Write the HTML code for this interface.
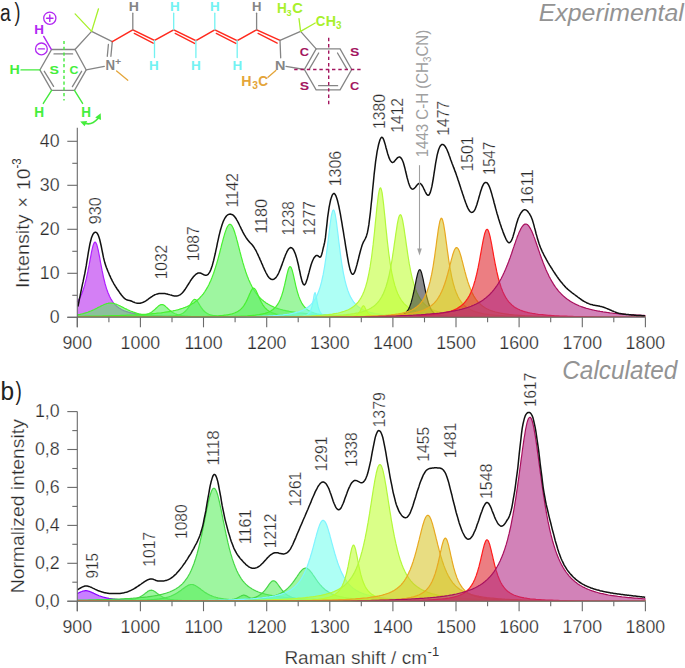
<!DOCTYPE html>
<html><head><meta charset="utf-8"><style>
html,body{margin:0;padding:0;background:#fff;}
svg{display:block;}
text{font-family:"Liberation Sans",sans-serif;}
.tk{font-size:17.8px;fill:#2a2a2a;stroke:#fff;stroke-width:0.25px;}
.pk{font-size:17px;fill:#2a2a2a;stroke:#fff;stroke-width:0.25px;}
.gl{font-size:17px;fill:#a0a0a0;}
.big{font-size:25.5px;fill:#222;}
.it{fill:#939393;font-style:italic;}
.ax{font-size:18px;fill:#2a2a2a;stroke:#fff;stroke-width:0.25px;}
</style></head><body>
<svg width="685" height="668" viewBox="0 0 685 668">
<defs><clipPath id="clipT"><rect x="0" y="0" width="685" height="316.6"/></clipPath><clipPath id="clipB"><rect x="0" y="340" width="685" height="260.5"/></clipPath></defs>
<path d="M77.3,317.3 L77.3,302.0 78.0,300.9 78.8,299.7 79.5,298.4 80.3,297.0 81.0,295.4 81.8,293.7 82.5,291.8 83.3,289.6 84.0,287.3 84.8,284.7 85.5,281.9 86.3,278.9 87.0,275.5 87.8,271.9 88.5,268.1 89.3,264.2 90.0,260.1 90.8,256.1 91.5,252.2 92.3,248.7 93.0,245.8 93.8,243.6 94.5,242.4 95.3,242.1 96.0,242.9 96.8,244.7 97.5,247.3 98.3,250.5 99.0,254.2 99.8,258.2 100.5,262.3 101.3,266.3 102.0,270.2 102.8,273.9 103.5,277.3 104.3,280.5 105.0,283.5 105.8,286.1 106.5,288.6 107.3,290.8 108.0,292.8 108.8,294.6 109.5,296.3 110.3,297.8 111.0,299.1 111.8,300.4 112.5,301.5 113.3,302.5 114.0,303.5 114.8,304.3 115.5,305.1 116.3,305.8 117.0,306.5 117.8,307.1 118.5,307.6 119.3,308.2 120.0,308.6 120.8,309.1 121.5,309.5 122.3,309.9 123.0,310.2 123.8,310.6 124.5,310.9 125.3,311.2 126.0,311.4 126.8,311.7 127.5,311.9 128.3,312.2 129.1,312.4 129.8,312.6 130.6,312.7 131.3,312.9 133.3,313.3 135.3,313.7 137.3,314.0 139.3,314.3 141.3,314.6 143.3,314.8 145.3,315.0 147.3,315.1 149.3,315.3 151.3,315.4 153.3,315.5 155.3,315.7 157.3,315.8 159.3,315.9 161.3,315.9 163.3,316.0 165.3,316.1 167.3,316.1 169.3,316.2 171.3,316.3 173.3,316.3 175.3,316.4 177.3,316.4 179.3,316.5 181.3,316.5 183.3,316.5 185.3,316.6 187.3,316.6 189.3,316.6 191.3,316.6 193.3,316.7 195.3,316.7 197.3,316.7 199.3,316.7 201.3,316.8 203.3,316.8 208.3,316.8 213.3,316.9 218.3,316.9 223.3,316.9 228.3,317.0 233.3,317.0 238.3,317.0 243.3,317.0 248.3,317.0 253.3,317.1 258.3,317.1 263.3,317.1 268.3,317.1 273.3,317.1 278.3,317.1 283.3,317.1 288.3,317.1 293.3,317.1 298.3,317.2 303.3,317.2 308.3,317.2 313.3,317.2 318.3,317.2 323.3,317.2 328.3,317.2 333.3,317.2 338.3,317.2 343.3,317.2 348.3,317.2 353.3,317.2 358.3,317.2 363.3,317.2 368.3,317.2 373.3,317.2 378.3,317.2 383.3,317.2 388.3,317.2 393.3,317.2 398.3,317.2 403.3,317.2 408.3,317.2 413.3,317.2 418.3,317.2 423.3,317.2 428.3,317.2 433.3,317.2 438.3,317.2 443.3,317.2 448.3,317.3 453.3,317.3 458.3,317.3 463.3,317.3 468.3,317.3 473.3,317.3 478.3,317.3 483.3,317.3 488.3,317.3 493.3,317.3 498.3,317.3 503.3,317.3 508.3,317.3 513.3,317.3 518.3,317.3 523.3,317.3 528.3,317.3 533.3,317.3 538.3,317.3 543.3,317.3 548.3,317.3 553.3,317.3 558.3,317.3 563.3,317.3 568.3,317.3 573.3,317.3 578.3,317.3 583.3,317.3 588.3,317.3 593.3,317.3 598.3,317.3 603.3,317.3 608.3,317.3 613.3,317.3 618.3,317.3 623.3,317.3 628.3,317.3 633.3,317.3 638.3,317.3 643.3,317.3 645.5,317.3 L645.5,317.3 Z" fill="rgba(181,34,238,0.58)"/>
<polyline points="77.3,302.0 78.0,300.9 78.8,299.7 79.5,298.4 80.3,297.0 81.0,295.4 81.8,293.7 82.5,291.8 83.3,289.6 84.0,287.3 84.8,284.7 85.5,281.9 86.3,278.9 87.0,275.5 87.8,271.9 88.5,268.1 89.3,264.2 90.0,260.1 90.8,256.1 91.5,252.2 92.3,248.7 93.0,245.8 93.8,243.6 94.5,242.4 95.3,242.1 96.0,242.9 96.8,244.7 97.5,247.3 98.3,250.5 99.0,254.2 99.8,258.2 100.5,262.3 101.3,266.3 102.0,270.2 102.8,273.9 103.5,277.3 104.3,280.5 105.0,283.5 105.8,286.1 106.5,288.6 107.3,290.8 108.0,292.8 108.8,294.6 109.5,296.3 110.3,297.8 111.0,299.1 111.8,300.4 112.5,301.5 113.3,302.5 114.0,303.5 114.8,304.3 115.5,305.1 116.3,305.8 117.0,306.5 117.8,307.1 118.5,307.6 119.3,308.2 120.0,308.6 120.8,309.1 121.5,309.5 122.3,309.9 123.0,310.2 123.8,310.6 124.5,310.9 125.3,311.2 126.0,311.4 126.8,311.7 127.5,311.9 128.3,312.2 129.1,312.4 129.8,312.6 130.6,312.7 131.3,312.9 133.3,313.3 135.3,313.7 137.3,314.0 139.3,314.3 141.3,314.6 143.3,314.8 145.3,315.0 147.3,315.1 149.3,315.3 151.3,315.4 153.3,315.5 155.3,315.7 157.3,315.8 159.3,315.9 161.3,315.9 163.3,316.0 165.3,316.1 167.3,316.1 169.3,316.2 171.3,316.3 173.3,316.3 175.3,316.4 177.3,316.4 179.3,316.5 181.3,316.5 183.3,316.5 185.3,316.6 187.3,316.6 189.3,316.6 191.3,316.6 193.3,316.7 195.3,316.7 197.3,316.7 199.3,316.7 201.3,316.8 203.3,316.8 208.3,316.8 213.3,316.9 218.3,316.9 223.3,316.9 228.3,317.0 233.3,317.0 238.3,317.0 243.3,317.0 248.3,317.0 253.3,317.1 258.3,317.1 263.3,317.1 268.3,317.1 273.3,317.1 278.3,317.1 283.3,317.1 288.3,317.1 293.3,317.1 298.3,317.2 303.3,317.2 308.3,317.2 313.3,317.2 318.3,317.2 323.3,317.2 328.3,317.2 333.3,317.2 338.3,317.2 343.3,317.2 348.3,317.2 353.3,317.2 358.3,317.2 363.3,317.2 368.3,317.2 373.3,317.2 378.3,317.2 383.3,317.2 388.3,317.2 393.3,317.2 398.3,317.2 403.3,317.2 408.3,317.2 413.3,317.2 418.3,317.2 423.3,317.2 428.3,317.2 433.3,317.2 438.3,317.2 443.3,317.2 448.3,317.3 453.3,317.3 458.3,317.3 463.3,317.3 468.3,317.3 473.3,317.3 478.3,317.3 483.3,317.3 488.3,317.3 493.3,317.3 498.3,317.3 503.3,317.3 508.3,317.3 513.3,317.3 518.3,317.3 523.3,317.3 528.3,317.3 533.3,317.3 538.3,317.3 543.3,317.3 548.3,317.3 553.3,317.3 558.3,317.3 563.3,317.3 568.3,317.3 573.3,317.3 578.3,317.3 583.3,317.3 588.3,317.3 593.3,317.3 598.3,317.3 603.3,317.3 608.3,317.3 613.3,317.3 618.3,317.3 623.3,317.3 628.3,317.3 633.3,317.3 638.3,317.3 643.3,317.3 645.5,317.3" fill="none" stroke="#b020ff" stroke-width="1.2" stroke-linejoin="round" clip-path="url(#clipT)"/>
<path d="M77.3,317.3 L77.3,314.9 78.0,314.7 78.8,314.6 79.5,314.5 80.3,314.3 81.0,314.1 81.8,314.0 82.5,313.8 83.3,313.6 84.0,313.4 84.8,313.2 85.5,312.9 86.3,312.7 87.0,312.5 87.8,312.2 88.5,311.9 89.3,311.6 90.0,311.3 90.8,311.0 91.5,310.7 92.3,310.4 93.0,310.0 93.8,309.7 94.5,309.3 95.3,309.0 96.0,308.6 96.8,308.2 97.5,307.8 98.3,307.4 99.0,307.0 99.8,306.7 100.5,306.3 101.3,305.9 102.0,305.5 102.8,305.2 103.5,304.8 104.3,304.5 105.0,304.2 105.8,304.0 106.5,303.7 107.3,303.5 108.0,303.4 108.8,303.2 109.5,303.2 110.3,303.1 111.0,303.1 111.8,303.1 112.5,303.2 113.3,303.4 114.0,303.5 114.8,303.7 115.5,304.0 116.3,304.2 117.0,304.5 117.8,304.8 118.5,305.2 119.3,305.5 120.0,305.9 120.8,306.3 121.5,306.6 122.3,307.0 123.0,307.4 123.8,307.8 124.5,308.2 125.3,308.6 126.0,308.9 126.8,309.3 127.5,309.7 128.3,310.0 129.1,310.4 129.8,310.7 130.6,311.0 131.3,311.3 132.1,311.6 132.8,311.9 133.6,312.2 134.3,312.4 135.1,312.7 135.8,312.9 136.6,313.2 137.3,313.4 138.1,313.6 138.8,313.8 139.6,314.0 140.3,314.1 141.1,314.3 141.8,314.4 142.6,314.6 143.3,314.7 144.1,314.9 144.8,315.0 145.6,315.1 146.3,315.2 147.1,315.3 147.8,315.4 148.6,315.5 149.3,315.5 150.1,315.6 150.8,315.7 151.6,315.8 152.3,315.8 153.1,315.9 153.8,315.9 154.6,316.0 155.3,316.0 156.1,316.1 156.8,316.1 157.6,316.2 158.3,316.2 159.1,316.2 159.8,316.3 160.6,316.3 161.3,316.3 162.1,316.3 162.8,316.4 163.6,316.4 164.3,316.4 165.1,316.4 165.8,316.5 166.6,316.5 167.3,316.5 168.1,316.5 168.8,316.5 169.6,316.6 170.3,316.6 171.1,316.6 171.8,316.6 172.6,316.6 173.3,316.6 174.1,316.7 174.8,316.7 175.6,316.7 176.3,316.7 177.1,316.7 177.8,316.7 178.6,316.7 179.3,316.8 180.1,316.8 180.8,316.8 181.6,316.8 182.3,316.8 183.1,316.8 185.1,316.8 187.1,316.9 189.1,316.9 191.1,316.9 193.1,316.9 195.1,316.9 197.1,316.9 199.1,317.0 201.1,317.0 203.1,317.0 205.1,317.0 207.1,317.0 209.1,317.0 211.1,317.0 213.1,317.0 215.1,317.1 217.1,317.1 219.1,317.1 221.1,317.1 223.1,317.1 225.1,317.1 227.1,317.1 229.1,317.1 231.1,317.1 233.1,317.1 235.1,317.1 237.1,317.1 239.1,317.1 241.1,317.1 243.1,317.1 245.1,317.1 247.1,317.2 249.1,317.2 251.1,317.2 253.1,317.2 255.1,317.2 257.1,317.2 259.1,317.2 261.1,317.2 263.1,317.2 265.1,317.2 267.1,317.2 269.1,317.2 271.1,317.2 273.1,317.2 275.1,317.2 277.1,317.2 279.1,317.2 281.1,317.2 283.1,317.2 285.1,317.2 287.1,317.2 289.1,317.2 291.1,317.2 293.1,317.2 295.1,317.2 297.1,317.2 299.1,317.2 301.1,317.2 303.1,317.2 305.1,317.2 307.1,317.2 309.1,317.2 311.1,317.2 313.1,317.2 315.1,317.2 317.1,317.2 319.1,317.2 321.1,317.2 323.1,317.2 325.1,317.2 327.1,317.2 332.1,317.2 337.1,317.2 342.1,317.2 347.1,317.3 352.1,317.3 357.1,317.3 362.1,317.3 367.1,317.3 372.1,317.3 377.1,317.3 382.1,317.3 387.1,317.3 392.1,317.3 397.1,317.3 402.1,317.3 407.1,317.3 412.1,317.3 417.1,317.3 422.1,317.3 427.1,317.3 432.1,317.3 437.1,317.3 442.1,317.3 447.1,317.3 452.1,317.3 457.1,317.3 462.1,317.3 467.1,317.3 472.1,317.3 477.1,317.3 482.1,317.3 487.1,317.3 492.1,317.3 497.1,317.3 502.1,317.3 507.1,317.3 512.0,317.3 517.0,317.3 522.0,317.3 527.0,317.3 532.0,317.3 537.0,317.3 542.0,317.3 547.0,317.3 552.0,317.3 557.0,317.3 562.0,317.3 567.0,317.3 572.0,317.3 577.0,317.3 582.0,317.3 587.0,317.3 592.0,317.3 597.0,317.3 602.0,317.3 607.0,317.3 612.0,317.3 617.0,317.3 622.0,317.3 627.0,317.3 632.0,317.3 637.0,317.3 642.0,317.3 645.5,317.3 L645.5,317.3 Z" fill="rgba(88,240,92,0.58)"/>
<polyline points="77.3,314.9 78.0,314.7 78.8,314.6 79.5,314.5 80.3,314.3 81.0,314.1 81.8,314.0 82.5,313.8 83.3,313.6 84.0,313.4 84.8,313.2 85.5,312.9 86.3,312.7 87.0,312.5 87.8,312.2 88.5,311.9 89.3,311.6 90.0,311.3 90.8,311.0 91.5,310.7 92.3,310.4 93.0,310.0 93.8,309.7 94.5,309.3 95.3,309.0 96.0,308.6 96.8,308.2 97.5,307.8 98.3,307.4 99.0,307.0 99.8,306.7 100.5,306.3 101.3,305.9 102.0,305.5 102.8,305.2 103.5,304.8 104.3,304.5 105.0,304.2 105.8,304.0 106.5,303.7 107.3,303.5 108.0,303.4 108.8,303.2 109.5,303.2 110.3,303.1 111.0,303.1 111.8,303.1 112.5,303.2 113.3,303.4 114.0,303.5 114.8,303.7 115.5,304.0 116.3,304.2 117.0,304.5 117.8,304.8 118.5,305.2 119.3,305.5 120.0,305.9 120.8,306.3 121.5,306.6 122.3,307.0 123.0,307.4 123.8,307.8 124.5,308.2 125.3,308.6 126.0,308.9 126.8,309.3 127.5,309.7 128.3,310.0 129.1,310.4 129.8,310.7 130.6,311.0 131.3,311.3 132.1,311.6 132.8,311.9 133.6,312.2 134.3,312.4 135.1,312.7 135.8,312.9 136.6,313.2 137.3,313.4 138.1,313.6 138.8,313.8 139.6,314.0 140.3,314.1 141.1,314.3 141.8,314.4 142.6,314.6 143.3,314.7 144.1,314.9 144.8,315.0 145.6,315.1 146.3,315.2 147.1,315.3 147.8,315.4 148.6,315.5 149.3,315.5 150.1,315.6 150.8,315.7 151.6,315.8 152.3,315.8 153.1,315.9 153.8,315.9 154.6,316.0 155.3,316.0 156.1,316.1 156.8,316.1 157.6,316.2 158.3,316.2 159.1,316.2 159.8,316.3 160.6,316.3 161.3,316.3 162.1,316.3 162.8,316.4 163.6,316.4 164.3,316.4 165.1,316.4 165.8,316.5 166.6,316.5 167.3,316.5 168.1,316.5 168.8,316.5 169.6,316.6 170.3,316.6 171.1,316.6 171.8,316.6 172.6,316.6 173.3,316.6 174.1,316.7 174.8,316.7 175.6,316.7 176.3,316.7 177.1,316.7 177.8,316.7 178.6,316.7 179.3,316.8 180.1,316.8 180.8,316.8 181.6,316.8 182.3,316.8 183.1,316.8 185.1,316.8 187.1,316.9 189.1,316.9 191.1,316.9 193.1,316.9 195.1,316.9 197.1,316.9 199.1,317.0 201.1,317.0 203.1,317.0 205.1,317.0 207.1,317.0 209.1,317.0 211.1,317.0 213.1,317.0 215.1,317.1 217.1,317.1 219.1,317.1 221.1,317.1 223.1,317.1 225.1,317.1 227.1,317.1 229.1,317.1 231.1,317.1 233.1,317.1 235.1,317.1 237.1,317.1 239.1,317.1 241.1,317.1 243.1,317.1 245.1,317.1 247.1,317.2 249.1,317.2 251.1,317.2 253.1,317.2 255.1,317.2 257.1,317.2 259.1,317.2 261.1,317.2 263.1,317.2 265.1,317.2 267.1,317.2 269.1,317.2 271.1,317.2 273.1,317.2 275.1,317.2 277.1,317.2 279.1,317.2 281.1,317.2 283.1,317.2 285.1,317.2 287.1,317.2 289.1,317.2 291.1,317.2 293.1,317.2 295.1,317.2 297.1,317.2 299.1,317.2 301.1,317.2 303.1,317.2 305.1,317.2 307.1,317.2 309.1,317.2 311.1,317.2 313.1,317.2 315.1,317.2 317.1,317.2 319.1,317.2 321.1,317.2 323.1,317.2 325.1,317.2 327.1,317.2 332.1,317.2 337.1,317.2 342.1,317.2 347.1,317.3 352.1,317.3 357.1,317.3 362.1,317.3 367.1,317.3 372.1,317.3 377.1,317.3 382.1,317.3 387.1,317.3 392.1,317.3 397.1,317.3 402.1,317.3 407.1,317.3 412.1,317.3 417.1,317.3 422.1,317.3 427.1,317.3 432.1,317.3 437.1,317.3 442.1,317.3 447.1,317.3 452.1,317.3 457.1,317.3 462.1,317.3 467.1,317.3 472.1,317.3 477.1,317.3 482.1,317.3 487.1,317.3 492.1,317.3 497.1,317.3 502.1,317.3 507.1,317.3 512.0,317.3 517.0,317.3 522.0,317.3 527.0,317.3 532.0,317.3 537.0,317.3 542.0,317.3 547.0,317.3 552.0,317.3 557.0,317.3 562.0,317.3 567.0,317.3 572.0,317.3 577.0,317.3 582.0,317.3 587.0,317.3 592.0,317.3 597.0,317.3 602.0,317.3 607.0,317.3 612.0,317.3 617.0,317.3 622.0,317.3 627.0,317.3 632.0,317.3 637.0,317.3 642.0,317.3 645.5,317.3" fill="none" stroke="#48f030" stroke-width="1.2" stroke-linejoin="round" clip-path="url(#clipT)"/>
<path d="M77.3,317.3 L77.3,317.2 79.3,317.2 81.3,317.2 83.3,317.2 85.3,317.2 87.3,317.2 89.3,317.2 91.3,317.1 93.3,317.1 95.3,317.1 97.3,317.1 99.3,317.1 101.3,317.1 103.3,317.1 105.3,317.1 107.3,317.0 109.3,317.0 111.3,317.0 113.3,317.0 115.3,317.0 117.3,316.9 119.3,316.9 121.3,316.8 123.3,316.8 125.3,316.7 127.3,316.7 128.1,316.7 128.8,316.6 129.6,316.6 130.3,316.6 131.1,316.5 131.8,316.5 132.6,316.5 133.3,316.4 134.1,316.4 134.8,316.3 135.6,316.3 136.3,316.2 137.1,316.2 137.8,316.1 138.6,316.0 139.3,315.9 140.1,315.9 140.8,315.8 141.6,315.6 142.3,315.5 143.1,315.4 143.8,315.2 144.6,315.1 145.3,314.9 146.1,314.6 146.8,314.4 147.6,314.1 148.3,313.8 149.1,313.5 149.8,313.1 150.6,312.7 151.3,312.2 152.1,311.7 152.8,311.1 153.6,310.5 154.3,309.9 155.1,309.2 155.8,308.5 156.6,307.8 157.3,307.1 158.1,306.4 158.8,305.8 159.6,305.3 160.3,304.8 161.1,304.6 161.8,304.5 162.6,304.6 163.3,304.8 164.1,305.3 164.8,305.8 165.6,306.4 166.3,307.1 167.1,307.8 167.8,308.5 168.6,309.2 169.3,309.9 170.1,310.5 170.8,311.1 171.6,311.7 172.3,312.2 173.1,312.7 173.8,313.1 174.6,313.5 175.3,313.8 176.1,314.1 176.8,314.4 177.6,314.6 178.3,314.9 179.1,315.1 179.8,315.2 180.6,315.4 181.3,315.5 182.1,315.6 182.8,315.8 183.6,315.9 184.3,315.9 185.1,316.0 185.8,316.1 186.6,316.2 187.3,316.2 188.1,316.3 188.8,316.3 189.6,316.4 190.3,316.4 191.1,316.5 191.8,316.5 192.6,316.5 193.3,316.6 194.1,316.6 194.8,316.6 195.6,316.7 196.3,316.7 197.1,316.7 199.1,316.8 201.1,316.8 203.1,316.9 205.1,316.9 207.1,316.9 209.1,317.0 211.1,317.0 213.1,317.0 215.1,317.0 217.1,317.1 219.1,317.1 221.1,317.1 223.1,317.1 225.1,317.1 227.1,317.1 229.1,317.1 231.1,317.1 233.1,317.1 235.1,317.2 237.1,317.2 239.1,317.2 241.1,317.2 243.1,317.2 245.1,317.2 247.1,317.2 249.1,317.2 251.1,317.2 253.1,317.2 255.1,317.2 257.1,317.2 259.1,317.2 261.1,317.2 263.1,317.2 265.1,317.2 267.1,317.2 272.1,317.2 277.1,317.2 282.1,317.2 287.1,317.3 292.1,317.3 297.1,317.3 302.1,317.3 307.1,317.3 312.1,317.3 317.1,317.3 322.1,317.3 327.1,317.3 332.1,317.3 337.1,317.3 342.1,317.3 347.1,317.3 352.1,317.3 357.1,317.3 362.1,317.3 367.1,317.3 372.1,317.3 377.1,317.3 382.1,317.3 387.1,317.3 392.1,317.3 397.1,317.3 402.1,317.3 407.1,317.3 412.1,317.3 417.1,317.3 422.1,317.3 427.1,317.3 432.1,317.3 437.1,317.3 442.1,317.3 447.1,317.3 452.1,317.3 457.1,317.3 462.1,317.3 467.1,317.3 472.1,317.3 477.1,317.3 482.1,317.3 487.1,317.3 492.1,317.3 497.1,317.3 502.1,317.3 507.1,317.3 512.0,317.3 517.0,317.3 522.0,317.3 527.0,317.3 532.0,317.3 537.0,317.3 542.0,317.3 547.0,317.3 552.0,317.3 557.0,317.3 562.0,317.3 567.0,317.3 572.0,317.3 577.0,317.3 582.0,317.3 587.0,317.3 592.0,317.3 597.0,317.3 602.0,317.3 607.0,317.3 612.0,317.3 617.0,317.3 622.0,317.3 627.0,317.3 632.0,317.3 637.0,317.3 642.0,317.3 645.5,317.3 L645.5,317.3 Z" fill="rgba(88,240,92,0.58)"/>
<polyline points="77.3,317.2 79.3,317.2 81.3,317.2 83.3,317.2 85.3,317.2 87.3,317.2 89.3,317.2 91.3,317.1 93.3,317.1 95.3,317.1 97.3,317.1 99.3,317.1 101.3,317.1 103.3,317.1 105.3,317.1 107.3,317.0 109.3,317.0 111.3,317.0 113.3,317.0 115.3,317.0 117.3,316.9 119.3,316.9 121.3,316.8 123.3,316.8 125.3,316.7 127.3,316.7 128.1,316.7 128.8,316.6 129.6,316.6 130.3,316.6 131.1,316.5 131.8,316.5 132.6,316.5 133.3,316.4 134.1,316.4 134.8,316.3 135.6,316.3 136.3,316.2 137.1,316.2 137.8,316.1 138.6,316.0 139.3,315.9 140.1,315.9 140.8,315.8 141.6,315.6 142.3,315.5 143.1,315.4 143.8,315.2 144.6,315.1 145.3,314.9 146.1,314.6 146.8,314.4 147.6,314.1 148.3,313.8 149.1,313.5 149.8,313.1 150.6,312.7 151.3,312.2 152.1,311.7 152.8,311.1 153.6,310.5 154.3,309.9 155.1,309.2 155.8,308.5 156.6,307.8 157.3,307.1 158.1,306.4 158.8,305.8 159.6,305.3 160.3,304.8 161.1,304.6 161.8,304.5 162.6,304.6 163.3,304.8 164.1,305.3 164.8,305.8 165.6,306.4 166.3,307.1 167.1,307.8 167.8,308.5 168.6,309.2 169.3,309.9 170.1,310.5 170.8,311.1 171.6,311.7 172.3,312.2 173.1,312.7 173.8,313.1 174.6,313.5 175.3,313.8 176.1,314.1 176.8,314.4 177.6,314.6 178.3,314.9 179.1,315.1 179.8,315.2 180.6,315.4 181.3,315.5 182.1,315.6 182.8,315.8 183.6,315.9 184.3,315.9 185.1,316.0 185.8,316.1 186.6,316.2 187.3,316.2 188.1,316.3 188.8,316.3 189.6,316.4 190.3,316.4 191.1,316.5 191.8,316.5 192.6,316.5 193.3,316.6 194.1,316.6 194.8,316.6 195.6,316.7 196.3,316.7 197.1,316.7 199.1,316.8 201.1,316.8 203.1,316.9 205.1,316.9 207.1,316.9 209.1,317.0 211.1,317.0 213.1,317.0 215.1,317.0 217.1,317.1 219.1,317.1 221.1,317.1 223.1,317.1 225.1,317.1 227.1,317.1 229.1,317.1 231.1,317.1 233.1,317.1 235.1,317.2 237.1,317.2 239.1,317.2 241.1,317.2 243.1,317.2 245.1,317.2 247.1,317.2 249.1,317.2 251.1,317.2 253.1,317.2 255.1,317.2 257.1,317.2 259.1,317.2 261.1,317.2 263.1,317.2 265.1,317.2 267.1,317.2 272.1,317.2 277.1,317.2 282.1,317.2 287.1,317.3 292.1,317.3 297.1,317.3 302.1,317.3 307.1,317.3 312.1,317.3 317.1,317.3 322.1,317.3 327.1,317.3 332.1,317.3 337.1,317.3 342.1,317.3 347.1,317.3 352.1,317.3 357.1,317.3 362.1,317.3 367.1,317.3 372.1,317.3 377.1,317.3 382.1,317.3 387.1,317.3 392.1,317.3 397.1,317.3 402.1,317.3 407.1,317.3 412.1,317.3 417.1,317.3 422.1,317.3 427.1,317.3 432.1,317.3 437.1,317.3 442.1,317.3 447.1,317.3 452.1,317.3 457.1,317.3 462.1,317.3 467.1,317.3 472.1,317.3 477.1,317.3 482.1,317.3 487.1,317.3 492.1,317.3 497.1,317.3 502.1,317.3 507.1,317.3 512.0,317.3 517.0,317.3 522.0,317.3 527.0,317.3 532.0,317.3 537.0,317.3 542.0,317.3 547.0,317.3 552.0,317.3 557.0,317.3 562.0,317.3 567.0,317.3 572.0,317.3 577.0,317.3 582.0,317.3 587.0,317.3 592.0,317.3 597.0,317.3 602.0,317.3 607.0,317.3 612.0,317.3 617.0,317.3 622.0,317.3 627.0,317.3 632.0,317.3 637.0,317.3 642.0,317.3 645.5,317.3" fill="none" stroke="#48f030" stroke-width="1.2" stroke-linejoin="round" clip-path="url(#clipT)"/>
<path d="M77.3,317.3 L77.3,317.2 82.3,317.2 87.3,317.2 92.3,317.2 97.3,317.2 102.3,317.2 107.3,317.2 112.3,317.2 114.3,317.2 116.3,317.2 118.3,317.2 120.3,317.2 122.3,317.2 124.3,317.2 126.3,317.2 128.3,317.1 130.3,317.1 132.3,317.1 134.3,317.1 136.3,317.1 138.3,317.1 140.3,317.1 142.3,317.0 144.3,317.0 146.3,317.0 148.3,317.0 150.3,317.0 152.3,316.9 154.3,316.9 156.3,316.8 158.3,316.8 160.3,316.7 162.3,316.7 164.3,316.6 166.3,316.5 168.3,316.4 169.1,316.3 169.8,316.3 170.6,316.2 171.3,316.1 172.1,316.1 172.8,316.0 173.6,315.9 174.3,315.8 175.1,315.7 175.8,315.6 176.6,315.4 177.3,315.3 178.1,315.1 178.8,314.9 179.6,314.7 180.3,314.4 181.1,314.1 181.8,313.8 182.6,313.3 183.3,312.9 184.1,312.3 184.8,311.7 185.6,311.0 186.3,310.2 187.1,309.3 187.8,308.4 188.6,307.3 189.3,306.1 190.1,304.9 190.8,303.7 191.6,302.4 192.3,301.3 193.1,300.4 193.8,299.7 194.6,299.4 195.3,299.5 196.1,299.9 196.8,300.7 197.6,301.7 198.3,302.8 199.1,304.1 199.8,305.3 200.6,306.5 201.3,307.6 202.1,308.7 202.8,309.6 203.6,310.5 204.3,311.3 205.1,311.9 205.8,312.5 206.6,313.0 207.3,313.5 208.1,313.9 208.8,314.2 209.6,314.5 210.3,314.8 211.1,315.0 211.8,315.2 212.6,315.3 213.3,315.5 214.1,315.6 214.8,315.7 215.6,315.8 216.3,315.9 217.1,316.0 217.8,316.1 218.6,316.2 219.3,316.2 220.1,316.3 220.8,316.3 221.6,316.4 222.3,316.4 223.1,316.5 225.1,316.6 227.1,316.7 229.1,316.7 231.1,316.8 233.1,316.8 235.1,316.9 237.1,316.9 239.1,317.0 241.1,317.0 243.1,317.0 245.1,317.0 247.1,317.0 249.1,317.1 251.1,317.1 253.1,317.1 255.1,317.1 257.1,317.1 259.1,317.1 261.1,317.1 263.1,317.2 265.1,317.2 267.1,317.2 269.1,317.2 271.1,317.2 273.1,317.2 275.1,317.2 277.1,317.2 279.1,317.2 284.1,317.2 289.1,317.2 294.1,317.2 299.1,317.2 304.1,317.2 309.1,317.2 314.1,317.3 319.1,317.3 324.1,317.3 329.1,317.3 334.1,317.3 339.1,317.3 344.1,317.3 349.1,317.3 354.1,317.3 359.1,317.3 364.1,317.3 369.1,317.3 374.1,317.3 379.1,317.3 384.1,317.3 389.1,317.3 394.1,317.3 399.1,317.3 404.1,317.3 409.1,317.3 414.1,317.3 419.1,317.3 424.1,317.3 429.1,317.3 434.1,317.3 439.1,317.3 444.1,317.3 449.1,317.3 454.1,317.3 459.1,317.3 464.1,317.3 469.1,317.3 474.1,317.3 479.1,317.3 484.1,317.3 489.1,317.3 494.1,317.3 499.1,317.3 504.1,317.3 509.1,317.3 514.0,317.3 519.0,317.3 524.0,317.3 529.0,317.3 534.0,317.3 539.0,317.3 544.0,317.3 549.0,317.3 554.0,317.3 559.0,317.3 564.0,317.3 569.0,317.3 574.0,317.3 579.0,317.3 584.0,317.3 589.0,317.3 594.0,317.3 599.0,317.3 604.0,317.3 609.0,317.3 614.0,317.3 619.0,317.3 624.0,317.3 629.0,317.3 634.0,317.3 639.0,317.3 644.0,317.3 645.5,317.3 L645.5,317.3 Z" fill="rgba(88,240,92,0.58)"/>
<polyline points="77.3,317.2 82.3,317.2 87.3,317.2 92.3,317.2 97.3,317.2 102.3,317.2 107.3,317.2 112.3,317.2 114.3,317.2 116.3,317.2 118.3,317.2 120.3,317.2 122.3,317.2 124.3,317.2 126.3,317.2 128.3,317.1 130.3,317.1 132.3,317.1 134.3,317.1 136.3,317.1 138.3,317.1 140.3,317.1 142.3,317.0 144.3,317.0 146.3,317.0 148.3,317.0 150.3,317.0 152.3,316.9 154.3,316.9 156.3,316.8 158.3,316.8 160.3,316.7 162.3,316.7 164.3,316.6 166.3,316.5 168.3,316.4 169.1,316.3 169.8,316.3 170.6,316.2 171.3,316.1 172.1,316.1 172.8,316.0 173.6,315.9 174.3,315.8 175.1,315.7 175.8,315.6 176.6,315.4 177.3,315.3 178.1,315.1 178.8,314.9 179.6,314.7 180.3,314.4 181.1,314.1 181.8,313.8 182.6,313.3 183.3,312.9 184.1,312.3 184.8,311.7 185.6,311.0 186.3,310.2 187.1,309.3 187.8,308.4 188.6,307.3 189.3,306.1 190.1,304.9 190.8,303.7 191.6,302.4 192.3,301.3 193.1,300.4 193.8,299.7 194.6,299.4 195.3,299.5 196.1,299.9 196.8,300.7 197.6,301.7 198.3,302.8 199.1,304.1 199.8,305.3 200.6,306.5 201.3,307.6 202.1,308.7 202.8,309.6 203.6,310.5 204.3,311.3 205.1,311.9 205.8,312.5 206.6,313.0 207.3,313.5 208.1,313.9 208.8,314.2 209.6,314.5 210.3,314.8 211.1,315.0 211.8,315.2 212.6,315.3 213.3,315.5 214.1,315.6 214.8,315.7 215.6,315.8 216.3,315.9 217.1,316.0 217.8,316.1 218.6,316.2 219.3,316.2 220.1,316.3 220.8,316.3 221.6,316.4 222.3,316.4 223.1,316.5 225.1,316.6 227.1,316.7 229.1,316.7 231.1,316.8 233.1,316.8 235.1,316.9 237.1,316.9 239.1,317.0 241.1,317.0 243.1,317.0 245.1,317.0 247.1,317.0 249.1,317.1 251.1,317.1 253.1,317.1 255.1,317.1 257.1,317.1 259.1,317.1 261.1,317.1 263.1,317.2 265.1,317.2 267.1,317.2 269.1,317.2 271.1,317.2 273.1,317.2 275.1,317.2 277.1,317.2 279.1,317.2 284.1,317.2 289.1,317.2 294.1,317.2 299.1,317.2 304.1,317.2 309.1,317.2 314.1,317.3 319.1,317.3 324.1,317.3 329.1,317.3 334.1,317.3 339.1,317.3 344.1,317.3 349.1,317.3 354.1,317.3 359.1,317.3 364.1,317.3 369.1,317.3 374.1,317.3 379.1,317.3 384.1,317.3 389.1,317.3 394.1,317.3 399.1,317.3 404.1,317.3 409.1,317.3 414.1,317.3 419.1,317.3 424.1,317.3 429.1,317.3 434.1,317.3 439.1,317.3 444.1,317.3 449.1,317.3 454.1,317.3 459.1,317.3 464.1,317.3 469.1,317.3 474.1,317.3 479.1,317.3 484.1,317.3 489.1,317.3 494.1,317.3 499.1,317.3 504.1,317.3 509.1,317.3 514.0,317.3 519.0,317.3 524.0,317.3 529.0,317.3 534.0,317.3 539.0,317.3 544.0,317.3 549.0,317.3 554.0,317.3 559.0,317.3 564.0,317.3 569.0,317.3 574.0,317.3 579.0,317.3 584.0,317.3 589.0,317.3 594.0,317.3 599.0,317.3 604.0,317.3 609.0,317.3 614.0,317.3 619.0,317.3 624.0,317.3 629.0,317.3 634.0,317.3 639.0,317.3 644.0,317.3 645.5,317.3" fill="none" stroke="#48f030" stroke-width="1.2" stroke-linejoin="round" clip-path="url(#clipT)"/>
<path d="M77.3,317.3 L77.3,316.4 79.3,316.3 81.3,316.3 83.3,316.3 85.3,316.2 87.3,316.2 89.3,316.2 91.3,316.2 93.3,316.1 95.3,316.1 97.3,316.0 99.3,316.0 101.3,316.0 103.3,315.9 105.3,315.9 107.3,315.8 109.3,315.8 111.3,315.7 113.3,315.7 115.3,315.6 117.3,315.6 119.3,315.5 121.3,315.4 123.3,315.4 125.3,315.3 127.3,315.2 129.3,315.1 131.3,315.1 133.3,315.0 135.3,314.9 137.3,314.8 139.3,314.7 141.3,314.5 143.3,314.4 145.3,314.3 147.3,314.1 149.3,314.0 151.3,313.8 153.3,313.6 155.3,313.5 157.3,313.2 159.3,313.0 161.3,312.8 163.3,312.5 165.3,312.2 167.3,311.9 169.3,311.6 170.1,311.5 170.8,311.3 171.6,311.2 172.3,311.0 173.1,310.9 173.8,310.7 174.6,310.5 175.3,310.4 176.1,310.2 176.8,310.0 177.6,309.8 178.3,309.6 179.1,309.4 179.8,309.2 180.6,308.9 181.3,308.7 182.1,308.5 182.8,308.2 183.6,307.9 184.3,307.7 185.1,307.4 185.8,307.1 186.6,306.8 187.3,306.4 188.1,306.1 188.8,305.7 189.6,305.3 190.3,304.9 191.1,304.5 191.8,304.1 192.6,303.6 193.3,303.2 194.1,302.7 194.8,302.1 195.6,301.6 196.3,301.0 197.1,300.4 197.8,299.7 198.6,299.0 199.3,298.3 200.1,297.5 200.8,296.7 201.6,295.9 202.3,295.0 203.1,294.1 203.8,293.1 204.6,292.0 205.3,290.9 206.1,289.7 206.8,288.4 207.6,287.1 208.3,285.7 209.1,284.2 209.8,282.6 210.6,281.0 211.3,279.2 212.1,277.3 212.8,275.4 213.6,273.3 214.3,271.1 215.1,268.8 215.8,266.4 216.6,263.9 217.3,261.3 218.1,258.6 218.8,255.8 219.6,253.0 220.3,250.1 221.1,247.2 221.8,244.2 222.6,241.4 223.3,238.6 224.1,235.9 224.8,233.4 225.6,231.1 226.3,229.1 227.1,227.3 227.8,226.0 228.6,225.0 229.3,224.4 230.1,224.3 230.8,224.6 231.6,225.3 232.3,226.5 233.1,228.0 233.8,229.8 234.6,232.0 235.3,234.4 236.1,236.9 236.8,239.7 237.6,242.5 238.3,245.4 239.1,248.3 239.8,251.2 240.6,254.1 241.3,256.9 242.1,259.7 242.8,262.4 243.6,264.9 244.3,267.4 245.1,269.7 245.8,272.0 246.6,274.1 247.3,276.2 248.1,278.1 248.8,279.9 249.6,281.6 250.3,283.3 251.1,284.8 251.8,286.3 252.6,287.6 253.3,288.9 254.1,290.2 254.8,291.3 255.6,292.4 256.3,293.5 257.1,294.4 257.8,295.4 258.6,296.2 259.3,297.1 260.1,297.9 260.8,298.6 261.6,299.3 262.3,300.0 263.1,300.6 263.8,301.2 264.6,301.8 265.3,302.3 266.1,302.9 266.8,303.4 267.6,303.8 268.3,304.3 269.1,304.7 269.8,305.1 270.6,305.5 271.3,305.9 272.1,306.2 272.8,306.6 273.6,306.9 274.3,307.2 275.1,307.5 275.8,307.8 276.6,308.1 277.3,308.3 278.1,308.6 278.8,308.8 279.6,309.0 280.3,309.3 281.1,309.5 281.8,309.7 282.6,309.9 283.3,310.1 284.1,310.3 284.8,310.4 285.6,310.6 286.3,310.8 287.1,310.9 287.8,311.1 288.6,311.2 289.3,311.4 290.1,311.5 290.8,311.6 291.6,311.8 292.3,311.9 294.3,312.2 296.3,312.5 298.3,312.8 300.3,313.0 302.3,313.2 304.3,313.4 306.3,313.6 308.3,313.8 310.3,314.0 312.3,314.1 314.3,314.3 316.3,314.4 318.3,314.5 320.3,314.6 322.3,314.8 324.3,314.9 326.3,315.0 328.3,315.0 330.3,315.1 332.3,315.2 334.3,315.3 336.3,315.4 338.3,315.4 340.3,315.5 342.3,315.6 344.3,315.6 346.3,315.7 348.3,315.7 350.3,315.8 352.3,315.8 354.3,315.9 356.3,315.9 358.3,316.0 360.3,316.0 362.3,316.0 364.3,316.1 366.3,316.1 368.3,316.1 370.3,316.2 372.3,316.2 374.3,316.2 376.3,316.3 378.3,316.3 380.3,316.3 382.3,316.3 384.3,316.4 386.3,316.4 388.3,316.4 390.3,316.4 392.3,316.5 394.3,316.5 396.3,316.5 398.3,316.5 400.3,316.5 402.3,316.6 404.3,316.6 406.3,316.6 408.3,316.6 410.3,316.6 412.3,316.6 414.3,316.6 416.3,316.7 421.3,316.7 426.3,316.7 431.3,316.8 436.3,316.8 441.3,316.8 446.3,316.8 451.3,316.8 456.3,316.9 461.3,316.9 466.3,316.9 471.3,316.9 476.3,316.9 481.3,316.9 486.3,317.0 491.3,317.0 496.3,317.0 501.3,317.0 506.3,317.0 511.3,317.0 516.3,317.0 521.3,317.0 526.3,317.0 531.3,317.1 536.3,317.1 541.3,317.1 546.3,317.1 551.3,317.1 556.3,317.1 561.3,317.1 566.3,317.1 571.3,317.1 576.3,317.1 581.3,317.1 586.3,317.1 591.3,317.1 596.3,317.1 601.3,317.1 606.3,317.1 611.3,317.1 616.3,317.2 621.3,317.2 626.3,317.2 631.3,317.2 636.3,317.2 641.3,317.2 645.5,317.2 L645.5,317.3 Z" fill="rgba(88,240,92,0.58)"/>
<polyline points="77.3,316.4 79.3,316.3 81.3,316.3 83.3,316.3 85.3,316.2 87.3,316.2 89.3,316.2 91.3,316.2 93.3,316.1 95.3,316.1 97.3,316.0 99.3,316.0 101.3,316.0 103.3,315.9 105.3,315.9 107.3,315.8 109.3,315.8 111.3,315.7 113.3,315.7 115.3,315.6 117.3,315.6 119.3,315.5 121.3,315.4 123.3,315.4 125.3,315.3 127.3,315.2 129.3,315.1 131.3,315.1 133.3,315.0 135.3,314.9 137.3,314.8 139.3,314.7 141.3,314.5 143.3,314.4 145.3,314.3 147.3,314.1 149.3,314.0 151.3,313.8 153.3,313.6 155.3,313.5 157.3,313.2 159.3,313.0 161.3,312.8 163.3,312.5 165.3,312.2 167.3,311.9 169.3,311.6 170.1,311.5 170.8,311.3 171.6,311.2 172.3,311.0 173.1,310.9 173.8,310.7 174.6,310.5 175.3,310.4 176.1,310.2 176.8,310.0 177.6,309.8 178.3,309.6 179.1,309.4 179.8,309.2 180.6,308.9 181.3,308.7 182.1,308.5 182.8,308.2 183.6,307.9 184.3,307.7 185.1,307.4 185.8,307.1 186.6,306.8 187.3,306.4 188.1,306.1 188.8,305.7 189.6,305.3 190.3,304.9 191.1,304.5 191.8,304.1 192.6,303.6 193.3,303.2 194.1,302.7 194.8,302.1 195.6,301.6 196.3,301.0 197.1,300.4 197.8,299.7 198.6,299.0 199.3,298.3 200.1,297.5 200.8,296.7 201.6,295.9 202.3,295.0 203.1,294.1 203.8,293.1 204.6,292.0 205.3,290.9 206.1,289.7 206.8,288.4 207.6,287.1 208.3,285.7 209.1,284.2 209.8,282.6 210.6,281.0 211.3,279.2 212.1,277.3 212.8,275.4 213.6,273.3 214.3,271.1 215.1,268.8 215.8,266.4 216.6,263.9 217.3,261.3 218.1,258.6 218.8,255.8 219.6,253.0 220.3,250.1 221.1,247.2 221.8,244.2 222.6,241.4 223.3,238.6 224.1,235.9 224.8,233.4 225.6,231.1 226.3,229.1 227.1,227.3 227.8,226.0 228.6,225.0 229.3,224.4 230.1,224.3 230.8,224.6 231.6,225.3 232.3,226.5 233.1,228.0 233.8,229.8 234.6,232.0 235.3,234.4 236.1,236.9 236.8,239.7 237.6,242.5 238.3,245.4 239.1,248.3 239.8,251.2 240.6,254.1 241.3,256.9 242.1,259.7 242.8,262.4 243.6,264.9 244.3,267.4 245.1,269.7 245.8,272.0 246.6,274.1 247.3,276.2 248.1,278.1 248.8,279.9 249.6,281.6 250.3,283.3 251.1,284.8 251.8,286.3 252.6,287.6 253.3,288.9 254.1,290.2 254.8,291.3 255.6,292.4 256.3,293.5 257.1,294.4 257.8,295.4 258.6,296.2 259.3,297.1 260.1,297.9 260.8,298.6 261.6,299.3 262.3,300.0 263.1,300.6 263.8,301.2 264.6,301.8 265.3,302.3 266.1,302.9 266.8,303.4 267.6,303.8 268.3,304.3 269.1,304.7 269.8,305.1 270.6,305.5 271.3,305.9 272.1,306.2 272.8,306.6 273.6,306.9 274.3,307.2 275.1,307.5 275.8,307.8 276.6,308.1 277.3,308.3 278.1,308.6 278.8,308.8 279.6,309.0 280.3,309.3 281.1,309.5 281.8,309.7 282.6,309.9 283.3,310.1 284.1,310.3 284.8,310.4 285.6,310.6 286.3,310.8 287.1,310.9 287.8,311.1 288.6,311.2 289.3,311.4 290.1,311.5 290.8,311.6 291.6,311.8 292.3,311.9 294.3,312.2 296.3,312.5 298.3,312.8 300.3,313.0 302.3,313.2 304.3,313.4 306.3,313.6 308.3,313.8 310.3,314.0 312.3,314.1 314.3,314.3 316.3,314.4 318.3,314.5 320.3,314.6 322.3,314.8 324.3,314.9 326.3,315.0 328.3,315.0 330.3,315.1 332.3,315.2 334.3,315.3 336.3,315.4 338.3,315.4 340.3,315.5 342.3,315.6 344.3,315.6 346.3,315.7 348.3,315.7 350.3,315.8 352.3,315.8 354.3,315.9 356.3,315.9 358.3,316.0 360.3,316.0 362.3,316.0 364.3,316.1 366.3,316.1 368.3,316.1 370.3,316.2 372.3,316.2 374.3,316.2 376.3,316.3 378.3,316.3 380.3,316.3 382.3,316.3 384.3,316.4 386.3,316.4 388.3,316.4 390.3,316.4 392.3,316.5 394.3,316.5 396.3,316.5 398.3,316.5 400.3,316.5 402.3,316.6 404.3,316.6 406.3,316.6 408.3,316.6 410.3,316.6 412.3,316.6 414.3,316.6 416.3,316.7 421.3,316.7 426.3,316.7 431.3,316.8 436.3,316.8 441.3,316.8 446.3,316.8 451.3,316.8 456.3,316.9 461.3,316.9 466.3,316.9 471.3,316.9 476.3,316.9 481.3,316.9 486.3,317.0 491.3,317.0 496.3,317.0 501.3,317.0 506.3,317.0 511.3,317.0 516.3,317.0 521.3,317.0 526.3,317.0 531.3,317.1 536.3,317.1 541.3,317.1 546.3,317.1 551.3,317.1 556.3,317.1 561.3,317.1 566.3,317.1 571.3,317.1 576.3,317.1 581.3,317.1 586.3,317.1 591.3,317.1 596.3,317.1 601.3,317.1 606.3,317.1 611.3,317.1 616.3,317.2 621.3,317.2 626.3,317.2 631.3,317.2 636.3,317.2 641.3,317.2 645.5,317.2" fill="none" stroke="#48f030" stroke-width="1.2" stroke-linejoin="round" clip-path="url(#clipT)"/>
<path d="M77.3,317.3 L77.3,317.2 82.3,317.2 87.3,317.2 92.3,317.2 97.3,317.2 102.3,317.2 107.3,317.2 112.3,317.2 117.3,317.2 122.3,317.2 127.3,317.2 132.3,317.2 137.3,317.2 142.3,317.2 147.3,317.1 152.3,317.1 157.3,317.1 162.3,317.1 164.3,317.1 166.3,317.1 168.3,317.0 170.3,317.0 172.3,317.0 174.3,317.0 176.3,317.0 178.3,317.0 180.3,317.0 182.3,316.9 184.3,316.9 186.3,316.9 188.3,316.9 190.3,316.8 192.3,316.8 194.3,316.8 196.3,316.7 198.3,316.7 200.3,316.7 202.3,316.6 204.3,316.6 206.3,316.5 208.3,316.4 210.3,316.3 212.3,316.2 214.3,316.1 216.3,316.0 218.3,315.9 220.3,315.7 222.3,315.5 223.1,315.4 223.8,315.3 224.6,315.2 225.3,315.1 226.1,315.0 226.8,314.9 227.6,314.8 228.3,314.7 229.1,314.5 229.8,314.3 230.6,314.2 231.3,314.0 232.1,313.8 232.8,313.6 233.6,313.3 234.3,313.0 235.1,312.7 235.8,312.4 236.6,312.0 237.3,311.7 238.1,311.2 238.8,310.7 239.6,310.2 240.3,309.6 241.1,308.9 241.8,308.1 242.6,307.3 243.3,306.4 244.1,305.3 244.8,304.1 245.6,302.8 246.3,301.4 247.1,299.9 247.8,298.2 248.6,296.5 249.3,294.7 250.1,293.0 250.8,291.4 251.6,290.0 252.3,288.9 253.1,288.3 253.8,288.2 254.6,288.6 255.3,289.5 256.1,290.7 256.8,292.2 257.6,293.9 258.3,295.7 259.1,297.4 259.8,299.1 260.6,300.7 261.3,302.2 262.1,303.5 262.8,304.8 263.6,305.9 264.3,306.9 265.1,307.8 265.8,308.5 266.6,309.3 267.3,309.9 268.1,310.5 268.8,311.0 269.6,311.5 270.3,311.9 271.1,312.2 271.8,312.6 272.6,312.9 273.3,313.2 274.1,313.4 274.8,313.7 275.6,313.9 276.3,314.1 277.1,314.3 277.8,314.4 278.6,314.6 279.3,314.7 280.1,314.9 280.8,315.0 281.6,315.1 282.3,315.2 283.1,315.3 283.8,315.4 284.6,315.5 285.3,315.6 286.1,315.6 288.1,315.8 290.1,316.0 292.1,316.1 294.1,316.2 296.1,316.3 298.1,316.4 300.1,316.5 302.1,316.5 304.1,316.6 306.1,316.6 308.1,316.7 310.1,316.7 312.1,316.8 314.1,316.8 316.1,316.8 318.1,316.9 320.1,316.9 322.1,316.9 324.1,316.9 326.1,316.9 328.1,317.0 330.1,317.0 332.1,317.0 334.1,317.0 336.1,317.0 338.1,317.0 340.1,317.1 342.1,317.1 344.1,317.1 346.1,317.1 348.1,317.1 350.1,317.1 355.1,317.1 360.1,317.1 365.1,317.2 370.1,317.2 375.1,317.2 380.1,317.2 385.1,317.2 390.1,317.2 395.1,317.2 400.1,317.2 405.1,317.2 410.1,317.2 415.1,317.2 420.1,317.2 425.1,317.2 430.1,317.2 435.1,317.2 440.1,317.2 445.1,317.2 450.1,317.3 455.1,317.3 460.1,317.3 465.1,317.3 470.1,317.3 475.1,317.3 480.1,317.3 485.1,317.3 490.1,317.3 495.1,317.3 500.1,317.3 505.1,317.3 510.1,317.3 515.0,317.3 520.0,317.3 525.0,317.3 530.0,317.3 535.0,317.3 540.0,317.3 545.0,317.3 550.0,317.3 555.0,317.3 560.0,317.3 565.0,317.3 570.0,317.3 575.0,317.3 580.0,317.3 585.0,317.3 590.0,317.3 595.0,317.3 600.0,317.3 605.0,317.3 610.0,317.3 615.0,317.3 620.0,317.3 625.0,317.3 630.0,317.3 635.0,317.3 640.0,317.3 645.0,317.3 645.5,317.3 L645.5,317.3 Z" fill="rgba(88,240,92,0.58)"/>
<polyline points="77.3,317.2 82.3,317.2 87.3,317.2 92.3,317.2 97.3,317.2 102.3,317.2 107.3,317.2 112.3,317.2 117.3,317.2 122.3,317.2 127.3,317.2 132.3,317.2 137.3,317.2 142.3,317.2 147.3,317.1 152.3,317.1 157.3,317.1 162.3,317.1 164.3,317.1 166.3,317.1 168.3,317.0 170.3,317.0 172.3,317.0 174.3,317.0 176.3,317.0 178.3,317.0 180.3,317.0 182.3,316.9 184.3,316.9 186.3,316.9 188.3,316.9 190.3,316.8 192.3,316.8 194.3,316.8 196.3,316.7 198.3,316.7 200.3,316.7 202.3,316.6 204.3,316.6 206.3,316.5 208.3,316.4 210.3,316.3 212.3,316.2 214.3,316.1 216.3,316.0 218.3,315.9 220.3,315.7 222.3,315.5 223.1,315.4 223.8,315.3 224.6,315.2 225.3,315.1 226.1,315.0 226.8,314.9 227.6,314.8 228.3,314.7 229.1,314.5 229.8,314.3 230.6,314.2 231.3,314.0 232.1,313.8 232.8,313.6 233.6,313.3 234.3,313.0 235.1,312.7 235.8,312.4 236.6,312.0 237.3,311.7 238.1,311.2 238.8,310.7 239.6,310.2 240.3,309.6 241.1,308.9 241.8,308.1 242.6,307.3 243.3,306.4 244.1,305.3 244.8,304.1 245.6,302.8 246.3,301.4 247.1,299.9 247.8,298.2 248.6,296.5 249.3,294.7 250.1,293.0 250.8,291.4 251.6,290.0 252.3,288.9 253.1,288.3 253.8,288.2 254.6,288.6 255.3,289.5 256.1,290.7 256.8,292.2 257.6,293.9 258.3,295.7 259.1,297.4 259.8,299.1 260.6,300.7 261.3,302.2 262.1,303.5 262.8,304.8 263.6,305.9 264.3,306.9 265.1,307.8 265.8,308.5 266.6,309.3 267.3,309.9 268.1,310.5 268.8,311.0 269.6,311.5 270.3,311.9 271.1,312.2 271.8,312.6 272.6,312.9 273.3,313.2 274.1,313.4 274.8,313.7 275.6,313.9 276.3,314.1 277.1,314.3 277.8,314.4 278.6,314.6 279.3,314.7 280.1,314.9 280.8,315.0 281.6,315.1 282.3,315.2 283.1,315.3 283.8,315.4 284.6,315.5 285.3,315.6 286.1,315.6 288.1,315.8 290.1,316.0 292.1,316.1 294.1,316.2 296.1,316.3 298.1,316.4 300.1,316.5 302.1,316.5 304.1,316.6 306.1,316.6 308.1,316.7 310.1,316.7 312.1,316.8 314.1,316.8 316.1,316.8 318.1,316.9 320.1,316.9 322.1,316.9 324.1,316.9 326.1,316.9 328.1,317.0 330.1,317.0 332.1,317.0 334.1,317.0 336.1,317.0 338.1,317.0 340.1,317.1 342.1,317.1 344.1,317.1 346.1,317.1 348.1,317.1 350.1,317.1 355.1,317.1 360.1,317.1 365.1,317.2 370.1,317.2 375.1,317.2 380.1,317.2 385.1,317.2 390.1,317.2 395.1,317.2 400.1,317.2 405.1,317.2 410.1,317.2 415.1,317.2 420.1,317.2 425.1,317.2 430.1,317.2 435.1,317.2 440.1,317.2 445.1,317.2 450.1,317.3 455.1,317.3 460.1,317.3 465.1,317.3 470.1,317.3 475.1,317.3 480.1,317.3 485.1,317.3 490.1,317.3 495.1,317.3 500.1,317.3 505.1,317.3 510.1,317.3 515.0,317.3 520.0,317.3 525.0,317.3 530.0,317.3 535.0,317.3 540.0,317.3 545.0,317.3 550.0,317.3 555.0,317.3 560.0,317.3 565.0,317.3 570.0,317.3 575.0,317.3 580.0,317.3 585.0,317.3 590.0,317.3 595.0,317.3 600.0,317.3 605.0,317.3 610.0,317.3 615.0,317.3 620.0,317.3 625.0,317.3 630.0,317.3 635.0,317.3 640.0,317.3 645.0,317.3 645.5,317.3" fill="none" stroke="#48f030" stroke-width="1.2" stroke-linejoin="round" clip-path="url(#clipT)"/>
<path d="M77.3,317.3 L77.3,317.2 82.3,317.2 87.3,317.2 92.3,317.2 97.3,317.2 102.3,317.2 107.3,317.2 112.3,317.2 117.3,317.2 122.3,317.2 127.3,317.2 132.3,317.2 137.3,317.2 142.3,317.2 147.3,317.2 152.3,317.2 157.3,317.1 162.3,317.1 167.3,317.1 172.3,317.1 177.3,317.1 182.3,317.1 187.3,317.0 192.3,317.0 197.3,317.0 202.3,317.0 207.3,316.9 209.3,316.9 211.3,316.9 213.3,316.8 215.3,316.8 217.3,316.8 219.3,316.8 221.3,316.7 223.3,316.7 225.3,316.7 227.3,316.6 229.3,316.6 231.3,316.5 233.3,316.5 235.3,316.4 237.3,316.3 239.3,316.3 241.3,316.2 243.3,316.1 245.3,316.0 247.3,315.9 249.3,315.7 251.3,315.6 253.3,315.4 255.3,315.2 257.3,314.9 259.3,314.6 261.3,314.2 262.1,314.1 262.8,313.9 263.6,313.7 264.3,313.5 265.1,313.3 265.8,313.1 266.6,312.9 267.3,312.6 268.1,312.3 268.8,312.0 269.6,311.6 270.3,311.2 271.1,310.8 271.8,310.3 272.6,309.8 273.3,309.2 274.1,308.6 274.8,307.9 275.6,307.1 276.3,306.2 277.1,305.2 277.8,304.1 278.6,302.8 279.3,301.4 280.1,299.8 280.8,298.0 281.6,295.9 282.3,293.6 283.1,291.1 283.8,288.2 284.6,285.2 285.3,281.9 286.1,278.5 286.8,275.2 287.6,272.1 288.3,269.5 289.1,267.6 289.8,266.7 290.6,266.8 291.3,267.9 292.1,270.0 292.8,272.7 293.6,275.9 294.3,279.2 295.1,282.6 295.8,285.8 296.6,288.8 297.3,291.6 298.1,294.1 298.8,296.4 299.6,298.4 300.3,300.1 301.1,301.7 301.8,303.1 302.6,304.3 303.3,305.4 304.1,306.4 304.8,307.3 305.6,308.0 306.3,308.7 307.1,309.4 307.8,309.9 308.6,310.4 309.3,310.9 310.1,311.3 310.8,311.7 311.6,312.0 312.3,312.4 313.1,312.6 313.8,312.9 314.6,313.2 315.3,313.4 316.1,313.6 316.8,313.8 317.6,314.0 318.3,314.1 319.1,314.3 319.8,314.4 321.8,314.7 323.8,315.0 325.8,315.3 327.8,315.5 329.8,315.6 331.8,315.8 333.8,315.9 335.8,316.0 337.8,316.1 339.8,316.2 341.8,316.3 343.8,316.4 345.8,316.4 347.8,316.5 349.8,316.6 351.8,316.6 353.8,316.6 355.8,316.7 357.8,316.7 359.8,316.7 361.8,316.8 363.8,316.8 365.8,316.8 367.8,316.9 369.8,316.9 371.8,316.9 373.8,316.9 375.8,316.9 377.8,317.0 382.8,317.0 387.8,317.0 392.8,317.0 397.8,317.1 402.8,317.1 407.8,317.1 412.8,317.1 417.8,317.1 422.8,317.1 427.8,317.2 432.8,317.2 437.8,317.2 442.8,317.2 447.8,317.2 452.8,317.2 457.8,317.2 462.8,317.2 467.8,317.2 472.8,317.2 477.8,317.2 482.8,317.2 487.8,317.2 492.8,317.2 497.8,317.2 502.8,317.2 507.8,317.2 512.8,317.2 517.8,317.2 522.8,317.3 527.8,317.3 532.8,317.3 537.8,317.3 542.8,317.3 547.8,317.3 552.8,317.3 557.8,317.3 562.8,317.3 567.8,317.3 572.8,317.3 577.8,317.3 582.8,317.3 587.8,317.3 592.8,317.3 597.8,317.3 602.8,317.3 607.8,317.3 612.8,317.3 617.8,317.3 622.8,317.3 627.8,317.3 632.8,317.3 637.8,317.3 642.8,317.3 645.5,317.3 L645.5,317.3 Z" fill="rgba(88,240,92,0.58)"/>
<polyline points="77.3,317.2 82.3,317.2 87.3,317.2 92.3,317.2 97.3,317.2 102.3,317.2 107.3,317.2 112.3,317.2 117.3,317.2 122.3,317.2 127.3,317.2 132.3,317.2 137.3,317.2 142.3,317.2 147.3,317.2 152.3,317.2 157.3,317.1 162.3,317.1 167.3,317.1 172.3,317.1 177.3,317.1 182.3,317.1 187.3,317.0 192.3,317.0 197.3,317.0 202.3,317.0 207.3,316.9 209.3,316.9 211.3,316.9 213.3,316.8 215.3,316.8 217.3,316.8 219.3,316.8 221.3,316.7 223.3,316.7 225.3,316.7 227.3,316.6 229.3,316.6 231.3,316.5 233.3,316.5 235.3,316.4 237.3,316.3 239.3,316.3 241.3,316.2 243.3,316.1 245.3,316.0 247.3,315.9 249.3,315.7 251.3,315.6 253.3,315.4 255.3,315.2 257.3,314.9 259.3,314.6 261.3,314.2 262.1,314.1 262.8,313.9 263.6,313.7 264.3,313.5 265.1,313.3 265.8,313.1 266.6,312.9 267.3,312.6 268.1,312.3 268.8,312.0 269.6,311.6 270.3,311.2 271.1,310.8 271.8,310.3 272.6,309.8 273.3,309.2 274.1,308.6 274.8,307.9 275.6,307.1 276.3,306.2 277.1,305.2 277.8,304.1 278.6,302.8 279.3,301.4 280.1,299.8 280.8,298.0 281.6,295.9 282.3,293.6 283.1,291.1 283.8,288.2 284.6,285.2 285.3,281.9 286.1,278.5 286.8,275.2 287.6,272.1 288.3,269.5 289.1,267.6 289.8,266.7 290.6,266.8 291.3,267.9 292.1,270.0 292.8,272.7 293.6,275.9 294.3,279.2 295.1,282.6 295.8,285.8 296.6,288.8 297.3,291.6 298.1,294.1 298.8,296.4 299.6,298.4 300.3,300.1 301.1,301.7 301.8,303.1 302.6,304.3 303.3,305.4 304.1,306.4 304.8,307.3 305.6,308.0 306.3,308.7 307.1,309.4 307.8,309.9 308.6,310.4 309.3,310.9 310.1,311.3 310.8,311.7 311.6,312.0 312.3,312.4 313.1,312.6 313.8,312.9 314.6,313.2 315.3,313.4 316.1,313.6 316.8,313.8 317.6,314.0 318.3,314.1 319.1,314.3 319.8,314.4 321.8,314.7 323.8,315.0 325.8,315.3 327.8,315.5 329.8,315.6 331.8,315.8 333.8,315.9 335.8,316.0 337.8,316.1 339.8,316.2 341.8,316.3 343.8,316.4 345.8,316.4 347.8,316.5 349.8,316.6 351.8,316.6 353.8,316.6 355.8,316.7 357.8,316.7 359.8,316.7 361.8,316.8 363.8,316.8 365.8,316.8 367.8,316.9 369.8,316.9 371.8,316.9 373.8,316.9 375.8,316.9 377.8,317.0 382.8,317.0 387.8,317.0 392.8,317.0 397.8,317.1 402.8,317.1 407.8,317.1 412.8,317.1 417.8,317.1 422.8,317.1 427.8,317.2 432.8,317.2 437.8,317.2 442.8,317.2 447.8,317.2 452.8,317.2 457.8,317.2 462.8,317.2 467.8,317.2 472.8,317.2 477.8,317.2 482.8,317.2 487.8,317.2 492.8,317.2 497.8,317.2 502.8,317.2 507.8,317.2 512.8,317.2 517.8,317.2 522.8,317.3 527.8,317.3 532.8,317.3 537.8,317.3 542.8,317.3 547.8,317.3 552.8,317.3 557.8,317.3 562.8,317.3 567.8,317.3 572.8,317.3 577.8,317.3 582.8,317.3 587.8,317.3 592.8,317.3 597.8,317.3 602.8,317.3 607.8,317.3 612.8,317.3 617.8,317.3 622.8,317.3 627.8,317.3 632.8,317.3 637.8,317.3 642.8,317.3 645.5,317.3" fill="none" stroke="#48f030" stroke-width="1.2" stroke-linejoin="round" clip-path="url(#clipT)"/>
<path d="M77.3,317.3 L77.3,317.3 82.3,317.3 87.3,317.3 92.3,317.3 97.3,317.3 102.3,317.3 107.3,317.3 112.3,317.3 117.3,317.3 122.3,317.3 127.3,317.3 132.3,317.3 137.3,317.3 142.3,317.3 147.3,317.3 152.3,317.3 157.3,317.3 162.3,317.3 167.3,317.3 172.3,317.3 177.3,317.3 182.3,317.3 187.3,317.3 192.3,317.3 197.3,317.3 202.3,317.3 207.3,317.3 212.3,317.3 217.3,317.3 222.3,317.3 227.3,317.3 232.3,317.3 237.3,317.3 242.3,317.3 247.3,317.3 252.3,317.3 257.3,317.3 262.3,317.3 267.3,317.3 272.3,317.3 277.3,317.3 282.3,317.2 287.3,317.2 289.3,317.1 291.3,317.1 293.3,317.0 295.3,316.9 297.3,316.8 299.3,316.7 301.3,316.5 303.3,316.1 305.3,315.6 306.1,315.3 306.8,315.0 307.6,314.5 308.3,313.9 309.1,313.2 309.8,312.1 310.6,310.7 311.3,308.8 312.1,306.1 312.8,302.5 313.6,298.2 314.3,294.2 315.1,292.6 315.8,294.6 316.6,298.7 317.3,303.0 318.1,306.5 318.8,309.1 319.6,310.9 320.3,312.3 321.1,313.3 321.8,314.0 322.6,314.6 323.3,315.0 324.1,315.4 324.8,315.6 325.6,315.9 326.3,316.1 328.3,316.4 330.3,316.7 332.3,316.8 334.3,316.9 336.3,317.0 338.3,317.1 340.3,317.1 342.3,317.2 344.3,317.2 346.3,317.2 348.3,317.2 353.3,317.3 358.3,317.3 363.3,317.3 368.3,317.3 373.3,317.3 378.3,317.3 383.3,317.3 388.3,317.3 393.3,317.3 398.3,317.3 403.3,317.3 408.3,317.3 413.3,317.3 418.3,317.3 423.3,317.3 428.3,317.3 433.3,317.3 438.3,317.3 443.3,317.3 448.3,317.3 453.3,317.3 458.3,317.3 463.3,317.3 468.3,317.3 473.3,317.3 478.3,317.3 483.3,317.3 488.3,317.3 493.3,317.3 498.3,317.3 503.3,317.3 508.3,317.3 513.3,317.3 518.3,317.3 523.3,317.3 528.3,317.3 533.3,317.3 538.3,317.3 543.3,317.3 548.3,317.3 553.3,317.3 558.3,317.3 563.3,317.3 568.3,317.3 573.3,317.3 578.3,317.3 583.3,317.3 588.3,317.3 593.3,317.3 598.3,317.3 603.3,317.3 608.3,317.3 613.3,317.3 618.3,317.3 623.3,317.3 628.3,317.3 633.3,317.3 638.3,317.3 643.3,317.3 645.5,317.3 L645.5,317.3 Z" fill="rgba(115,255,238,0.58)"/>
<polyline points="77.3,317.3 82.3,317.3 87.3,317.3 92.3,317.3 97.3,317.3 102.3,317.3 107.3,317.3 112.3,317.3 117.3,317.3 122.3,317.3 127.3,317.3 132.3,317.3 137.3,317.3 142.3,317.3 147.3,317.3 152.3,317.3 157.3,317.3 162.3,317.3 167.3,317.3 172.3,317.3 177.3,317.3 182.3,317.3 187.3,317.3 192.3,317.3 197.3,317.3 202.3,317.3 207.3,317.3 212.3,317.3 217.3,317.3 222.3,317.3 227.3,317.3 232.3,317.3 237.3,317.3 242.3,317.3 247.3,317.3 252.3,317.3 257.3,317.3 262.3,317.3 267.3,317.3 272.3,317.3 277.3,317.3 282.3,317.2 287.3,317.2 289.3,317.1 291.3,317.1 293.3,317.0 295.3,316.9 297.3,316.8 299.3,316.7 301.3,316.5 303.3,316.1 305.3,315.6 306.1,315.3 306.8,315.0 307.6,314.5 308.3,313.9 309.1,313.2 309.8,312.1 310.6,310.7 311.3,308.8 312.1,306.1 312.8,302.5 313.6,298.2 314.3,294.2 315.1,292.6 315.8,294.6 316.6,298.7 317.3,303.0 318.1,306.5 318.8,309.1 319.6,310.9 320.3,312.3 321.1,313.3 321.8,314.0 322.6,314.6 323.3,315.0 324.1,315.4 324.8,315.6 325.6,315.9 326.3,316.1 328.3,316.4 330.3,316.7 332.3,316.8 334.3,316.9 336.3,317.0 338.3,317.1 340.3,317.1 342.3,317.2 344.3,317.2 346.3,317.2 348.3,317.2 353.3,317.3 358.3,317.3 363.3,317.3 368.3,317.3 373.3,317.3 378.3,317.3 383.3,317.3 388.3,317.3 393.3,317.3 398.3,317.3 403.3,317.3 408.3,317.3 413.3,317.3 418.3,317.3 423.3,317.3 428.3,317.3 433.3,317.3 438.3,317.3 443.3,317.3 448.3,317.3 453.3,317.3 458.3,317.3 463.3,317.3 468.3,317.3 473.3,317.3 478.3,317.3 483.3,317.3 488.3,317.3 493.3,317.3 498.3,317.3 503.3,317.3 508.3,317.3 513.3,317.3 518.3,317.3 523.3,317.3 528.3,317.3 533.3,317.3 538.3,317.3 543.3,317.3 548.3,317.3 553.3,317.3 558.3,317.3 563.3,317.3 568.3,317.3 573.3,317.3 578.3,317.3 583.3,317.3 588.3,317.3 593.3,317.3 598.3,317.3 603.3,317.3 608.3,317.3 613.3,317.3 618.3,317.3 623.3,317.3 628.3,317.3 633.3,317.3 638.3,317.3 643.3,317.3 645.5,317.3" fill="none" stroke="#7ff4ff" stroke-width="1.2" stroke-linejoin="round" clip-path="url(#clipT)"/>
<path d="M77.3,317.3 L77.3,317.3 82.3,317.3 87.3,317.3 92.3,317.3 97.3,317.3 102.3,317.3 107.3,317.3 112.3,317.3 117.3,317.3 122.3,317.3 127.3,317.3 132.3,317.3 137.3,317.3 142.3,317.3 147.3,317.3 152.3,317.3 157.3,317.3 162.3,317.3 167.3,317.3 172.3,317.3 177.3,317.3 182.3,317.3 187.3,317.3 192.3,317.3 197.3,317.3 202.3,317.3 207.3,317.3 212.3,317.2 217.3,317.2 222.3,317.1 227.3,317.1 232.3,317.0 237.3,316.9 239.3,316.9 241.3,316.8 243.3,316.8 245.3,316.8 247.3,316.7 249.3,316.7 251.3,316.6 253.3,316.6 255.3,316.5 257.3,316.4 259.3,316.4 261.3,316.3 263.3,316.2 265.3,316.1 267.3,316.0 269.3,315.9 271.3,315.8 273.3,315.7 275.3,315.5 277.3,315.4 279.3,315.2 281.3,315.0 283.3,314.8 285.3,314.5 287.3,314.3 289.3,314.0 291.3,313.6 293.3,313.2 295.3,312.7 297.3,312.2 299.3,311.6 301.3,310.8 302.1,310.5 302.8,310.2 303.6,309.8 304.3,309.4 305.1,309.0 305.8,308.6 306.6,308.1 307.3,307.6 308.1,307.1 308.8,306.5 309.6,305.8 310.3,305.1 311.1,304.4 311.8,303.6 312.6,302.7 313.3,301.7 314.1,300.6 314.8,299.5 315.6,298.2 316.3,296.8 317.1,295.2 317.8,293.5 318.6,291.6 319.3,289.5 320.1,287.1 320.8,284.6 321.6,281.7 322.3,278.5 323.1,274.9 323.8,271.0 324.6,266.6 325.3,261.9 326.1,256.7 326.8,251.1 327.6,245.1 328.3,238.9 329.1,232.7 329.8,226.6 330.6,221.0 331.3,216.2 332.1,212.6 332.8,210.4 333.6,209.9 334.3,211.1 335.1,213.9 335.8,218.0 336.6,223.2 337.3,229.0 338.1,235.2 338.8,241.4 339.6,247.5 340.3,253.3 341.1,258.8 341.8,263.8 342.6,268.4 343.3,272.6 344.1,276.4 344.8,279.8 345.6,282.9 346.3,285.6 347.1,288.1 347.8,290.4 348.6,292.4 349.3,294.2 350.1,295.9 350.8,297.4 351.6,298.7 352.3,299.9 353.1,301.1 353.8,302.1 354.6,303.0 355.3,303.9 356.1,304.7 356.8,305.4 357.6,306.1 358.3,306.7 359.1,307.3 359.8,307.8 360.6,308.3 361.3,308.8 362.1,309.2 362.8,309.6 363.6,310.0 364.3,310.3 365.1,310.6 365.8,310.9 366.6,311.2 367.3,311.5 369.3,312.1 371.3,312.7 373.3,313.2 375.3,313.6 377.3,313.9 379.3,314.2 381.3,314.5 383.3,314.8 385.3,315.0 387.3,315.2 389.3,315.4 391.3,315.5 393.3,315.7 395.3,315.8 397.3,315.9 399.3,316.0 401.3,316.1 403.3,316.2 405.3,316.3 407.3,316.4 409.3,316.4 411.3,316.5 413.3,316.6 415.3,316.6 417.3,316.7 419.3,316.7 421.3,316.8 423.3,316.8 425.3,316.8 427.3,316.9 429.3,316.9 431.3,316.9 433.3,317.0 435.3,317.0 440.3,317.1 445.3,317.1 450.3,317.2 455.3,317.2 460.3,317.3 465.3,317.3 470.3,317.3 475.3,317.3 480.3,317.3 485.3,317.3 490.3,317.3 495.3,317.3 500.3,317.3 505.3,317.3 510.3,317.3 515.3,317.3 520.3,317.3 525.3,317.3 530.3,317.3 535.3,317.3 540.3,317.3 545.3,317.3 550.3,317.3 555.3,317.3 560.3,317.3 565.3,317.3 570.3,317.3 575.3,317.3 580.3,317.3 585.3,317.3 590.3,317.3 595.3,317.3 600.3,317.3 605.3,317.3 610.3,317.3 615.3,317.3 620.3,317.3 625.3,317.3 630.3,317.3 635.3,317.3 640.3,317.3 645.3,317.3 645.5,317.3 L645.5,317.3 Z" fill="rgba(115,255,238,0.58)"/>
<polyline points="77.3,317.3 82.3,317.3 87.3,317.3 92.3,317.3 97.3,317.3 102.3,317.3 107.3,317.3 112.3,317.3 117.3,317.3 122.3,317.3 127.3,317.3 132.3,317.3 137.3,317.3 142.3,317.3 147.3,317.3 152.3,317.3 157.3,317.3 162.3,317.3 167.3,317.3 172.3,317.3 177.3,317.3 182.3,317.3 187.3,317.3 192.3,317.3 197.3,317.3 202.3,317.3 207.3,317.3 212.3,317.2 217.3,317.2 222.3,317.1 227.3,317.1 232.3,317.0 237.3,316.9 239.3,316.9 241.3,316.8 243.3,316.8 245.3,316.8 247.3,316.7 249.3,316.7 251.3,316.6 253.3,316.6 255.3,316.5 257.3,316.4 259.3,316.4 261.3,316.3 263.3,316.2 265.3,316.1 267.3,316.0 269.3,315.9 271.3,315.8 273.3,315.7 275.3,315.5 277.3,315.4 279.3,315.2 281.3,315.0 283.3,314.8 285.3,314.5 287.3,314.3 289.3,314.0 291.3,313.6 293.3,313.2 295.3,312.7 297.3,312.2 299.3,311.6 301.3,310.8 302.1,310.5 302.8,310.2 303.6,309.8 304.3,309.4 305.1,309.0 305.8,308.6 306.6,308.1 307.3,307.6 308.1,307.1 308.8,306.5 309.6,305.8 310.3,305.1 311.1,304.4 311.8,303.6 312.6,302.7 313.3,301.7 314.1,300.6 314.8,299.5 315.6,298.2 316.3,296.8 317.1,295.2 317.8,293.5 318.6,291.6 319.3,289.5 320.1,287.1 320.8,284.6 321.6,281.7 322.3,278.5 323.1,274.9 323.8,271.0 324.6,266.6 325.3,261.9 326.1,256.7 326.8,251.1 327.6,245.1 328.3,238.9 329.1,232.7 329.8,226.6 330.6,221.0 331.3,216.2 332.1,212.6 332.8,210.4 333.6,209.9 334.3,211.1 335.1,213.9 335.8,218.0 336.6,223.2 337.3,229.0 338.1,235.2 338.8,241.4 339.6,247.5 340.3,253.3 341.1,258.8 341.8,263.8 342.6,268.4 343.3,272.6 344.1,276.4 344.8,279.8 345.6,282.9 346.3,285.6 347.1,288.1 347.8,290.4 348.6,292.4 349.3,294.2 350.1,295.9 350.8,297.4 351.6,298.7 352.3,299.9 353.1,301.1 353.8,302.1 354.6,303.0 355.3,303.9 356.1,304.7 356.8,305.4 357.6,306.1 358.3,306.7 359.1,307.3 359.8,307.8 360.6,308.3 361.3,308.8 362.1,309.2 362.8,309.6 363.6,310.0 364.3,310.3 365.1,310.6 365.8,310.9 366.6,311.2 367.3,311.5 369.3,312.1 371.3,312.7 373.3,313.2 375.3,313.6 377.3,313.9 379.3,314.2 381.3,314.5 383.3,314.8 385.3,315.0 387.3,315.2 389.3,315.4 391.3,315.5 393.3,315.7 395.3,315.8 397.3,315.9 399.3,316.0 401.3,316.1 403.3,316.2 405.3,316.3 407.3,316.4 409.3,316.4 411.3,316.5 413.3,316.6 415.3,316.6 417.3,316.7 419.3,316.7 421.3,316.8 423.3,316.8 425.3,316.8 427.3,316.9 429.3,316.9 431.3,316.9 433.3,317.0 435.3,317.0 440.3,317.1 445.3,317.1 450.3,317.2 455.3,317.2 460.3,317.3 465.3,317.3 470.3,317.3 475.3,317.3 480.3,317.3 485.3,317.3 490.3,317.3 495.3,317.3 500.3,317.3 505.3,317.3 510.3,317.3 515.3,317.3 520.3,317.3 525.3,317.3 530.3,317.3 535.3,317.3 540.3,317.3 545.3,317.3 550.3,317.3 555.3,317.3 560.3,317.3 565.3,317.3 570.3,317.3 575.3,317.3 580.3,317.3 585.3,317.3 590.3,317.3 595.3,317.3 600.3,317.3 605.3,317.3 610.3,317.3 615.3,317.3 620.3,317.3 625.3,317.3 630.3,317.3 635.3,317.3 640.3,317.3 645.3,317.3 645.5,317.3" fill="none" stroke="#7ff4ff" stroke-width="1.2" stroke-linejoin="round" clip-path="url(#clipT)"/>
<path d="M77.3,317.3 L77.3,317.3 82.3,317.3 87.3,317.3 92.3,317.3 97.3,317.3 102.3,317.3 107.3,317.3 112.3,317.3 117.3,317.3 122.3,317.3 127.3,317.3 132.3,317.3 137.3,317.3 142.3,317.3 147.3,317.3 152.3,317.3 157.3,317.3 162.3,317.3 167.3,317.3 172.3,317.3 177.3,317.3 182.3,317.3 187.3,317.3 192.3,317.3 197.3,317.3 202.3,317.3 207.3,317.3 212.3,317.3 217.3,317.3 222.3,317.3 227.3,317.3 232.3,317.3 237.3,317.3 242.3,317.3 247.3,317.3 252.3,317.3 257.3,317.3 262.3,317.3 267.3,317.3 272.3,317.3 277.3,317.3 282.3,317.3 287.3,317.3 292.3,317.3 297.3,317.3 302.3,317.3 307.3,317.3 312.3,317.3 317.3,317.3 322.3,317.3 324.3,317.3 326.3,317.2 328.3,317.2 330.3,317.2 332.3,317.2 334.3,317.2 336.3,317.2 338.3,317.1 340.3,317.1 342.3,317.0 344.3,317.0 346.3,316.9 348.3,316.8 350.3,316.6 351.1,316.5 351.8,316.4 352.6,316.2 353.3,316.1 354.1,315.9 354.8,315.7 355.6,315.4 356.3,315.1 357.1,314.6 357.8,314.1 358.6,313.4 359.3,312.4 360.1,311.3 360.8,309.8 361.6,308.2 362.3,306.7 363.1,305.8 363.8,305.9 364.6,306.8 365.3,308.4 366.1,309.9 366.8,311.4 367.6,312.5 368.3,313.4 369.1,314.1 369.8,314.7 370.6,315.1 371.3,315.4 372.1,315.7 372.8,315.9 373.6,316.1 374.3,316.3 375.1,316.4 375.8,316.5 376.6,316.6 377.3,316.7 378.1,316.7 380.1,316.9 382.1,317.0 384.1,317.0 386.1,317.1 388.1,317.1 390.1,317.1 392.1,317.2 394.1,317.2 396.1,317.2 398.1,317.2 400.1,317.2 402.1,317.3 404.1,317.3 406.1,317.3 411.1,317.3 416.1,317.3 421.1,317.3 426.1,317.3 431.1,317.3 436.1,317.3 441.1,317.3 446.1,317.3 451.1,317.3 456.1,317.3 461.1,317.3 466.1,317.3 471.1,317.3 476.1,317.3 481.1,317.3 486.1,317.3 491.1,317.3 496.1,317.3 501.1,317.3 506.1,317.3 511.1,317.3 516.0,317.3 521.0,317.3 526.0,317.3 531.0,317.3 536.0,317.3 541.0,317.3 546.0,317.3 551.0,317.3 556.0,317.3 561.0,317.3 566.0,317.3 571.0,317.3 576.0,317.3 581.0,317.3 586.0,317.3 591.0,317.3 596.0,317.3 601.0,317.3 606.0,317.3 611.0,317.3 616.0,317.3 621.0,317.3 626.0,317.3 631.0,317.3 636.0,317.3 641.0,317.3 645.5,317.3 L645.5,317.3 Z" fill="rgba(190,255,46,0.57)"/>
<polyline points="77.3,317.3 82.3,317.3 87.3,317.3 92.3,317.3 97.3,317.3 102.3,317.3 107.3,317.3 112.3,317.3 117.3,317.3 122.3,317.3 127.3,317.3 132.3,317.3 137.3,317.3 142.3,317.3 147.3,317.3 152.3,317.3 157.3,317.3 162.3,317.3 167.3,317.3 172.3,317.3 177.3,317.3 182.3,317.3 187.3,317.3 192.3,317.3 197.3,317.3 202.3,317.3 207.3,317.3 212.3,317.3 217.3,317.3 222.3,317.3 227.3,317.3 232.3,317.3 237.3,317.3 242.3,317.3 247.3,317.3 252.3,317.3 257.3,317.3 262.3,317.3 267.3,317.3 272.3,317.3 277.3,317.3 282.3,317.3 287.3,317.3 292.3,317.3 297.3,317.3 302.3,317.3 307.3,317.3 312.3,317.3 317.3,317.3 322.3,317.3 324.3,317.3 326.3,317.2 328.3,317.2 330.3,317.2 332.3,317.2 334.3,317.2 336.3,317.2 338.3,317.1 340.3,317.1 342.3,317.0 344.3,317.0 346.3,316.9 348.3,316.8 350.3,316.6 351.1,316.5 351.8,316.4 352.6,316.2 353.3,316.1 354.1,315.9 354.8,315.7 355.6,315.4 356.3,315.1 357.1,314.6 357.8,314.1 358.6,313.4 359.3,312.4 360.1,311.3 360.8,309.8 361.6,308.2 362.3,306.7 363.1,305.8 363.8,305.9 364.6,306.8 365.3,308.4 366.1,309.9 366.8,311.4 367.6,312.5 368.3,313.4 369.1,314.1 369.8,314.7 370.6,315.1 371.3,315.4 372.1,315.7 372.8,315.9 373.6,316.1 374.3,316.3 375.1,316.4 375.8,316.5 376.6,316.6 377.3,316.7 378.1,316.7 380.1,316.9 382.1,317.0 384.1,317.0 386.1,317.1 388.1,317.1 390.1,317.1 392.1,317.2 394.1,317.2 396.1,317.2 398.1,317.2 400.1,317.2 402.1,317.3 404.1,317.3 406.1,317.3 411.1,317.3 416.1,317.3 421.1,317.3 426.1,317.3 431.1,317.3 436.1,317.3 441.1,317.3 446.1,317.3 451.1,317.3 456.1,317.3 461.1,317.3 466.1,317.3 471.1,317.3 476.1,317.3 481.1,317.3 486.1,317.3 491.1,317.3 496.1,317.3 501.1,317.3 506.1,317.3 511.1,317.3 516.0,317.3 521.0,317.3 526.0,317.3 531.0,317.3 536.0,317.3 541.0,317.3 546.0,317.3 551.0,317.3 556.0,317.3 561.0,317.3 566.0,317.3 571.0,317.3 576.0,317.3 581.0,317.3 586.0,317.3 591.0,317.3 596.0,317.3 601.0,317.3 606.0,317.3 611.0,317.3 616.0,317.3 621.0,317.3 626.0,317.3 631.0,317.3 636.0,317.3 641.0,317.3 645.5,317.3" fill="none" stroke="#b4f83c" stroke-width="1.2" stroke-linejoin="round" clip-path="url(#clipT)"/>
<path d="M77.3,317.3 L77.3,317.3 82.3,317.3 87.3,317.3 92.3,317.3 97.3,317.3 102.3,317.3 107.3,317.3 112.3,317.3 117.3,317.3 122.3,317.3 127.3,317.3 132.3,317.3 137.3,317.3 142.3,317.3 147.3,317.3 152.3,317.3 157.3,317.3 162.3,317.3 167.3,317.3 172.3,317.3 177.3,317.3 182.3,317.3 187.3,317.3 192.3,317.3 197.3,317.3 202.3,317.3 207.3,317.3 212.3,317.3 217.3,317.3 222.3,317.3 227.3,317.3 232.3,317.3 237.3,317.3 242.3,317.3 247.3,317.3 252.3,317.3 257.3,317.2 262.3,317.2 267.3,317.1 272.3,317.1 277.3,317.0 282.3,316.9 284.3,316.9 286.3,316.8 288.3,316.8 290.3,316.7 292.3,316.7 294.3,316.6 296.3,316.6 298.3,316.5 300.3,316.4 302.3,316.4 304.3,316.3 306.3,316.2 308.3,316.1 310.3,316.0 312.3,315.9 314.3,315.8 316.3,315.7 318.3,315.5 320.3,315.4 322.3,315.2 324.3,315.0 326.3,314.8 328.3,314.6 330.3,314.3 332.3,314.1 334.3,313.7 336.3,313.4 338.3,313.0 340.3,312.5 342.3,311.9 344.3,311.3 346.3,310.5 348.3,309.7 349.1,309.3 349.8,308.9 350.6,308.5 351.3,308.0 352.1,307.6 352.8,307.0 353.6,306.5 354.3,305.9 355.1,305.2 355.8,304.5 356.6,303.8 357.3,303.0 358.1,302.1 358.8,301.1 359.6,300.0 360.3,298.9 361.1,297.6 361.8,296.2 362.6,294.7 363.3,293.0 364.1,291.2 364.8,289.1 365.6,286.9 366.3,284.4 367.1,281.6 367.8,278.5 368.6,275.0 369.3,271.2 370.1,266.9 370.8,262.2 371.6,257.0 372.3,251.2 373.1,244.9 373.8,238.2 374.6,231.0 375.3,223.4 376.1,215.8 376.8,208.4 377.6,201.5 378.3,195.6 379.1,191.2 379.8,188.5 380.6,187.8 381.3,189.3 382.1,192.7 382.8,197.8 383.6,204.2 384.3,211.3 385.1,218.9 385.8,226.5 386.6,233.9 387.3,240.9 388.1,247.5 388.8,253.6 389.6,259.1 390.3,264.2 391.1,268.7 391.8,272.8 392.6,276.5 393.3,279.8 394.1,282.7 394.8,285.4 395.6,287.8 396.3,290.0 397.1,291.9 397.8,293.7 398.6,295.3 399.3,296.8 400.1,298.1 400.8,299.4 401.6,300.5 402.3,301.5 403.1,302.4 403.8,303.3 404.6,304.1 405.3,304.8 406.1,305.5 406.8,306.1 407.6,306.7 408.3,307.2 409.1,307.8 409.8,308.2 410.6,308.7 411.3,309.1 412.1,309.5 412.8,309.8 413.6,310.2 414.3,310.5 416.3,311.2 418.3,311.9 420.3,312.4 422.3,312.9 424.3,313.3 426.3,313.7 428.3,314.0 430.3,314.3 432.3,314.6 434.3,314.8 436.3,315.0 438.3,315.2 440.3,315.4 442.3,315.5 444.3,315.7 446.3,315.8 448.3,315.9 450.3,316.0 452.3,316.1 454.3,316.2 456.3,316.3 458.3,316.4 460.3,316.4 462.3,316.5 464.3,316.6 466.3,316.6 468.3,316.7 470.3,316.7 472.3,316.8 474.3,316.8 476.3,316.9 478.3,316.9 480.3,316.9 485.3,317.0 490.3,317.1 495.3,317.1 500.3,317.2 505.3,317.2 510.3,317.3 515.3,317.3 520.3,317.3 525.3,317.3 530.3,317.3 535.3,317.3 540.3,317.3 545.3,317.3 550.3,317.3 555.3,317.3 560.3,317.3 565.3,317.3 570.3,317.3 575.3,317.3 580.3,317.3 585.3,317.3 590.3,317.3 595.3,317.3 600.3,317.3 605.3,317.3 610.3,317.3 615.3,317.3 620.3,317.3 625.3,317.3 630.3,317.3 635.3,317.3 640.3,317.3 645.3,317.3 645.5,317.3 L645.5,317.3 Z" fill="rgba(190,255,46,0.57)"/>
<polyline points="77.3,317.3 82.3,317.3 87.3,317.3 92.3,317.3 97.3,317.3 102.3,317.3 107.3,317.3 112.3,317.3 117.3,317.3 122.3,317.3 127.3,317.3 132.3,317.3 137.3,317.3 142.3,317.3 147.3,317.3 152.3,317.3 157.3,317.3 162.3,317.3 167.3,317.3 172.3,317.3 177.3,317.3 182.3,317.3 187.3,317.3 192.3,317.3 197.3,317.3 202.3,317.3 207.3,317.3 212.3,317.3 217.3,317.3 222.3,317.3 227.3,317.3 232.3,317.3 237.3,317.3 242.3,317.3 247.3,317.3 252.3,317.3 257.3,317.2 262.3,317.2 267.3,317.1 272.3,317.1 277.3,317.0 282.3,316.9 284.3,316.9 286.3,316.8 288.3,316.8 290.3,316.7 292.3,316.7 294.3,316.6 296.3,316.6 298.3,316.5 300.3,316.4 302.3,316.4 304.3,316.3 306.3,316.2 308.3,316.1 310.3,316.0 312.3,315.9 314.3,315.8 316.3,315.7 318.3,315.5 320.3,315.4 322.3,315.2 324.3,315.0 326.3,314.8 328.3,314.6 330.3,314.3 332.3,314.1 334.3,313.7 336.3,313.4 338.3,313.0 340.3,312.5 342.3,311.9 344.3,311.3 346.3,310.5 348.3,309.7 349.1,309.3 349.8,308.9 350.6,308.5 351.3,308.0 352.1,307.6 352.8,307.0 353.6,306.5 354.3,305.9 355.1,305.2 355.8,304.5 356.6,303.8 357.3,303.0 358.1,302.1 358.8,301.1 359.6,300.0 360.3,298.9 361.1,297.6 361.8,296.2 362.6,294.7 363.3,293.0 364.1,291.2 364.8,289.1 365.6,286.9 366.3,284.4 367.1,281.6 367.8,278.5 368.6,275.0 369.3,271.2 370.1,266.9 370.8,262.2 371.6,257.0 372.3,251.2 373.1,244.9 373.8,238.2 374.6,231.0 375.3,223.4 376.1,215.8 376.8,208.4 377.6,201.5 378.3,195.6 379.1,191.2 379.8,188.5 380.6,187.8 381.3,189.3 382.1,192.7 382.8,197.8 383.6,204.2 384.3,211.3 385.1,218.9 385.8,226.5 386.6,233.9 387.3,240.9 388.1,247.5 388.8,253.6 389.6,259.1 390.3,264.2 391.1,268.7 391.8,272.8 392.6,276.5 393.3,279.8 394.1,282.7 394.8,285.4 395.6,287.8 396.3,290.0 397.1,291.9 397.8,293.7 398.6,295.3 399.3,296.8 400.1,298.1 400.8,299.4 401.6,300.5 402.3,301.5 403.1,302.4 403.8,303.3 404.6,304.1 405.3,304.8 406.1,305.5 406.8,306.1 407.6,306.7 408.3,307.2 409.1,307.8 409.8,308.2 410.6,308.7 411.3,309.1 412.1,309.5 412.8,309.8 413.6,310.2 414.3,310.5 416.3,311.2 418.3,311.9 420.3,312.4 422.3,312.9 424.3,313.3 426.3,313.7 428.3,314.0 430.3,314.3 432.3,314.6 434.3,314.8 436.3,315.0 438.3,315.2 440.3,315.4 442.3,315.5 444.3,315.7 446.3,315.8 448.3,315.9 450.3,316.0 452.3,316.1 454.3,316.2 456.3,316.3 458.3,316.4 460.3,316.4 462.3,316.5 464.3,316.6 466.3,316.6 468.3,316.7 470.3,316.7 472.3,316.8 474.3,316.8 476.3,316.9 478.3,316.9 480.3,316.9 485.3,317.0 490.3,317.1 495.3,317.1 500.3,317.2 505.3,317.2 510.3,317.3 515.3,317.3 520.3,317.3 525.3,317.3 530.3,317.3 535.3,317.3 540.3,317.3 545.3,317.3 550.3,317.3 555.3,317.3 560.3,317.3 565.3,317.3 570.3,317.3 575.3,317.3 580.3,317.3 585.3,317.3 590.3,317.3 595.3,317.3 600.3,317.3 605.3,317.3 610.3,317.3 615.3,317.3 620.3,317.3 625.3,317.3 630.3,317.3 635.3,317.3 640.3,317.3 645.3,317.3 645.5,317.3" fill="none" stroke="#b4f83c" stroke-width="1.2" stroke-linejoin="round" clip-path="url(#clipT)"/>
<path d="M77.3,317.3 L77.3,317.3 82.3,317.3 87.3,317.3 92.3,317.3 97.3,317.3 102.3,317.3 107.3,317.3 112.3,317.3 117.3,317.3 122.3,317.3 127.3,317.3 132.3,317.3 137.3,317.3 142.3,317.3 147.3,317.3 152.3,317.3 157.3,317.3 162.3,317.3 167.3,317.3 172.3,317.3 177.3,317.3 182.3,317.3 187.3,317.3 192.3,317.3 197.3,317.3 202.3,317.3 207.3,317.3 212.3,317.3 217.3,317.3 222.3,317.3 227.3,317.3 232.3,317.3 237.3,317.3 242.3,317.3 247.3,317.3 252.3,317.3 257.3,317.3 262.3,317.2 267.3,317.2 272.3,317.2 277.3,317.1 282.3,317.1 287.3,317.0 292.3,316.9 294.3,316.9 296.3,316.9 298.3,316.8 300.3,316.8 302.3,316.8 304.3,316.7 306.3,316.7 308.3,316.6 310.3,316.6 312.3,316.5 314.3,316.5 316.3,316.4 318.3,316.4 320.3,316.3 322.3,316.2 324.3,316.2 326.3,316.1 328.3,316.0 330.3,315.9 332.3,315.8 334.3,315.7 336.3,315.5 338.3,315.4 340.3,315.2 342.3,315.1 344.3,314.9 346.3,314.7 348.3,314.4 350.3,314.2 352.3,313.9 354.3,313.6 356.3,313.2 358.3,312.8 360.3,312.3 362.3,311.8 364.3,311.1 365.1,310.9 365.8,310.6 366.6,310.3 367.3,310.0 368.1,309.6 368.8,309.3 369.6,308.9 370.3,308.5 371.1,308.1 371.8,307.6 372.6,307.1 373.3,306.6 374.1,306.0 374.8,305.4 375.6,304.7 376.3,304.0 377.1,303.2 377.8,302.4 378.6,301.5 379.3,300.5 380.1,299.4 380.8,298.3 381.6,297.0 382.3,295.6 383.1,294.1 383.8,292.4 384.6,290.6 385.3,288.6 386.1,286.4 386.8,284.0 387.6,281.4 388.3,278.5 389.1,275.3 389.8,271.8 390.6,268.0 391.3,263.9 392.1,259.5 392.8,254.7 393.6,249.7 394.3,244.4 395.1,239.1 395.8,233.8 396.6,228.8 397.3,224.1 398.1,220.2 398.8,217.2 399.6,215.3 400.3,214.6 401.1,215.3 401.8,217.2 402.6,220.2 403.3,224.1 404.1,228.8 404.8,233.8 405.6,239.1 406.3,244.4 407.1,249.7 407.8,254.7 408.6,259.5 409.3,263.9 410.1,268.0 410.8,271.8 411.6,275.3 412.3,278.5 413.1,281.4 413.8,284.0 414.6,286.4 415.3,288.6 416.1,290.6 416.8,292.4 417.6,294.1 418.3,295.6 419.1,297.0 419.8,298.3 420.6,299.4 421.3,300.5 422.1,301.5 422.8,302.4 423.6,303.2 424.3,304.0 425.1,304.7 425.8,305.4 426.6,306.0 427.3,306.6 428.1,307.1 428.8,307.6 429.6,308.1 430.3,308.5 431.1,308.9 431.8,309.3 432.6,309.6 433.3,310.0 434.1,310.3 434.8,310.6 435.6,310.9 436.3,311.1 437.1,311.4 437.8,311.6 438.6,311.8 440.6,312.4 442.6,312.8 444.6,313.3 446.6,313.6 448.6,313.9 450.6,314.2 452.6,314.5 454.6,314.7 456.6,314.9 458.6,315.1 460.6,315.3 462.6,315.4 464.6,315.6 466.6,315.7 468.6,315.8 470.6,315.9 472.6,316.0 474.6,316.1 476.6,316.2 478.6,316.2 480.6,316.3 482.6,316.4 484.6,316.4 486.6,316.5 488.6,316.6 490.6,316.6 492.6,316.7 494.6,316.7 496.6,316.7 498.6,316.8 500.6,316.8 502.6,316.8 504.6,316.9 506.6,316.9 508.6,316.9 510.6,317.0 512.5,317.0 514.5,317.0 519.5,317.1 524.5,317.1 529.5,317.2 534.5,317.2 539.5,317.2 544.5,317.3 549.5,317.3 554.5,317.3 559.5,317.3 564.5,317.3 569.5,317.3 574.5,317.3 579.5,317.3 584.5,317.3 589.5,317.3 594.5,317.3 599.5,317.3 604.5,317.3 609.5,317.3 614.5,317.3 619.5,317.3 624.5,317.3 629.5,317.3 634.5,317.3 639.5,317.3 644.5,317.3 645.5,317.3 L645.5,317.3 Z" fill="rgba(190,255,46,0.57)"/>
<polyline points="77.3,317.3 82.3,317.3 87.3,317.3 92.3,317.3 97.3,317.3 102.3,317.3 107.3,317.3 112.3,317.3 117.3,317.3 122.3,317.3 127.3,317.3 132.3,317.3 137.3,317.3 142.3,317.3 147.3,317.3 152.3,317.3 157.3,317.3 162.3,317.3 167.3,317.3 172.3,317.3 177.3,317.3 182.3,317.3 187.3,317.3 192.3,317.3 197.3,317.3 202.3,317.3 207.3,317.3 212.3,317.3 217.3,317.3 222.3,317.3 227.3,317.3 232.3,317.3 237.3,317.3 242.3,317.3 247.3,317.3 252.3,317.3 257.3,317.3 262.3,317.2 267.3,317.2 272.3,317.2 277.3,317.1 282.3,317.1 287.3,317.0 292.3,316.9 294.3,316.9 296.3,316.9 298.3,316.8 300.3,316.8 302.3,316.8 304.3,316.7 306.3,316.7 308.3,316.6 310.3,316.6 312.3,316.5 314.3,316.5 316.3,316.4 318.3,316.4 320.3,316.3 322.3,316.2 324.3,316.2 326.3,316.1 328.3,316.0 330.3,315.9 332.3,315.8 334.3,315.7 336.3,315.5 338.3,315.4 340.3,315.2 342.3,315.1 344.3,314.9 346.3,314.7 348.3,314.4 350.3,314.2 352.3,313.9 354.3,313.6 356.3,313.2 358.3,312.8 360.3,312.3 362.3,311.8 364.3,311.1 365.1,310.9 365.8,310.6 366.6,310.3 367.3,310.0 368.1,309.6 368.8,309.3 369.6,308.9 370.3,308.5 371.1,308.1 371.8,307.6 372.6,307.1 373.3,306.6 374.1,306.0 374.8,305.4 375.6,304.7 376.3,304.0 377.1,303.2 377.8,302.4 378.6,301.5 379.3,300.5 380.1,299.4 380.8,298.3 381.6,297.0 382.3,295.6 383.1,294.1 383.8,292.4 384.6,290.6 385.3,288.6 386.1,286.4 386.8,284.0 387.6,281.4 388.3,278.5 389.1,275.3 389.8,271.8 390.6,268.0 391.3,263.9 392.1,259.5 392.8,254.7 393.6,249.7 394.3,244.4 395.1,239.1 395.8,233.8 396.6,228.8 397.3,224.1 398.1,220.2 398.8,217.2 399.6,215.3 400.3,214.6 401.1,215.3 401.8,217.2 402.6,220.2 403.3,224.1 404.1,228.8 404.8,233.8 405.6,239.1 406.3,244.4 407.1,249.7 407.8,254.7 408.6,259.5 409.3,263.9 410.1,268.0 410.8,271.8 411.6,275.3 412.3,278.5 413.1,281.4 413.8,284.0 414.6,286.4 415.3,288.6 416.1,290.6 416.8,292.4 417.6,294.1 418.3,295.6 419.1,297.0 419.8,298.3 420.6,299.4 421.3,300.5 422.1,301.5 422.8,302.4 423.6,303.2 424.3,304.0 425.1,304.7 425.8,305.4 426.6,306.0 427.3,306.6 428.1,307.1 428.8,307.6 429.6,308.1 430.3,308.5 431.1,308.9 431.8,309.3 432.6,309.6 433.3,310.0 434.1,310.3 434.8,310.6 435.6,310.9 436.3,311.1 437.1,311.4 437.8,311.6 438.6,311.8 440.6,312.4 442.6,312.8 444.6,313.3 446.6,313.6 448.6,313.9 450.6,314.2 452.6,314.5 454.6,314.7 456.6,314.9 458.6,315.1 460.6,315.3 462.6,315.4 464.6,315.6 466.6,315.7 468.6,315.8 470.6,315.9 472.6,316.0 474.6,316.1 476.6,316.2 478.6,316.2 480.6,316.3 482.6,316.4 484.6,316.4 486.6,316.5 488.6,316.6 490.6,316.6 492.6,316.7 494.6,316.7 496.6,316.7 498.6,316.8 500.6,316.8 502.6,316.8 504.6,316.9 506.6,316.9 508.6,316.9 510.6,317.0 512.5,317.0 514.5,317.0 519.5,317.1 524.5,317.1 529.5,317.2 534.5,317.2 539.5,317.2 544.5,317.3 549.5,317.3 554.5,317.3 559.5,317.3 564.5,317.3 569.5,317.3 574.5,317.3 579.5,317.3 584.5,317.3 589.5,317.3 594.5,317.3 599.5,317.3 604.5,317.3 609.5,317.3 614.5,317.3 619.5,317.3 624.5,317.3 629.5,317.3 634.5,317.3 639.5,317.3 644.5,317.3 645.5,317.3" fill="none" stroke="#b4f83c" stroke-width="1.2" stroke-linejoin="round" clip-path="url(#clipT)"/>
<path d="M77.3,317.3 L77.3,317.3 82.3,317.3 87.3,317.3 92.3,317.3 97.3,317.3 102.3,317.3 107.3,317.3 112.3,317.3 117.3,317.3 122.3,317.3 127.3,317.3 132.3,317.3 137.3,317.3 142.3,317.3 147.3,317.3 152.3,317.3 157.3,317.3 162.3,317.3 167.3,317.3 172.3,317.3 177.3,317.3 182.3,317.3 187.3,317.3 192.3,317.3 197.3,317.3 202.3,317.3 207.3,317.3 212.3,317.3 217.3,317.3 222.3,317.3 227.3,317.3 232.3,317.3 237.3,317.3 242.3,317.3 247.3,317.3 252.3,317.3 257.3,317.3 262.3,317.3 267.3,317.3 272.3,317.3 277.3,317.3 282.3,317.3 287.3,317.3 292.3,317.3 297.3,317.3 302.3,317.3 307.3,317.3 312.3,317.3 317.3,317.3 322.3,317.3 327.3,317.3 332.3,317.3 337.3,317.3 342.3,317.3 347.3,317.3 349.3,317.3 351.3,317.3 353.3,317.3 355.3,317.3 357.3,317.2 359.3,317.2 361.3,317.2 363.3,317.2 365.3,317.2 367.3,317.2 369.3,317.1 371.3,317.1 373.3,317.1 375.3,317.0 377.3,317.0 379.3,316.9 381.3,316.9 383.3,316.8 385.3,316.7 387.3,316.6 389.3,316.5 391.3,316.4 393.3,316.2 395.3,316.0 396.1,315.9 396.8,315.8 397.6,315.7 398.3,315.6 399.1,315.4 399.8,315.3 400.6,315.1 401.3,314.9 402.1,314.7 402.8,314.4 403.6,314.1 404.3,313.7 405.1,313.2 405.8,312.6 406.6,311.9 407.3,310.9 408.1,309.8 408.8,308.5 409.6,306.9 410.3,305.0 411.1,302.7 411.8,300.1 412.6,297.2 413.3,294.0 414.1,290.5 414.8,286.8 415.6,283.1 416.3,279.4 417.1,276.0 417.8,273.1 418.6,270.9 419.3,269.8 420.1,269.7 420.8,270.8 421.6,272.9 422.3,275.8 423.1,279.1 423.8,282.8 424.6,286.6 425.3,290.3 426.1,293.8 426.8,297.0 427.6,299.9 428.3,302.5 429.1,304.8 429.8,306.8 430.6,308.4 431.3,309.8 432.1,310.9 432.8,311.8 433.6,312.5 434.3,313.2 435.1,313.6 435.8,314.1 436.6,314.4 437.3,314.7 438.1,314.9 438.8,315.1 439.6,315.3 440.3,315.4 441.1,315.6 441.8,315.7 442.6,315.8 443.3,315.9 444.1,316.0 444.8,316.1 445.6,316.1 447.6,316.3 449.6,316.5 451.6,316.6 453.6,316.7 455.6,316.8 457.6,316.8 459.6,316.9 461.6,317.0 463.6,317.0 465.6,317.0 467.6,317.1 469.6,317.1 471.6,317.1 473.6,317.2 475.6,317.2 477.6,317.2 479.6,317.2 481.6,317.2 483.6,317.3 485.6,317.3 487.6,317.3 489.6,317.3 491.6,317.3 493.6,317.3 495.6,317.3 500.6,317.3 505.6,317.3 510.6,317.3 515.5,317.3 520.5,317.3 525.5,317.3 530.5,317.3 535.5,317.3 540.5,317.3 545.5,317.3 550.5,317.3 555.5,317.3 560.5,317.3 565.5,317.3 570.5,317.3 575.5,317.3 580.5,317.3 585.5,317.3 590.5,317.3 595.5,317.3 600.5,317.3 605.5,317.3 610.5,317.3 615.5,317.3 620.5,317.3 625.5,317.3 630.5,317.3 635.5,317.3 640.5,317.3 645.5,317.3 L645.5,317.3 Z" fill="rgba(53,53,53,0.58)"/>
<polyline points="77.3,317.3 82.3,317.3 87.3,317.3 92.3,317.3 97.3,317.3 102.3,317.3 107.3,317.3 112.3,317.3 117.3,317.3 122.3,317.3 127.3,317.3 132.3,317.3 137.3,317.3 142.3,317.3 147.3,317.3 152.3,317.3 157.3,317.3 162.3,317.3 167.3,317.3 172.3,317.3 177.3,317.3 182.3,317.3 187.3,317.3 192.3,317.3 197.3,317.3 202.3,317.3 207.3,317.3 212.3,317.3 217.3,317.3 222.3,317.3 227.3,317.3 232.3,317.3 237.3,317.3 242.3,317.3 247.3,317.3 252.3,317.3 257.3,317.3 262.3,317.3 267.3,317.3 272.3,317.3 277.3,317.3 282.3,317.3 287.3,317.3 292.3,317.3 297.3,317.3 302.3,317.3 307.3,317.3 312.3,317.3 317.3,317.3 322.3,317.3 327.3,317.3 332.3,317.3 337.3,317.3 342.3,317.3 347.3,317.3 349.3,317.3 351.3,317.3 353.3,317.3 355.3,317.3 357.3,317.2 359.3,317.2 361.3,317.2 363.3,317.2 365.3,317.2 367.3,317.2 369.3,317.1 371.3,317.1 373.3,317.1 375.3,317.0 377.3,317.0 379.3,316.9 381.3,316.9 383.3,316.8 385.3,316.7 387.3,316.6 389.3,316.5 391.3,316.4 393.3,316.2 395.3,316.0 396.1,315.9 396.8,315.8 397.6,315.7 398.3,315.6 399.1,315.4 399.8,315.3 400.6,315.1 401.3,314.9 402.1,314.7 402.8,314.4 403.6,314.1 404.3,313.7 405.1,313.2 405.8,312.6 406.6,311.9 407.3,310.9 408.1,309.8 408.8,308.5 409.6,306.9 410.3,305.0 411.1,302.7 411.8,300.1 412.6,297.2 413.3,294.0 414.1,290.5 414.8,286.8 415.6,283.1 416.3,279.4 417.1,276.0 417.8,273.1 418.6,270.9 419.3,269.8 420.1,269.7 420.8,270.8 421.6,272.9 422.3,275.8 423.1,279.1 423.8,282.8 424.6,286.6 425.3,290.3 426.1,293.8 426.8,297.0 427.6,299.9 428.3,302.5 429.1,304.8 429.8,306.8 430.6,308.4 431.3,309.8 432.1,310.9 432.8,311.8 433.6,312.5 434.3,313.2 435.1,313.6 435.8,314.1 436.6,314.4 437.3,314.7 438.1,314.9 438.8,315.1 439.6,315.3 440.3,315.4 441.1,315.6 441.8,315.7 442.6,315.8 443.3,315.9 444.1,316.0 444.8,316.1 445.6,316.1 447.6,316.3 449.6,316.5 451.6,316.6 453.6,316.7 455.6,316.8 457.6,316.8 459.6,316.9 461.6,317.0 463.6,317.0 465.6,317.0 467.6,317.1 469.6,317.1 471.6,317.1 473.6,317.2 475.6,317.2 477.6,317.2 479.6,317.2 481.6,317.2 483.6,317.3 485.6,317.3 487.6,317.3 489.6,317.3 491.6,317.3 493.6,317.3 495.6,317.3 500.6,317.3 505.6,317.3 510.6,317.3 515.5,317.3 520.5,317.3 525.5,317.3 530.5,317.3 535.5,317.3 540.5,317.3 545.5,317.3 550.5,317.3 555.5,317.3 560.5,317.3 565.5,317.3 570.5,317.3 575.5,317.3 580.5,317.3 585.5,317.3 590.5,317.3 595.5,317.3 600.5,317.3 605.5,317.3 610.5,317.3 615.5,317.3 620.5,317.3 625.5,317.3 630.5,317.3 635.5,317.3 640.5,317.3 645.5,317.3" fill="none" stroke="#111111" stroke-width="1.2" stroke-linejoin="round" clip-path="url(#clipT)"/>
<path d="M77.3,317.3 L77.3,317.3 82.3,317.3 87.3,317.3 92.3,317.3 97.3,317.3 102.3,317.3 107.3,317.3 112.3,317.3 117.3,317.3 122.3,317.3 127.3,317.3 132.3,317.3 137.3,317.3 142.3,317.3 147.3,317.3 152.3,317.3 157.3,317.3 162.3,317.3 167.3,317.3 172.3,317.3 177.3,317.3 182.3,317.3 187.3,317.3 192.3,317.3 197.3,317.3 202.3,317.3 207.3,317.3 212.3,317.3 217.3,317.3 222.3,317.3 227.3,317.3 232.3,317.3 237.3,317.3 242.3,317.3 247.3,317.3 252.3,317.3 257.3,317.3 262.3,317.3 267.3,317.3 272.3,317.3 277.3,317.3 282.3,317.3 287.3,317.3 292.3,317.3 297.3,317.3 302.3,317.3 307.3,317.3 312.3,317.3 317.3,317.2 322.3,317.2 327.3,317.1 332.3,317.1 337.3,317.0 342.3,317.0 344.3,316.9 346.3,316.9 348.3,316.9 350.3,316.8 352.3,316.8 354.3,316.7 356.3,316.7 358.3,316.6 360.3,316.6 362.3,316.5 364.3,316.5 366.3,316.4 368.3,316.3 370.3,316.3 372.3,316.2 374.3,316.1 376.3,316.0 378.3,315.9 380.3,315.8 382.3,315.6 384.3,315.5 386.3,315.3 388.3,315.2 390.3,315.0 392.3,314.7 394.3,314.5 396.3,314.2 398.3,313.9 400.3,313.5 402.3,313.1 404.3,312.6 406.3,312.1 408.3,311.4 409.1,311.1 409.8,310.8 410.6,310.5 411.3,310.2 412.1,309.8 412.8,309.4 413.6,309.0 414.3,308.6 415.1,308.1 415.8,307.6 416.6,307.1 417.3,306.5 418.1,305.8 418.8,305.1 419.6,304.4 420.3,303.5 421.1,302.6 421.8,301.6 422.6,300.6 423.3,299.4 424.1,298.1 424.8,296.6 425.6,295.1 426.3,293.3 427.1,291.4 427.8,289.3 428.6,286.9 429.3,284.3 430.1,281.4 430.8,278.2 431.6,274.7 432.3,270.8 433.1,266.5 433.8,261.8 434.6,256.8 435.3,251.5 436.1,246.0 436.8,240.3 437.6,234.8 438.3,229.6 439.1,225.1 439.8,221.5 440.6,219.2 441.3,218.2 442.1,218.8 442.8,220.8 443.6,224.1 444.3,228.4 445.1,233.4 445.8,238.8 446.6,244.5 447.3,250.0 448.1,255.4 448.8,260.5 449.6,265.3 450.3,269.7 451.1,273.7 451.8,277.3 452.6,280.6 453.3,283.6 454.1,286.2 454.8,288.7 455.6,290.9 456.3,292.8 457.1,294.6 457.8,296.2 458.6,297.7 459.3,299.0 460.1,300.3 460.8,301.4 461.6,302.4 462.3,303.3 463.1,304.1 463.8,304.9 464.6,305.6 465.3,306.3 466.1,306.9 466.8,307.5 467.6,308.0 468.3,308.5 469.1,308.9 469.8,309.3 470.6,309.7 471.3,310.1 472.1,310.4 472.8,310.8 473.6,311.1 474.3,311.3 475.1,311.6 475.8,311.8 477.8,312.4 479.8,312.9 481.8,313.4 483.8,313.8 485.8,314.1 487.8,314.4 489.8,314.7 491.8,314.9 493.8,315.1 495.8,315.3 497.8,315.4 499.8,315.6 501.8,315.7 503.8,315.8 505.8,316.0 507.8,316.1 509.8,316.1 511.8,316.2 513.8,316.3 515.8,316.4 517.8,316.5 519.8,316.5 521.8,316.6 523.8,316.6 525.8,316.7 527.8,316.7 529.8,316.8 531.8,316.8 533.8,316.8 535.8,316.9 537.8,316.9 539.8,316.9 541.8,317.0 543.8,317.0 545.8,317.0 550.8,317.1 555.8,317.1 560.8,317.2 565.8,317.2 570.8,317.3 575.8,317.3 580.8,317.3 585.8,317.3 590.8,317.3 595.8,317.3 600.8,317.3 605.8,317.3 610.8,317.3 615.8,317.3 620.8,317.3 625.8,317.3 630.8,317.3 635.8,317.3 640.8,317.3 645.5,317.3 L645.5,317.3 Z" fill="rgba(216,196,40,0.58)"/>
<polyline points="77.3,317.3 82.3,317.3 87.3,317.3 92.3,317.3 97.3,317.3 102.3,317.3 107.3,317.3 112.3,317.3 117.3,317.3 122.3,317.3 127.3,317.3 132.3,317.3 137.3,317.3 142.3,317.3 147.3,317.3 152.3,317.3 157.3,317.3 162.3,317.3 167.3,317.3 172.3,317.3 177.3,317.3 182.3,317.3 187.3,317.3 192.3,317.3 197.3,317.3 202.3,317.3 207.3,317.3 212.3,317.3 217.3,317.3 222.3,317.3 227.3,317.3 232.3,317.3 237.3,317.3 242.3,317.3 247.3,317.3 252.3,317.3 257.3,317.3 262.3,317.3 267.3,317.3 272.3,317.3 277.3,317.3 282.3,317.3 287.3,317.3 292.3,317.3 297.3,317.3 302.3,317.3 307.3,317.3 312.3,317.3 317.3,317.2 322.3,317.2 327.3,317.1 332.3,317.1 337.3,317.0 342.3,317.0 344.3,316.9 346.3,316.9 348.3,316.9 350.3,316.8 352.3,316.8 354.3,316.7 356.3,316.7 358.3,316.6 360.3,316.6 362.3,316.5 364.3,316.5 366.3,316.4 368.3,316.3 370.3,316.3 372.3,316.2 374.3,316.1 376.3,316.0 378.3,315.9 380.3,315.8 382.3,315.6 384.3,315.5 386.3,315.3 388.3,315.2 390.3,315.0 392.3,314.7 394.3,314.5 396.3,314.2 398.3,313.9 400.3,313.5 402.3,313.1 404.3,312.6 406.3,312.1 408.3,311.4 409.1,311.1 409.8,310.8 410.6,310.5 411.3,310.2 412.1,309.8 412.8,309.4 413.6,309.0 414.3,308.6 415.1,308.1 415.8,307.6 416.6,307.1 417.3,306.5 418.1,305.8 418.8,305.1 419.6,304.4 420.3,303.5 421.1,302.6 421.8,301.6 422.6,300.6 423.3,299.4 424.1,298.1 424.8,296.6 425.6,295.1 426.3,293.3 427.1,291.4 427.8,289.3 428.6,286.9 429.3,284.3 430.1,281.4 430.8,278.2 431.6,274.7 432.3,270.8 433.1,266.5 433.8,261.8 434.6,256.8 435.3,251.5 436.1,246.0 436.8,240.3 437.6,234.8 438.3,229.6 439.1,225.1 439.8,221.5 440.6,219.2 441.3,218.2 442.1,218.8 442.8,220.8 443.6,224.1 444.3,228.4 445.1,233.4 445.8,238.8 446.6,244.5 447.3,250.0 448.1,255.4 448.8,260.5 449.6,265.3 450.3,269.7 451.1,273.7 451.8,277.3 452.6,280.6 453.3,283.6 454.1,286.2 454.8,288.7 455.6,290.9 456.3,292.8 457.1,294.6 457.8,296.2 458.6,297.7 459.3,299.0 460.1,300.3 460.8,301.4 461.6,302.4 462.3,303.3 463.1,304.1 463.8,304.9 464.6,305.6 465.3,306.3 466.1,306.9 466.8,307.5 467.6,308.0 468.3,308.5 469.1,308.9 469.8,309.3 470.6,309.7 471.3,310.1 472.1,310.4 472.8,310.8 473.6,311.1 474.3,311.3 475.1,311.6 475.8,311.8 477.8,312.4 479.8,312.9 481.8,313.4 483.8,313.8 485.8,314.1 487.8,314.4 489.8,314.7 491.8,314.9 493.8,315.1 495.8,315.3 497.8,315.4 499.8,315.6 501.8,315.7 503.8,315.8 505.8,316.0 507.8,316.1 509.8,316.1 511.8,316.2 513.8,316.3 515.8,316.4 517.8,316.5 519.8,316.5 521.8,316.6 523.8,316.6 525.8,316.7 527.8,316.7 529.8,316.8 531.8,316.8 533.8,316.8 535.8,316.9 537.8,316.9 539.8,316.9 541.8,317.0 543.8,317.0 545.8,317.0 550.8,317.1 555.8,317.1 560.8,317.2 565.8,317.2 570.8,317.3 575.8,317.3 580.8,317.3 585.8,317.3 590.8,317.3 595.8,317.3 600.8,317.3 605.8,317.3 610.8,317.3 615.8,317.3 620.8,317.3 625.8,317.3 630.8,317.3 635.8,317.3 640.8,317.3 645.5,317.3" fill="none" stroke="#e8a820" stroke-width="1.2" stroke-linejoin="round" clip-path="url(#clipT)"/>
<path d="M77.3,317.3 L77.3,317.3 82.3,317.3 87.3,317.3 92.3,317.3 97.3,317.3 102.3,317.3 107.3,317.3 112.3,317.3 117.3,317.3 122.3,317.3 127.3,317.3 132.3,317.3 137.3,317.3 142.3,317.3 147.3,317.3 152.3,317.3 157.3,317.3 162.3,317.3 167.3,317.3 172.3,317.3 177.3,317.3 182.3,317.3 187.3,317.3 192.3,317.3 197.3,317.3 202.3,317.3 207.3,317.3 212.3,317.3 217.3,317.3 222.3,317.3 227.3,317.3 232.3,317.3 237.3,317.3 242.3,317.3 247.3,317.3 252.3,317.3 257.3,317.3 262.3,317.3 267.3,317.3 272.3,317.3 277.3,317.3 282.3,317.3 287.3,317.3 292.3,317.2 297.3,317.2 302.3,317.2 307.3,317.2 312.3,317.1 317.3,317.1 322.3,317.1 324.3,317.1 326.3,317.0 328.3,317.0 330.3,317.0 332.3,317.0 334.3,317.0 336.3,316.9 338.3,316.9 340.3,316.9 342.3,316.9 344.3,316.9 346.3,316.8 348.3,316.8 350.3,316.8 352.3,316.7 354.3,316.7 356.3,316.7 358.3,316.6 360.3,316.6 362.3,316.6 364.3,316.5 366.3,316.5 368.3,316.4 370.3,316.4 372.3,316.3 374.3,316.2 376.3,316.2 378.3,316.1 380.3,316.0 382.3,315.9 384.3,315.9 386.3,315.8 388.3,315.7 390.3,315.5 392.3,315.4 394.3,315.3 396.3,315.1 398.3,315.0 400.3,314.8 402.3,314.6 404.3,314.4 406.3,314.1 408.3,313.8 410.3,313.5 412.3,313.2 413.1,313.0 413.8,312.9 414.6,312.7 415.3,312.5 416.1,312.4 416.8,312.2 417.6,312.0 418.3,311.8 419.1,311.6 419.8,311.4 420.6,311.1 421.3,310.9 422.1,310.6 422.8,310.3 423.6,310.0 424.3,309.7 425.1,309.4 425.8,309.0 426.6,308.6 427.3,308.2 428.1,307.8 428.8,307.4 429.6,306.9 430.3,306.3 431.1,305.8 431.8,305.2 432.6,304.6 433.3,303.9 434.1,303.1 434.8,302.3 435.6,301.5 436.3,300.6 437.1,299.6 437.8,298.5 438.6,297.4 439.3,296.1 440.1,294.8 440.8,293.3 441.6,291.8 442.3,290.1 443.1,288.3 443.8,286.3 444.6,284.2 445.3,282.0 446.1,279.6 446.8,277.0 447.6,274.4 448.3,271.6 449.1,268.7 449.8,265.7 450.6,262.8 451.3,259.9 452.1,257.1 452.8,254.5 453.6,252.2 454.3,250.3 455.1,248.8 455.8,247.9 456.6,247.6 457.3,247.9 458.1,248.7 458.8,250.1 459.6,251.9 460.3,254.2 461.1,256.7 461.8,259.5 462.6,262.4 463.3,265.3 464.1,268.3 464.8,271.2 465.6,274.0 466.3,276.7 467.1,279.3 467.8,281.7 468.6,283.9 469.3,286.1 470.1,288.0 470.8,289.9 471.6,291.6 472.3,293.1 473.1,294.6 473.8,296.0 474.6,297.2 475.3,298.4 476.1,299.5 476.8,300.5 477.6,301.4 478.3,302.2 479.1,303.0 479.8,303.8 480.6,304.5 481.3,305.1 482.1,305.7 482.8,306.3 483.6,306.8 484.3,307.3 485.1,307.8 485.8,308.2 486.6,308.6 487.3,309.0 488.1,309.3 488.8,309.7 489.6,310.0 490.3,310.3 491.1,310.6 491.8,310.8 492.6,311.1 493.3,311.3 494.1,311.5 494.8,311.8 495.6,312.0 496.3,312.2 497.1,312.3 497.8,312.5 498.6,312.7 499.3,312.8 500.1,313.0 500.8,313.1 501.6,313.3 502.3,313.4 503.1,313.5 505.1,313.8 507.1,314.1 509.1,314.4 511.1,314.6 513.0,314.8 515.0,315.0 517.0,315.1 519.0,315.3 521.0,315.4 523.0,315.5 525.0,315.7 527.0,315.8 529.0,315.9 531.0,315.9 533.0,316.0 535.0,316.1 537.0,316.2 539.0,316.2 541.0,316.3 543.0,316.4 545.0,316.4 547.0,316.5 549.0,316.5 551.0,316.6 553.0,316.6 555.0,316.6 557.0,316.7 559.0,316.7 561.0,316.7 563.0,316.8 565.0,316.8 567.0,316.8 569.0,316.9 571.0,316.9 573.0,316.9 575.0,316.9 577.0,316.9 579.0,317.0 581.0,317.0 583.0,317.0 585.0,317.0 587.0,317.0 589.0,317.1 591.0,317.1 593.0,317.1 595.0,317.1 600.0,317.1 605.0,317.2 610.0,317.2 615.0,317.2 620.0,317.2 625.0,317.3 630.0,317.3 635.0,317.3 640.0,317.3 645.0,317.3 645.5,317.3 L645.5,317.3 Z" fill="rgba(216,196,40,0.58)"/>
<polyline points="77.3,317.3 82.3,317.3 87.3,317.3 92.3,317.3 97.3,317.3 102.3,317.3 107.3,317.3 112.3,317.3 117.3,317.3 122.3,317.3 127.3,317.3 132.3,317.3 137.3,317.3 142.3,317.3 147.3,317.3 152.3,317.3 157.3,317.3 162.3,317.3 167.3,317.3 172.3,317.3 177.3,317.3 182.3,317.3 187.3,317.3 192.3,317.3 197.3,317.3 202.3,317.3 207.3,317.3 212.3,317.3 217.3,317.3 222.3,317.3 227.3,317.3 232.3,317.3 237.3,317.3 242.3,317.3 247.3,317.3 252.3,317.3 257.3,317.3 262.3,317.3 267.3,317.3 272.3,317.3 277.3,317.3 282.3,317.3 287.3,317.3 292.3,317.2 297.3,317.2 302.3,317.2 307.3,317.2 312.3,317.1 317.3,317.1 322.3,317.1 324.3,317.1 326.3,317.0 328.3,317.0 330.3,317.0 332.3,317.0 334.3,317.0 336.3,316.9 338.3,316.9 340.3,316.9 342.3,316.9 344.3,316.9 346.3,316.8 348.3,316.8 350.3,316.8 352.3,316.7 354.3,316.7 356.3,316.7 358.3,316.6 360.3,316.6 362.3,316.6 364.3,316.5 366.3,316.5 368.3,316.4 370.3,316.4 372.3,316.3 374.3,316.2 376.3,316.2 378.3,316.1 380.3,316.0 382.3,315.9 384.3,315.9 386.3,315.8 388.3,315.7 390.3,315.5 392.3,315.4 394.3,315.3 396.3,315.1 398.3,315.0 400.3,314.8 402.3,314.6 404.3,314.4 406.3,314.1 408.3,313.8 410.3,313.5 412.3,313.2 413.1,313.0 413.8,312.9 414.6,312.7 415.3,312.5 416.1,312.4 416.8,312.2 417.6,312.0 418.3,311.8 419.1,311.6 419.8,311.4 420.6,311.1 421.3,310.9 422.1,310.6 422.8,310.3 423.6,310.0 424.3,309.7 425.1,309.4 425.8,309.0 426.6,308.6 427.3,308.2 428.1,307.8 428.8,307.4 429.6,306.9 430.3,306.3 431.1,305.8 431.8,305.2 432.6,304.6 433.3,303.9 434.1,303.1 434.8,302.3 435.6,301.5 436.3,300.6 437.1,299.6 437.8,298.5 438.6,297.4 439.3,296.1 440.1,294.8 440.8,293.3 441.6,291.8 442.3,290.1 443.1,288.3 443.8,286.3 444.6,284.2 445.3,282.0 446.1,279.6 446.8,277.0 447.6,274.4 448.3,271.6 449.1,268.7 449.8,265.7 450.6,262.8 451.3,259.9 452.1,257.1 452.8,254.5 453.6,252.2 454.3,250.3 455.1,248.8 455.8,247.9 456.6,247.6 457.3,247.9 458.1,248.7 458.8,250.1 459.6,251.9 460.3,254.2 461.1,256.7 461.8,259.5 462.6,262.4 463.3,265.3 464.1,268.3 464.8,271.2 465.6,274.0 466.3,276.7 467.1,279.3 467.8,281.7 468.6,283.9 469.3,286.1 470.1,288.0 470.8,289.9 471.6,291.6 472.3,293.1 473.1,294.6 473.8,296.0 474.6,297.2 475.3,298.4 476.1,299.5 476.8,300.5 477.6,301.4 478.3,302.2 479.1,303.0 479.8,303.8 480.6,304.5 481.3,305.1 482.1,305.7 482.8,306.3 483.6,306.8 484.3,307.3 485.1,307.8 485.8,308.2 486.6,308.6 487.3,309.0 488.1,309.3 488.8,309.7 489.6,310.0 490.3,310.3 491.1,310.6 491.8,310.8 492.6,311.1 493.3,311.3 494.1,311.5 494.8,311.8 495.6,312.0 496.3,312.2 497.1,312.3 497.8,312.5 498.6,312.7 499.3,312.8 500.1,313.0 500.8,313.1 501.6,313.3 502.3,313.4 503.1,313.5 505.1,313.8 507.1,314.1 509.1,314.4 511.1,314.6 513.0,314.8 515.0,315.0 517.0,315.1 519.0,315.3 521.0,315.4 523.0,315.5 525.0,315.7 527.0,315.8 529.0,315.9 531.0,315.9 533.0,316.0 535.0,316.1 537.0,316.2 539.0,316.2 541.0,316.3 543.0,316.4 545.0,316.4 547.0,316.5 549.0,316.5 551.0,316.6 553.0,316.6 555.0,316.6 557.0,316.7 559.0,316.7 561.0,316.7 563.0,316.8 565.0,316.8 567.0,316.8 569.0,316.9 571.0,316.9 573.0,316.9 575.0,316.9 577.0,316.9 579.0,317.0 581.0,317.0 583.0,317.0 585.0,317.0 587.0,317.0 589.0,317.1 591.0,317.1 593.0,317.1 595.0,317.1 600.0,317.1 605.0,317.2 610.0,317.2 615.0,317.2 620.0,317.2 625.0,317.3 630.0,317.3 635.0,317.3 640.0,317.3 645.0,317.3 645.5,317.3" fill="none" stroke="#e8a820" stroke-width="1.2" stroke-linejoin="round" clip-path="url(#clipT)"/>
<path d="M77.3,317.3 L77.3,317.3 82.3,317.3 87.3,317.3 92.3,317.3 97.3,317.3 102.3,317.3 107.3,317.3 112.3,317.3 117.3,317.3 122.3,317.3 127.3,317.3 132.3,317.3 137.3,317.3 142.3,317.3 147.3,317.3 152.3,317.3 157.3,317.3 162.3,317.3 167.3,317.3 172.3,317.3 177.3,317.3 182.3,317.3 187.3,317.3 192.3,317.3 197.3,317.3 202.3,317.3 207.3,317.3 212.3,317.3 217.3,317.3 222.3,317.3 227.3,317.3 232.3,317.3 237.3,317.3 242.3,317.3 247.3,317.3 252.3,317.3 257.3,317.3 262.3,317.3 267.3,317.3 272.3,317.3 277.3,317.3 282.3,317.3 287.3,317.3 292.3,317.3 297.3,317.3 302.3,317.3 307.3,317.3 312.3,317.3 317.3,317.3 322.3,317.3 327.3,317.3 332.3,317.3 337.3,317.2 342.3,317.2 347.3,317.2 352.3,317.1 357.3,317.1 362.3,317.1 367.3,317.0 369.3,317.0 371.3,317.0 373.3,316.9 375.3,316.9 377.3,316.9 379.3,316.9 381.3,316.8 383.3,316.8 385.3,316.8 387.3,316.7 389.3,316.7 391.3,316.7 393.3,316.6 395.3,316.6 397.3,316.5 399.3,316.5 401.3,316.4 403.3,316.4 405.3,316.3 407.3,316.2 409.3,316.2 411.3,316.1 413.3,316.0 415.3,315.9 417.3,315.8 419.3,315.7 421.3,315.6 423.3,315.4 425.3,315.3 427.3,315.1 429.3,315.0 431.3,314.8 433.3,314.6 435.3,314.3 437.3,314.1 439.3,313.8 441.3,313.5 443.3,313.1 445.3,312.7 447.3,312.2 448.1,312.0 448.8,311.8 449.6,311.6 450.3,311.3 451.1,311.1 451.8,310.8 452.6,310.5 453.3,310.2 454.1,309.9 454.8,309.6 455.6,309.2 456.3,308.9 457.1,308.5 457.8,308.0 458.6,307.6 459.3,307.1 460.1,306.6 460.8,306.0 461.6,305.4 462.3,304.8 463.1,304.1 463.8,303.3 464.6,302.5 465.3,301.7 466.1,300.7 466.8,299.7 467.6,298.6 468.3,297.4 469.1,296.1 469.8,294.7 470.6,293.1 471.3,291.4 472.1,289.6 472.8,287.6 473.6,285.4 474.3,283.0 475.1,280.4 475.8,277.6 476.6,274.5 477.3,271.3 478.1,267.7 478.8,264.0 479.6,260.0 480.3,255.9 481.1,251.7 481.8,247.5 482.6,243.4 483.3,239.6 484.1,236.1 484.8,233.2 485.6,231.1 486.3,229.7 487.1,229.3 487.8,229.8 488.6,231.3 489.3,233.6 490.1,236.6 490.8,240.1 491.6,244.0 492.3,248.1 493.1,252.3 493.8,256.5 494.6,260.6 495.3,264.5 496.1,268.2 496.8,271.7 497.6,275.0 498.3,278.0 499.1,280.8 499.8,283.3 500.6,285.7 501.3,287.9 502.1,289.8 502.8,291.7 503.6,293.3 504.3,294.9 505.1,296.3 505.8,297.6 506.6,298.7 507.3,299.8 508.1,300.9 508.8,301.8 509.6,302.6 510.3,303.4 511.1,304.2 511.8,304.9 512.5,305.5 513.3,306.1 514.0,306.7 514.8,307.2 515.5,307.7 516.3,308.1 517.0,308.5 517.8,308.9 518.5,309.3 519.3,309.6 520.0,310.0 520.8,310.3 521.5,310.6 522.3,310.8 523.0,311.1 523.8,311.3 524.5,311.6 525.3,311.8 526.0,312.0 526.8,312.2 527.5,312.4 528.3,312.6 530.3,313.0 532.3,313.4 534.3,313.7 536.3,314.0 538.3,314.3 540.3,314.5 542.3,314.7 544.3,314.9 546.3,315.1 548.3,315.3 550.3,315.4 552.3,315.5 554.3,315.7 556.3,315.8 558.3,315.9 560.3,316.0 562.3,316.1 564.3,316.1 566.3,316.2 568.3,316.3 570.3,316.3 572.3,316.4 574.3,316.5 576.3,316.5 578.3,316.6 580.3,316.6 582.3,316.7 584.3,316.7 586.3,316.7 588.3,316.8 590.3,316.8 592.3,316.8 594.3,316.9 596.3,316.9 598.3,316.9 600.3,316.9 602.3,317.0 604.3,317.0 606.3,317.0 608.3,317.0 610.3,317.1 615.3,317.1 620.3,317.1 625.3,317.2 630.3,317.2 635.3,317.2 640.3,317.3 645.3,317.3 645.5,317.3 L645.5,317.3 Z" fill="rgba(222,33,40,0.58)"/>
<polyline points="77.3,317.3 82.3,317.3 87.3,317.3 92.3,317.3 97.3,317.3 102.3,317.3 107.3,317.3 112.3,317.3 117.3,317.3 122.3,317.3 127.3,317.3 132.3,317.3 137.3,317.3 142.3,317.3 147.3,317.3 152.3,317.3 157.3,317.3 162.3,317.3 167.3,317.3 172.3,317.3 177.3,317.3 182.3,317.3 187.3,317.3 192.3,317.3 197.3,317.3 202.3,317.3 207.3,317.3 212.3,317.3 217.3,317.3 222.3,317.3 227.3,317.3 232.3,317.3 237.3,317.3 242.3,317.3 247.3,317.3 252.3,317.3 257.3,317.3 262.3,317.3 267.3,317.3 272.3,317.3 277.3,317.3 282.3,317.3 287.3,317.3 292.3,317.3 297.3,317.3 302.3,317.3 307.3,317.3 312.3,317.3 317.3,317.3 322.3,317.3 327.3,317.3 332.3,317.3 337.3,317.2 342.3,317.2 347.3,317.2 352.3,317.1 357.3,317.1 362.3,317.1 367.3,317.0 369.3,317.0 371.3,317.0 373.3,316.9 375.3,316.9 377.3,316.9 379.3,316.9 381.3,316.8 383.3,316.8 385.3,316.8 387.3,316.7 389.3,316.7 391.3,316.7 393.3,316.6 395.3,316.6 397.3,316.5 399.3,316.5 401.3,316.4 403.3,316.4 405.3,316.3 407.3,316.2 409.3,316.2 411.3,316.1 413.3,316.0 415.3,315.9 417.3,315.8 419.3,315.7 421.3,315.6 423.3,315.4 425.3,315.3 427.3,315.1 429.3,315.0 431.3,314.8 433.3,314.6 435.3,314.3 437.3,314.1 439.3,313.8 441.3,313.5 443.3,313.1 445.3,312.7 447.3,312.2 448.1,312.0 448.8,311.8 449.6,311.6 450.3,311.3 451.1,311.1 451.8,310.8 452.6,310.5 453.3,310.2 454.1,309.9 454.8,309.6 455.6,309.2 456.3,308.9 457.1,308.5 457.8,308.0 458.6,307.6 459.3,307.1 460.1,306.6 460.8,306.0 461.6,305.4 462.3,304.8 463.1,304.1 463.8,303.3 464.6,302.5 465.3,301.7 466.1,300.7 466.8,299.7 467.6,298.6 468.3,297.4 469.1,296.1 469.8,294.7 470.6,293.1 471.3,291.4 472.1,289.6 472.8,287.6 473.6,285.4 474.3,283.0 475.1,280.4 475.8,277.6 476.6,274.5 477.3,271.3 478.1,267.7 478.8,264.0 479.6,260.0 480.3,255.9 481.1,251.7 481.8,247.5 482.6,243.4 483.3,239.6 484.1,236.1 484.8,233.2 485.6,231.1 486.3,229.7 487.1,229.3 487.8,229.8 488.6,231.3 489.3,233.6 490.1,236.6 490.8,240.1 491.6,244.0 492.3,248.1 493.1,252.3 493.8,256.5 494.6,260.6 495.3,264.5 496.1,268.2 496.8,271.7 497.6,275.0 498.3,278.0 499.1,280.8 499.8,283.3 500.6,285.7 501.3,287.9 502.1,289.8 502.8,291.7 503.6,293.3 504.3,294.9 505.1,296.3 505.8,297.6 506.6,298.7 507.3,299.8 508.1,300.9 508.8,301.8 509.6,302.6 510.3,303.4 511.1,304.2 511.8,304.9 512.5,305.5 513.3,306.1 514.0,306.7 514.8,307.2 515.5,307.7 516.3,308.1 517.0,308.5 517.8,308.9 518.5,309.3 519.3,309.6 520.0,310.0 520.8,310.3 521.5,310.6 522.3,310.8 523.0,311.1 523.8,311.3 524.5,311.6 525.3,311.8 526.0,312.0 526.8,312.2 527.5,312.4 528.3,312.6 530.3,313.0 532.3,313.4 534.3,313.7 536.3,314.0 538.3,314.3 540.3,314.5 542.3,314.7 544.3,314.9 546.3,315.1 548.3,315.3 550.3,315.4 552.3,315.5 554.3,315.7 556.3,315.8 558.3,315.9 560.3,316.0 562.3,316.1 564.3,316.1 566.3,316.2 568.3,316.3 570.3,316.3 572.3,316.4 574.3,316.5 576.3,316.5 578.3,316.6 580.3,316.6 582.3,316.7 584.3,316.7 586.3,316.7 588.3,316.8 590.3,316.8 592.3,316.8 594.3,316.9 596.3,316.9 598.3,316.9 600.3,316.9 602.3,317.0 604.3,317.0 606.3,317.0 608.3,317.0 610.3,317.1 615.3,317.1 620.3,317.1 625.3,317.2 630.3,317.2 635.3,317.2 640.3,317.3 645.3,317.3 645.5,317.3" fill="none" stroke="#ff1c1c" stroke-width="1.2" stroke-linejoin="round" clip-path="url(#clipT)"/>
<path d="M77.3,317.3 L77.3,317.3 82.3,317.3 87.3,317.3 92.3,317.3 97.3,317.3 102.3,317.3 107.3,317.3 112.3,317.3 117.3,317.3 122.3,317.3 127.3,317.3 132.3,317.3 137.3,317.3 142.3,317.3 147.3,317.3 152.3,317.3 157.3,317.3 162.3,317.3 167.3,317.3 172.3,317.3 177.3,317.3 182.3,317.3 187.3,317.3 192.3,317.3 197.3,317.3 202.3,317.3 207.3,317.3 212.3,317.3 217.3,317.3 222.3,317.3 227.3,317.3 232.3,317.3 237.3,317.3 242.3,317.3 247.3,317.3 252.3,317.3 257.3,317.3 262.3,317.3 267.3,317.3 272.3,317.3 277.3,317.3 279.3,317.3 281.3,317.3 283.3,317.3 285.3,317.3 287.3,317.3 289.3,317.3 291.3,317.3 293.3,317.3 295.3,317.3 297.3,317.3 299.3,317.3 301.3,317.3 303.3,317.3 305.3,317.3 307.3,317.3 309.3,317.3 311.3,317.3 313.3,317.3 315.3,317.3 317.3,317.3 319.3,317.3 321.3,317.3 323.3,317.3 325.3,317.3 327.3,317.3 329.3,317.3 331.3,317.2 333.3,317.2 335.3,317.2 337.3,317.2 339.3,317.2 341.3,317.1 343.3,317.1 345.3,317.1 347.3,317.0 349.3,317.0 351.3,317.0 353.3,317.0 355.3,316.9 357.3,316.9 359.3,316.9 361.3,316.8 363.3,316.8 365.3,316.7 367.3,316.7 369.3,316.7 371.3,316.6 373.3,316.6 375.3,316.5 377.3,316.5 379.3,316.4 381.3,316.4 383.3,316.3 385.3,316.3 387.3,316.2 389.3,316.2 391.3,316.1 393.3,316.0 395.3,316.0 397.3,315.9 399.3,315.8 401.3,315.7 403.3,315.6 405.3,315.6 407.3,315.5 409.3,315.4 411.3,315.3 413.3,315.2 415.3,315.0 417.3,314.9 419.3,314.8 421.3,314.7 423.3,314.5 425.3,314.4 427.3,314.2 429.3,314.1 431.3,313.9 433.3,313.7 435.3,313.5 437.3,313.3 439.3,313.1 441.3,312.8 443.3,312.6 444.1,312.5 444.8,312.4 445.6,312.3 446.3,312.2 447.1,312.1 447.8,311.9 448.6,311.8 449.3,311.7 450.1,311.6 450.8,311.5 451.6,311.3 452.3,311.2 453.1,311.1 453.8,310.9 454.6,310.8 455.3,310.6 456.1,310.5 456.8,310.3 457.6,310.2 458.3,310.0 459.1,309.8 459.8,309.6 460.6,309.5 461.3,309.3 462.1,309.1 462.8,308.9 463.6,308.7 464.3,308.5 465.1,308.2 465.8,308.0 466.6,307.8 467.3,307.5 468.1,307.3 468.8,307.0 469.6,306.8 470.3,306.5 471.1,306.2 471.8,305.9 472.6,305.6 473.3,305.3 474.1,305.0 474.8,304.6 475.6,304.3 476.3,303.9 477.1,303.5 477.8,303.1 478.6,302.7 479.3,302.3 480.1,301.9 480.8,301.4 481.6,300.9 482.3,300.4 483.1,299.9 483.8,299.4 484.6,298.8 485.3,298.3 486.1,297.7 486.8,297.0 487.6,296.4 488.3,295.7 489.1,295.0 489.8,294.3 490.6,293.5 491.3,292.7 492.1,291.9 492.8,291.0 493.6,290.1 494.3,289.2 495.1,288.2 495.8,287.2 496.6,286.1 497.3,285.0 498.1,283.8 498.8,282.6 499.6,281.4 500.3,280.0 501.1,278.7 501.8,277.2 502.6,275.8 503.3,274.2 504.1,272.6 504.8,270.9 505.6,269.2 506.3,267.4 507.1,265.6 507.8,263.7 508.6,261.7 509.3,259.7 510.1,257.7 510.8,255.6 511.6,253.5 512.3,251.3 513.0,249.1 513.8,246.9 514.5,244.7 515.3,242.6 516.0,240.4 516.8,238.4 517.5,236.3 518.3,234.4 519.0,232.6 519.8,230.9 520.5,229.4 521.3,228.0 522.0,226.8 522.8,225.8 523.5,225.0 524.3,224.4 525.0,224.1 525.8,224.0 526.5,224.2 527.3,224.5 528.0,225.2 528.8,226.0 529.5,227.1 530.3,228.3 531.0,229.7 531.8,231.3 532.5,233.1 533.3,234.9 534.0,236.9 534.8,238.9 535.5,241.0 536.3,243.2 537.0,245.3 537.8,247.5 538.5,249.7 539.3,251.9 540.0,254.0 540.8,256.2 541.5,258.2 542.3,260.3 543.0,262.3 543.8,264.2 544.5,266.1 545.3,267.9 546.0,269.7 546.8,271.4 547.5,273.0 548.3,274.6 549.0,276.2 549.8,277.6 550.5,279.0 551.3,280.4 552.0,281.7 552.8,282.9 553.5,284.1 554.3,285.3 555.0,286.4 555.8,287.5 556.5,288.5 557.3,289.4 558.0,290.4 558.8,291.3 559.5,292.1 560.3,292.9 561.0,293.7 561.8,294.5 562.5,295.2 563.3,295.9 564.0,296.6 564.8,297.2 565.5,297.8 566.3,298.4 567.0,299.0 567.8,299.5 568.5,300.1 569.3,300.6 570.0,301.1 570.8,301.5 571.5,302.0 572.3,302.4 573.0,302.8 573.8,303.2 574.5,303.6 575.3,304.0 576.0,304.4 576.8,304.7 577.5,305.0 578.3,305.4 579.0,305.7 579.8,306.0 580.5,306.3 581.3,306.6 582.0,306.8 582.8,307.1 583.5,307.4 584.3,307.6 585.0,307.8 585.8,308.1 586.5,308.3 587.3,308.5 588.0,308.7 588.8,308.9 589.5,309.1 590.3,309.3 591.0,309.5 591.8,309.7 592.5,309.9 593.3,310.0 594.0,310.2 594.8,310.4 595.5,310.5 596.3,310.7 597.0,310.8 597.8,311.0 598.5,311.1 599.3,311.2 600.0,311.4 600.8,311.5 601.5,311.6 602.3,311.7 603.0,311.9 603.8,312.0 604.5,312.1 605.3,312.2 606.0,312.3 606.8,312.4 607.5,312.5 608.3,312.6 609.0,312.7 609.8,312.8 611.8,313.0 613.8,313.3 615.8,313.5 617.8,313.7 619.8,313.9 621.8,314.0 623.8,314.2 625.8,314.4 627.8,314.5 629.8,314.6 631.8,314.8 633.8,314.9 635.8,315.0 637.8,315.1 639.8,315.2 641.8,315.3 643.8,315.4 645.5,315.5 L645.5,317.3 Z" fill="rgba(177,40,133,0.58)"/>
<polyline points="77.3,317.3 82.3,317.3 87.3,317.3 92.3,317.3 97.3,317.3 102.3,317.3 107.3,317.3 112.3,317.3 117.3,317.3 122.3,317.3 127.3,317.3 132.3,317.3 137.3,317.3 142.3,317.3 147.3,317.3 152.3,317.3 157.3,317.3 162.3,317.3 167.3,317.3 172.3,317.3 177.3,317.3 182.3,317.3 187.3,317.3 192.3,317.3 197.3,317.3 202.3,317.3 207.3,317.3 212.3,317.3 217.3,317.3 222.3,317.3 227.3,317.3 232.3,317.3 237.3,317.3 242.3,317.3 247.3,317.3 252.3,317.3 257.3,317.3 262.3,317.3 267.3,317.3 272.3,317.3 277.3,317.3 279.3,317.3 281.3,317.3 283.3,317.3 285.3,317.3 287.3,317.3 289.3,317.3 291.3,317.3 293.3,317.3 295.3,317.3 297.3,317.3 299.3,317.3 301.3,317.3 303.3,317.3 305.3,317.3 307.3,317.3 309.3,317.3 311.3,317.3 313.3,317.3 315.3,317.3 317.3,317.3 319.3,317.3 321.3,317.3 323.3,317.3 325.3,317.3 327.3,317.3 329.3,317.3 331.3,317.2 333.3,317.2 335.3,317.2 337.3,317.2 339.3,317.2 341.3,317.1 343.3,317.1 345.3,317.1 347.3,317.0 349.3,317.0 351.3,317.0 353.3,317.0 355.3,316.9 357.3,316.9 359.3,316.9 361.3,316.8 363.3,316.8 365.3,316.7 367.3,316.7 369.3,316.7 371.3,316.6 373.3,316.6 375.3,316.5 377.3,316.5 379.3,316.4 381.3,316.4 383.3,316.3 385.3,316.3 387.3,316.2 389.3,316.2 391.3,316.1 393.3,316.0 395.3,316.0 397.3,315.9 399.3,315.8 401.3,315.7 403.3,315.6 405.3,315.6 407.3,315.5 409.3,315.4 411.3,315.3 413.3,315.2 415.3,315.0 417.3,314.9 419.3,314.8 421.3,314.7 423.3,314.5 425.3,314.4 427.3,314.2 429.3,314.1 431.3,313.9 433.3,313.7 435.3,313.5 437.3,313.3 439.3,313.1 441.3,312.8 443.3,312.6 444.1,312.5 444.8,312.4 445.6,312.3 446.3,312.2 447.1,312.1 447.8,311.9 448.6,311.8 449.3,311.7 450.1,311.6 450.8,311.5 451.6,311.3 452.3,311.2 453.1,311.1 453.8,310.9 454.6,310.8 455.3,310.6 456.1,310.5 456.8,310.3 457.6,310.2 458.3,310.0 459.1,309.8 459.8,309.6 460.6,309.5 461.3,309.3 462.1,309.1 462.8,308.9 463.6,308.7 464.3,308.5 465.1,308.2 465.8,308.0 466.6,307.8 467.3,307.5 468.1,307.3 468.8,307.0 469.6,306.8 470.3,306.5 471.1,306.2 471.8,305.9 472.6,305.6 473.3,305.3 474.1,305.0 474.8,304.6 475.6,304.3 476.3,303.9 477.1,303.5 477.8,303.1 478.6,302.7 479.3,302.3 480.1,301.9 480.8,301.4 481.6,300.9 482.3,300.4 483.1,299.9 483.8,299.4 484.6,298.8 485.3,298.3 486.1,297.7 486.8,297.0 487.6,296.4 488.3,295.7 489.1,295.0 489.8,294.3 490.6,293.5 491.3,292.7 492.1,291.9 492.8,291.0 493.6,290.1 494.3,289.2 495.1,288.2 495.8,287.2 496.6,286.1 497.3,285.0 498.1,283.8 498.8,282.6 499.6,281.4 500.3,280.0 501.1,278.7 501.8,277.2 502.6,275.8 503.3,274.2 504.1,272.6 504.8,270.9 505.6,269.2 506.3,267.4 507.1,265.6 507.8,263.7 508.6,261.7 509.3,259.7 510.1,257.7 510.8,255.6 511.6,253.5 512.3,251.3 513.0,249.1 513.8,246.9 514.5,244.7 515.3,242.6 516.0,240.4 516.8,238.4 517.5,236.3 518.3,234.4 519.0,232.6 519.8,230.9 520.5,229.4 521.3,228.0 522.0,226.8 522.8,225.8 523.5,225.0 524.3,224.4 525.0,224.1 525.8,224.0 526.5,224.2 527.3,224.5 528.0,225.2 528.8,226.0 529.5,227.1 530.3,228.3 531.0,229.7 531.8,231.3 532.5,233.1 533.3,234.9 534.0,236.9 534.8,238.9 535.5,241.0 536.3,243.2 537.0,245.3 537.8,247.5 538.5,249.7 539.3,251.9 540.0,254.0 540.8,256.2 541.5,258.2 542.3,260.3 543.0,262.3 543.8,264.2 544.5,266.1 545.3,267.9 546.0,269.7 546.8,271.4 547.5,273.0 548.3,274.6 549.0,276.2 549.8,277.6 550.5,279.0 551.3,280.4 552.0,281.7 552.8,282.9 553.5,284.1 554.3,285.3 555.0,286.4 555.8,287.5 556.5,288.5 557.3,289.4 558.0,290.4 558.8,291.3 559.5,292.1 560.3,292.9 561.0,293.7 561.8,294.5 562.5,295.2 563.3,295.9 564.0,296.6 564.8,297.2 565.5,297.8 566.3,298.4 567.0,299.0 567.8,299.5 568.5,300.1 569.3,300.6 570.0,301.1 570.8,301.5 571.5,302.0 572.3,302.4 573.0,302.8 573.8,303.2 574.5,303.6 575.3,304.0 576.0,304.4 576.8,304.7 577.5,305.0 578.3,305.4 579.0,305.7 579.8,306.0 580.5,306.3 581.3,306.6 582.0,306.8 582.8,307.1 583.5,307.4 584.3,307.6 585.0,307.8 585.8,308.1 586.5,308.3 587.3,308.5 588.0,308.7 588.8,308.9 589.5,309.1 590.3,309.3 591.0,309.5 591.8,309.7 592.5,309.9 593.3,310.0 594.0,310.2 594.8,310.4 595.5,310.5 596.3,310.7 597.0,310.8 597.8,311.0 598.5,311.1 599.3,311.2 600.0,311.4 600.8,311.5 601.5,311.6 602.3,311.7 603.0,311.9 603.8,312.0 604.5,312.1 605.3,312.2 606.0,312.3 606.8,312.4 607.5,312.5 608.3,312.6 609.0,312.7 609.8,312.8 611.8,313.0 613.8,313.3 615.8,313.5 617.8,313.7 619.8,313.9 621.8,314.0 623.8,314.2 625.8,314.4 627.8,314.5 629.8,314.6 631.8,314.8 633.8,314.9 635.8,315.0 637.8,315.1 639.8,315.2 641.8,315.3 643.8,315.4 645.5,315.5" fill="none" stroke="#a8105e" stroke-width="1.2" stroke-linejoin="round" clip-path="url(#clipT)"/>
<polyline points="77.9,306.5 78.7,302.8 79.4,299.1 80.2,295.4 80.9,291.8 81.7,288.2 82.4,284.7 83.2,281.2 83.9,277.6 84.7,274.0 85.4,270.1 86.2,265.9 86.9,261.3 87.7,256.6 88.4,252.1 89.2,247.8 89.9,244.0 90.7,240.8 91.4,238.1 92.2,236.0 92.9,234.4 93.7,233.3 94.4,232.6 95.2,232.2 95.9,232.3 96.7,232.7 97.4,233.6 98.2,235.1 98.9,237.0 99.7,239.5 100.4,242.5 101.2,246.0 101.9,249.7 102.7,253.5 103.4,257.2 104.2,260.4 104.9,263.1 105.7,265.5 106.4,267.5 107.2,269.4 107.9,271.3 108.7,273.0 109.4,274.8 110.2,276.4 110.9,278.1 111.7,279.6 112.4,281.1 113.2,282.5 113.9,283.8 114.7,285.1 115.4,286.3 116.2,287.5 116.9,288.7 117.7,289.8 118.4,290.8 119.2,291.9 119.9,293.0 120.7,294.0 121.4,295.0 122.2,295.9 122.9,296.8 123.7,297.6 124.4,298.3 125.2,298.9 125.9,299.4 126.7,299.7 127.4,300.0 128.2,300.2 128.9,300.4 129.7,300.5 130.4,300.7 131.2,301.0 131.9,301.3 132.7,301.7 133.4,302.0 134.2,302.3 134.9,302.6 135.7,302.9 136.4,303.1 137.2,303.2 137.9,303.3 138.7,303.3 139.4,303.3 140.2,303.2 140.9,303.0 141.7,302.8 142.4,302.6 143.2,302.3 143.9,301.9 144.7,301.5 145.4,301.1 146.2,300.6 146.9,300.1 147.7,299.6 148.4,299.0 149.2,298.4 149.9,297.9 150.7,297.3 151.4,296.8 152.2,296.3 152.9,295.8 153.7,295.4 154.4,295.0 155.2,294.6 155.9,294.4 156.7,294.1 157.4,293.9 158.2,293.7 158.9,293.6 159.7,293.5 160.4,293.4 161.2,293.4 161.9,293.4 162.7,293.4 163.4,293.4 164.2,293.5 164.9,293.6 165.7,293.7 166.4,293.9 167.2,294.0 167.9,294.2 168.7,294.4 169.4,294.6 170.2,294.9 170.9,295.1 171.7,295.3 172.4,295.5 173.2,295.7 173.9,295.9 174.7,296.0 175.4,296.0 176.2,296.0 176.9,295.9 177.7,295.8 178.4,295.6 179.2,295.2 179.9,294.8 180.7,294.3 181.4,293.7 182.2,293.0 182.9,292.2 183.7,291.3 184.4,290.3 185.2,289.2 185.9,288.1 186.7,286.9 187.4,285.7 188.2,284.5 188.9,283.3 189.7,282.1 190.4,280.9 191.2,279.8 191.9,278.7 192.7,277.7 193.4,276.8 194.2,275.9 194.9,275.2 195.7,274.5 196.4,273.9 197.2,273.5 197.9,273.1 198.7,272.9 199.4,272.9 200.2,273.0 200.9,273.2 201.7,273.6 202.4,274.0 203.2,274.4 203.9,274.8 204.7,275.1 205.4,275.3 206.2,275.3 206.9,275.1 207.7,274.7 208.4,273.9 209.2,272.9 209.9,271.6 210.7,270.0 211.4,268.0 212.2,265.7 212.9,263.1 213.7,260.2 214.4,257.1 215.2,253.8 215.9,250.3 216.7,246.8 217.4,243.2 218.2,239.7 218.9,236.3 219.7,233.1 220.4,230.2 221.2,227.6 221.9,225.2 222.7,223.0 223.4,221.1 224.2,219.5 224.9,218.1 225.7,217.0 226.4,216.0 227.2,215.3 227.9,214.7 228.7,214.4 229.4,214.2 230.2,214.1 230.9,214.2 231.7,214.4 232.4,214.7 233.2,215.2 233.9,215.9 234.7,216.7 235.4,217.7 236.2,218.8 236.9,220.1 237.7,221.5 238.4,222.9 239.2,224.5 239.9,226.0 240.7,227.6 241.4,229.1 242.2,230.6 242.9,232.1 243.7,233.6 244.4,234.9 245.2,236.2 245.9,237.4 246.7,238.5 247.4,239.5 248.2,240.5 248.9,241.4 249.7,242.2 250.4,243.0 251.2,243.8 251.9,244.6 252.7,245.5 253.4,246.5 254.2,247.6 254.9,248.8 255.7,250.1 256.4,251.5 257.1,253.0 257.9,254.6 258.6,256.2 259.4,257.9 260.1,259.6 260.9,261.3 261.6,263.1 262.4,264.8 263.1,266.6 263.9,268.3 264.6,269.9 265.4,271.5 266.1,273.0 266.9,274.4 267.6,275.7 268.4,276.8 269.1,277.7 269.9,278.4 270.6,279.0 271.4,279.3 272.1,279.5 272.9,279.5 273.6,279.3 274.4,278.9 275.1,278.3 275.9,277.6 276.6,276.6 277.4,275.4 278.1,274.1 278.9,272.5 279.6,270.8 280.4,268.9 281.1,266.9 281.9,264.9 282.6,262.8 283.4,260.7 284.1,258.6 284.9,256.6 285.6,254.7 286.4,253.0 287.1,251.4 287.9,250.1 288.6,249.0 289.4,248.3 290.1,247.8 290.9,247.6 291.6,247.8 292.4,248.3 293.1,249.2 293.9,250.5 294.6,252.1 295.4,254.0 296.1,256.3 296.9,258.9 297.6,261.8 298.4,265.0 299.1,268.5 299.9,272.0 300.6,275.5 301.4,278.7 302.1,281.4 302.9,283.4 303.6,284.6 304.4,284.9 305.1,284.2 305.9,282.8 306.6,280.8 307.4,278.4 308.1,275.7 308.9,272.9 309.6,270.1 310.4,267.3 311.1,264.8 311.9,262.6 312.6,260.7 313.4,259.0 314.1,257.7 314.9,256.7 315.6,255.9 316.4,255.5 317.1,255.4 317.9,255.7 318.6,256.4 319.4,257.0 320.1,257.2 320.9,256.6 321.6,254.8 322.4,251.9 323.1,248.6 323.9,245.5 324.6,242.5 325.4,237.9 326.1,231.4 326.9,224.4 327.6,217.7 328.4,212.1 329.1,207.3 329.9,203.3 330.6,200.0 331.4,197.4 332.1,195.4 332.9,194.2 333.6,193.5 334.4,193.6 335.1,194.4 335.9,195.8 336.6,197.7 337.4,200.2 338.1,203.1 338.9,206.5 339.6,210.2 340.4,214.2 341.1,218.4 341.9,222.8 342.6,227.3 343.4,231.8 344.1,236.5 344.9,241.2 345.6,245.8 346.4,250.5 347.1,255.0 347.9,259.3 348.6,263.3 349.4,266.8 350.1,269.8 350.9,272.0 351.6,273.5 352.4,274.3 353.1,274.3 353.9,273.5 354.6,272.1 355.4,270.1 356.1,267.6 356.9,264.9 357.6,262.0 358.4,259.0 359.1,256.0 359.9,253.0 360.6,250.2 361.4,247.6 362.1,245.2 362.9,243.2 363.6,241.6 364.4,240.3 365.1,239.0 365.9,237.4 366.6,235.4 367.4,232.7 368.1,229.1 368.9,224.4 369.6,218.7 370.4,212.3 371.1,205.3 371.9,197.8 372.6,190.0 373.4,182.2 374.1,174.7 374.9,167.8 375.6,161.6 376.4,156.3 377.1,151.7 377.9,147.8 378.6,144.5 379.4,141.7 380.1,139.5 380.9,138.0 381.6,137.3 382.4,137.4 383.1,138.4 383.9,140.2 384.6,142.5 385.4,145.1 386.1,148.0 386.9,150.8 387.6,153.4 388.4,155.8 389.1,157.9 389.9,159.6 390.6,160.9 391.4,161.9 392.1,162.4 392.9,162.4 393.6,162.1 394.4,161.4 395.1,160.5 395.9,159.6 396.6,158.7 397.4,157.9 398.1,157.4 398.9,157.1 399.6,157.0 400.4,157.4 401.1,158.1 401.9,159.2 402.6,160.8 403.4,162.8 404.1,165.3 404.9,168.2 405.6,171.3 406.4,174.5 407.1,177.5 407.9,180.4 408.6,182.9 409.4,185.1 410.1,186.8 410.9,188.0 411.6,188.8 412.4,189.2 413.1,189.1 413.9,188.7 414.6,188.0 415.4,187.2 416.1,186.3 416.9,185.3 417.6,184.4 418.4,183.8 419.1,183.3 419.9,183.3 420.6,183.7 421.4,184.5 422.1,185.5 422.9,186.8 423.6,188.3 424.4,189.9 425.1,191.5 425.9,193.0 426.6,194.2 427.4,195.0 428.1,195.3 428.9,195.0 429.6,193.9 430.4,192.1 431.1,189.6 431.9,186.4 432.6,182.5 433.4,178.0 434.1,173.2 434.9,168.2 435.6,163.4 436.4,159.2 437.1,155.4 437.9,152.3 438.6,149.7 439.4,147.7 440.1,146.2 440.9,145.2 441.6,144.6 442.4,144.5 443.1,144.6 443.9,145.0 444.6,145.8 445.4,146.8 446.1,148.0 446.9,149.5 447.6,151.2 448.4,153.1 449.1,155.2 449.9,157.2 450.6,159.4 451.4,161.5 452.1,163.5 452.9,165.5 453.6,167.4 454.4,169.4 455.1,171.4 455.9,173.4 456.6,175.5 457.4,177.7 458.1,180.0 458.9,182.3 459.6,184.6 460.4,186.9 461.1,189.2 461.9,191.5 462.6,193.8 463.4,196.0 464.1,198.2 464.9,200.4 465.6,202.5 466.4,204.5 467.1,206.4 467.9,208.1 468.6,209.5 469.4,210.7 470.1,211.6 470.9,212.1 471.6,212.4 472.4,212.3 473.1,211.9 473.9,211.2 474.6,210.1 475.4,208.6 476.1,206.7 476.9,204.5 477.6,202.0 478.4,199.4 479.1,196.7 479.9,194.1 480.6,191.5 481.4,189.2 482.1,187.1 482.9,185.4 483.6,184.0 484.4,183.1 485.1,182.6 485.9,182.4 486.6,182.6 487.4,183.2 488.1,184.2 488.9,185.6 489.6,187.3 490.4,189.4 491.1,191.8 491.9,194.4 492.6,197.1 493.4,199.8 494.1,202.7 494.9,205.5 495.6,208.3 496.4,211.1 497.1,213.7 497.9,216.3 498.6,218.8 499.4,221.2 500.1,223.5 500.9,225.8 501.6,228.0 502.4,230.1 503.1,232.1 503.9,234.1 504.6,235.9 505.4,237.7 506.1,239.3 506.9,240.7 507.6,241.8 508.4,242.5 509.1,242.7 509.9,242.5 510.6,241.8 511.4,240.6 512.1,239.0 512.9,236.9 513.6,234.5 514.4,231.8 515.1,229.0 515.9,226.1 516.6,223.4 517.4,221.0 518.1,218.8 518.9,217.0 519.6,215.3 520.4,213.9 521.1,212.7 521.9,211.7 522.6,210.8 523.4,210.2 524.1,209.8 524.9,209.7 525.6,209.9 526.4,210.2 527.1,210.8 527.9,211.6 528.6,212.6 529.4,213.6 530.1,214.9 530.9,216.3 531.6,218.0 532.4,220.0 533.1,222.4 533.9,225.1 534.6,227.9 535.4,230.8 536.1,233.7 536.9,236.4 537.6,239.1 538.4,241.5 539.1,243.8 539.9,245.9 540.6,247.8 541.4,249.6 542.1,251.3 542.9,252.8 543.6,254.3 544.4,255.8 545.1,257.2 545.9,258.6 546.6,259.9 547.4,261.3 548.1,262.6 548.9,263.8 549.6,265.1 550.4,266.3 551.1,267.5 551.9,268.7 552.6,269.9 553.4,271.1 554.1,272.2 554.9,273.3 555.6,274.5 556.4,275.5 557.1,276.6 557.9,277.7 558.6,278.7 559.4,279.7 560.1,280.7 560.9,281.7 561.6,282.6 562.4,283.5 563.1,284.4 563.9,285.3 564.6,286.1 565.4,286.9 566.1,287.7 566.9,288.4 567.6,289.1 568.4,289.8 569.1,290.4 569.9,291.0 570.6,291.6 571.4,292.2 572.1,292.8 572.9,293.4 573.6,293.9 574.4,294.5 575.1,295.0 575.9,295.6 576.6,296.2 577.4,296.7 578.1,297.3 578.9,297.8 579.6,298.4 580.4,298.9 581.1,299.5 581.9,300.0 582.6,300.5 583.4,301.0 584.1,301.4 584.9,301.8 585.6,302.2 586.4,302.6 587.1,303.0 587.9,303.3 588.6,303.6 589.4,303.9 590.1,304.2 590.9,304.4 591.6,304.6 592.4,304.8 593.1,305.0 593.9,305.2 594.6,305.3 595.4,305.5 596.1,305.6 596.9,305.7 597.6,305.8 598.4,306.0 599.1,306.1 599.9,306.3 600.6,306.4 601.4,306.6 602.1,306.8 602.9,307.0 603.6,307.3 604.4,307.5 605.1,307.8 605.9,308.1 606.6,308.4 607.4,308.7 608.1,309.0 608.9,309.3 609.6,309.7 610.4,310.0 611.1,310.3 611.9,310.7 612.6,311.0 613.4,311.3 614.1,311.6 614.9,311.9 615.6,312.2 616.4,312.5 617.1,312.8 617.9,313.0 618.6,313.2 619.4,313.4 620.1,313.5 620.9,313.7 621.6,313.8 622.4,314.0 623.1,314.1 623.9,314.2 624.6,314.3 625.4,314.3 626.1,314.4 626.9,314.5 627.6,314.6 628.4,314.6 629.1,314.7 629.9,314.8 630.6,314.8 631.4,314.9 632.1,315.0 632.9,315.1 633.6,315.1 634.4,315.2 635.1,315.2 635.9,315.3 636.6,315.4 637.4,315.4 638.1,315.5 638.9,315.5 639.6,315.6 640.4,315.6 641.1,315.6 641.9,315.7 642.6,315.7 643.4,315.7 644.1,315.8 644.9,315.8" fill="none" stroke="#111" stroke-width="1.5" stroke-linejoin="round"/>
<path d="M77.3,601.2 L77.3,593.5 78.0,593.2 78.8,592.8 79.5,592.4 80.3,592.1 81.0,591.8 81.8,591.5 82.5,591.2 83.3,591.0 84.0,590.9 84.8,590.8 85.5,590.7 86.3,590.7 87.0,590.8 87.8,590.9 88.5,591.1 89.3,591.3 90.0,591.6 90.8,591.9 91.5,592.2 92.3,592.6 93.0,592.9 93.8,593.3 94.5,593.6 95.3,594.0 96.0,594.4 96.8,594.7 97.5,595.0 98.3,595.4 99.0,595.7 99.8,596.0 100.5,596.2 101.3,596.5 102.0,596.7 102.8,597.0 103.5,597.2 104.3,597.4 105.0,597.6 105.8,597.7 106.5,597.9 107.3,598.1 108.0,598.2 108.8,598.4 109.5,598.5 110.3,598.6 111.0,598.7 111.8,598.8 112.5,598.9 113.3,599.0 114.0,599.1 114.8,599.2 115.5,599.3 116.3,599.4 117.0,599.4 117.8,599.5 118.5,599.6 119.3,599.6 120.0,599.7 120.8,599.8 121.5,599.8 122.3,599.9 123.0,599.9 123.8,599.9 124.5,600.0 125.3,600.0 126.0,600.1 126.8,600.1 127.5,600.1 128.3,600.2 129.1,600.2 129.8,600.2 130.6,600.3 131.3,600.3 132.1,600.3 132.8,600.3 133.6,600.4 134.3,600.4 135.1,600.4 135.8,600.4 136.6,600.5 137.3,600.5 138.1,600.5 138.8,600.5 139.6,600.5 140.3,600.6 141.1,600.6 141.8,600.6 143.8,600.6 145.8,600.7 147.8,600.7 149.8,600.7 151.8,600.7 153.8,600.8 155.8,600.8 157.8,600.8 159.8,600.8 161.8,600.9 163.8,600.9 165.8,600.9 167.8,600.9 169.8,600.9 171.8,600.9 173.8,600.9 175.8,601.0 177.8,601.0 179.8,601.0 181.8,601.0 183.8,601.0 185.8,601.0 187.8,601.0 189.8,601.0 191.8,601.0 193.8,601.0 195.8,601.0 197.8,601.0 199.8,601.0 201.8,601.0 203.8,601.1 205.8,601.1 207.8,601.1 209.8,601.1 211.8,601.1 213.8,601.1 215.8,601.1 217.8,601.1 219.8,601.1 221.8,601.1 223.8,601.1 225.8,601.1 227.8,601.1 229.8,601.1 231.8,601.1 233.8,601.1 235.8,601.1 237.8,601.1 239.8,601.1 241.8,601.1 243.8,601.1 245.8,601.1 247.8,601.1 249.8,601.1 251.8,601.1 253.8,601.1 258.8,601.1 263.8,601.1 268.8,601.1 273.8,601.1 278.8,601.1 283.8,601.1 288.8,601.2 293.8,601.2 298.8,601.2 303.8,601.2 308.8,601.2 313.8,601.2 318.8,601.2 323.8,601.2 328.8,601.2 333.8,601.2 338.8,601.2 343.8,601.2 348.8,601.2 353.8,601.2 358.8,601.2 363.8,601.2 368.8,601.2 373.8,601.2 378.8,601.2 383.8,601.2 388.8,601.2 393.8,601.2 398.8,601.2 403.8,601.2 408.8,601.2 413.8,601.2 418.8,601.2 423.8,601.2 428.8,601.2 433.8,601.2 438.8,601.2 443.8,601.2 448.8,601.2 453.8,601.2 458.8,601.2 463.8,601.2 468.8,601.2 473.8,601.2 478.8,601.2 483.8,601.2 488.8,601.2 493.8,601.2 498.8,601.2 503.8,601.2 508.8,601.2 513.8,601.2 518.8,601.2 523.8,601.2 528.8,601.2 533.8,601.2 538.8,601.2 543.8,601.2 548.8,601.2 553.8,601.2 558.8,601.2 563.8,601.2 568.8,601.2 573.8,601.2 578.8,601.2 583.8,601.2 588.8,601.2 593.8,601.2 598.8,601.2 603.8,601.2 608.8,601.2 613.8,601.2 618.8,601.2 623.8,601.2 628.8,601.2 633.8,601.2 638.8,601.2 643.8,601.2 645.5,601.2 L645.5,601.2 Z" fill="rgba(160,36,255,0.58)"/>
<polyline points="77.3,593.5 78.0,593.2 78.8,592.8 79.5,592.4 80.3,592.1 81.0,591.8 81.8,591.5 82.5,591.2 83.3,591.0 84.0,590.9 84.8,590.8 85.5,590.7 86.3,590.7 87.0,590.8 87.8,590.9 88.5,591.1 89.3,591.3 90.0,591.6 90.8,591.9 91.5,592.2 92.3,592.6 93.0,592.9 93.8,593.3 94.5,593.6 95.3,594.0 96.0,594.4 96.8,594.7 97.5,595.0 98.3,595.4 99.0,595.7 99.8,596.0 100.5,596.2 101.3,596.5 102.0,596.7 102.8,597.0 103.5,597.2 104.3,597.4 105.0,597.6 105.8,597.7 106.5,597.9 107.3,598.1 108.0,598.2 108.8,598.4 109.5,598.5 110.3,598.6 111.0,598.7 111.8,598.8 112.5,598.9 113.3,599.0 114.0,599.1 114.8,599.2 115.5,599.3 116.3,599.4 117.0,599.4 117.8,599.5 118.5,599.6 119.3,599.6 120.0,599.7 120.8,599.8 121.5,599.8 122.3,599.9 123.0,599.9 123.8,599.9 124.5,600.0 125.3,600.0 126.0,600.1 126.8,600.1 127.5,600.1 128.3,600.2 129.1,600.2 129.8,600.2 130.6,600.3 131.3,600.3 132.1,600.3 132.8,600.3 133.6,600.4 134.3,600.4 135.1,600.4 135.8,600.4 136.6,600.5 137.3,600.5 138.1,600.5 138.8,600.5 139.6,600.5 140.3,600.6 141.1,600.6 141.8,600.6 143.8,600.6 145.8,600.7 147.8,600.7 149.8,600.7 151.8,600.7 153.8,600.8 155.8,600.8 157.8,600.8 159.8,600.8 161.8,600.9 163.8,600.9 165.8,600.9 167.8,600.9 169.8,600.9 171.8,600.9 173.8,600.9 175.8,601.0 177.8,601.0 179.8,601.0 181.8,601.0 183.8,601.0 185.8,601.0 187.8,601.0 189.8,601.0 191.8,601.0 193.8,601.0 195.8,601.0 197.8,601.0 199.8,601.0 201.8,601.0 203.8,601.1 205.8,601.1 207.8,601.1 209.8,601.1 211.8,601.1 213.8,601.1 215.8,601.1 217.8,601.1 219.8,601.1 221.8,601.1 223.8,601.1 225.8,601.1 227.8,601.1 229.8,601.1 231.8,601.1 233.8,601.1 235.8,601.1 237.8,601.1 239.8,601.1 241.8,601.1 243.8,601.1 245.8,601.1 247.8,601.1 249.8,601.1 251.8,601.1 253.8,601.1 258.8,601.1 263.8,601.1 268.8,601.1 273.8,601.1 278.8,601.1 283.8,601.1 288.8,601.2 293.8,601.2 298.8,601.2 303.8,601.2 308.8,601.2 313.8,601.2 318.8,601.2 323.8,601.2 328.8,601.2 333.8,601.2 338.8,601.2 343.8,601.2 348.8,601.2 353.8,601.2 358.8,601.2 363.8,601.2 368.8,601.2 373.8,601.2 378.8,601.2 383.8,601.2 388.8,601.2 393.8,601.2 398.8,601.2 403.8,601.2 408.8,601.2 413.8,601.2 418.8,601.2 423.8,601.2 428.8,601.2 433.8,601.2 438.8,601.2 443.8,601.2 448.8,601.2 453.8,601.2 458.8,601.2 463.8,601.2 468.8,601.2 473.8,601.2 478.8,601.2 483.8,601.2 488.8,601.2 493.8,601.2 498.8,601.2 503.8,601.2 508.8,601.2 513.8,601.2 518.8,601.2 523.8,601.2 528.8,601.2 533.8,601.2 538.8,601.2 543.8,601.2 548.8,601.2 553.8,601.2 558.8,601.2 563.8,601.2 568.8,601.2 573.8,601.2 578.8,601.2 583.8,601.2 588.8,601.2 593.8,601.2 598.8,601.2 603.8,601.2 608.8,601.2 613.8,601.2 618.8,601.2 623.8,601.2 628.8,601.2 633.8,601.2 638.8,601.2 643.8,601.2 645.5,601.2" fill="none" stroke="#8a00ff" stroke-width="1.2" stroke-linejoin="round" clip-path="url(#clipB)"/>
<path d="M77.3,601.2 L77.3,601.1 79.3,601.1 81.3,601.1 83.3,601.0 85.3,601.0 87.3,601.0 89.3,601.0 91.3,601.0 93.3,601.0 95.3,601.0 97.3,601.0 99.3,600.9 101.3,600.9 103.3,600.9 105.3,600.9 107.3,600.8 109.3,600.8 111.3,600.8 113.3,600.7 115.3,600.7 116.0,600.6 116.8,600.6 117.5,600.6 118.3,600.6 119.0,600.5 119.8,600.5 120.5,600.5 121.3,600.4 122.0,600.4 122.8,600.4 123.5,600.3 124.3,600.3 125.0,600.2 125.8,600.2 126.5,600.1 127.3,600.0 128.1,600.0 128.8,599.9 129.6,599.8 130.3,599.7 131.1,599.6 131.8,599.5 132.6,599.4 133.3,599.2 134.1,599.0 134.8,598.9 135.6,598.6 136.3,598.4 137.1,598.2 137.8,597.9 138.6,597.6 139.3,597.2 140.1,596.8 140.8,596.4 141.6,596.0 142.3,595.5 143.1,595.0 143.8,594.5 144.6,593.9 145.3,593.3 146.1,592.7 146.8,592.2 147.6,591.6 148.3,591.1 149.1,590.7 149.8,590.4 150.6,590.3 151.3,590.2 152.1,590.3 152.8,590.5 153.6,590.8 154.3,591.3 155.1,591.8 155.8,592.3 156.6,592.9 157.3,593.5 158.1,594.0 158.8,594.6 159.6,595.1 160.3,595.6 161.1,596.1 161.8,596.5 162.6,596.9 163.3,597.3 164.1,597.6 164.8,598.0 165.6,598.2 166.3,598.5 167.1,598.7 167.8,598.9 168.6,599.1 169.3,599.2 170.1,599.4 170.8,599.5 171.6,599.6 172.3,599.7 173.1,599.8 173.8,599.9 174.6,600.0 175.3,600.1 176.1,600.1 176.8,600.2 177.6,600.2 178.3,600.3 179.1,600.3 179.8,600.4 180.6,600.4 181.3,600.4 182.1,600.5 182.8,600.5 183.6,600.5 184.3,600.6 185.1,600.6 185.8,600.6 186.6,600.6 187.3,600.7 188.1,600.7 190.1,600.7 192.1,600.8 194.1,600.8 196.1,600.8 198.1,600.9 200.1,600.9 202.1,600.9 204.1,600.9 206.1,601.0 208.1,601.0 210.1,601.0 212.1,601.0 214.1,601.0 216.1,601.0 218.1,601.0 220.1,601.0 222.1,601.1 224.1,601.1 226.1,601.1 228.1,601.1 230.1,601.1 232.1,601.1 234.1,601.1 236.1,601.1 238.1,601.1 240.1,601.1 242.1,601.1 244.1,601.1 246.1,601.1 248.1,601.1 250.1,601.1 252.1,601.1 254.1,601.1 256.1,601.1 258.1,601.1 260.1,601.1 262.1,601.1 267.1,601.1 272.1,601.1 277.1,601.2 282.1,601.2 287.1,601.2 292.1,601.2 297.1,601.2 302.1,601.2 307.1,601.2 312.1,601.2 317.1,601.2 322.1,601.2 327.1,601.2 332.1,601.2 337.1,601.2 342.1,601.2 347.1,601.2 352.1,601.2 357.1,601.2 362.1,601.2 367.1,601.2 372.1,601.2 377.1,601.2 382.1,601.2 387.1,601.2 392.1,601.2 397.1,601.2 402.1,601.2 407.1,601.2 412.1,601.2 417.1,601.2 422.1,601.2 427.1,601.2 432.1,601.2 437.1,601.2 442.1,601.2 447.1,601.2 452.1,601.2 457.1,601.2 462.1,601.2 467.1,601.2 472.1,601.2 477.1,601.2 482.1,601.2 487.1,601.2 492.1,601.2 497.1,601.2 502.1,601.2 507.1,601.2 512.0,601.2 517.0,601.2 522.0,601.2 527.0,601.2 532.0,601.2 537.0,601.2 542.0,601.2 547.0,601.2 552.0,601.2 557.0,601.2 562.0,601.2 567.0,601.2 572.0,601.2 577.0,601.2 582.0,601.2 587.0,601.2 592.0,601.2 597.0,601.2 602.0,601.2 607.0,601.2 612.0,601.2 617.0,601.2 622.0,601.2 627.0,601.2 632.0,601.2 637.0,601.2 642.0,601.2 645.5,601.2 L645.5,601.2 Z" fill="rgba(88,240,92,0.58)"/>
<polyline points="77.3,601.1 79.3,601.1 81.3,601.1 83.3,601.0 85.3,601.0 87.3,601.0 89.3,601.0 91.3,601.0 93.3,601.0 95.3,601.0 97.3,601.0 99.3,600.9 101.3,600.9 103.3,600.9 105.3,600.9 107.3,600.8 109.3,600.8 111.3,600.8 113.3,600.7 115.3,600.7 116.0,600.6 116.8,600.6 117.5,600.6 118.3,600.6 119.0,600.5 119.8,600.5 120.5,600.5 121.3,600.4 122.0,600.4 122.8,600.4 123.5,600.3 124.3,600.3 125.0,600.2 125.8,600.2 126.5,600.1 127.3,600.0 128.1,600.0 128.8,599.9 129.6,599.8 130.3,599.7 131.1,599.6 131.8,599.5 132.6,599.4 133.3,599.2 134.1,599.0 134.8,598.9 135.6,598.6 136.3,598.4 137.1,598.2 137.8,597.9 138.6,597.6 139.3,597.2 140.1,596.8 140.8,596.4 141.6,596.0 142.3,595.5 143.1,595.0 143.8,594.5 144.6,593.9 145.3,593.3 146.1,592.7 146.8,592.2 147.6,591.6 148.3,591.1 149.1,590.7 149.8,590.4 150.6,590.3 151.3,590.2 152.1,590.3 152.8,590.5 153.6,590.8 154.3,591.3 155.1,591.8 155.8,592.3 156.6,592.9 157.3,593.5 158.1,594.0 158.8,594.6 159.6,595.1 160.3,595.6 161.1,596.1 161.8,596.5 162.6,596.9 163.3,597.3 164.1,597.6 164.8,598.0 165.6,598.2 166.3,598.5 167.1,598.7 167.8,598.9 168.6,599.1 169.3,599.2 170.1,599.4 170.8,599.5 171.6,599.6 172.3,599.7 173.1,599.8 173.8,599.9 174.6,600.0 175.3,600.1 176.1,600.1 176.8,600.2 177.6,600.2 178.3,600.3 179.1,600.3 179.8,600.4 180.6,600.4 181.3,600.4 182.1,600.5 182.8,600.5 183.6,600.5 184.3,600.6 185.1,600.6 185.8,600.6 186.6,600.6 187.3,600.7 188.1,600.7 190.1,600.7 192.1,600.8 194.1,600.8 196.1,600.8 198.1,600.9 200.1,600.9 202.1,600.9 204.1,600.9 206.1,601.0 208.1,601.0 210.1,601.0 212.1,601.0 214.1,601.0 216.1,601.0 218.1,601.0 220.1,601.0 222.1,601.1 224.1,601.1 226.1,601.1 228.1,601.1 230.1,601.1 232.1,601.1 234.1,601.1 236.1,601.1 238.1,601.1 240.1,601.1 242.1,601.1 244.1,601.1 246.1,601.1 248.1,601.1 250.1,601.1 252.1,601.1 254.1,601.1 256.1,601.1 258.1,601.1 260.1,601.1 262.1,601.1 267.1,601.1 272.1,601.1 277.1,601.2 282.1,601.2 287.1,601.2 292.1,601.2 297.1,601.2 302.1,601.2 307.1,601.2 312.1,601.2 317.1,601.2 322.1,601.2 327.1,601.2 332.1,601.2 337.1,601.2 342.1,601.2 347.1,601.2 352.1,601.2 357.1,601.2 362.1,601.2 367.1,601.2 372.1,601.2 377.1,601.2 382.1,601.2 387.1,601.2 392.1,601.2 397.1,601.2 402.1,601.2 407.1,601.2 412.1,601.2 417.1,601.2 422.1,601.2 427.1,601.2 432.1,601.2 437.1,601.2 442.1,601.2 447.1,601.2 452.1,601.2 457.1,601.2 462.1,601.2 467.1,601.2 472.1,601.2 477.1,601.2 482.1,601.2 487.1,601.2 492.1,601.2 497.1,601.2 502.1,601.2 507.1,601.2 512.0,601.2 517.0,601.2 522.0,601.2 527.0,601.2 532.0,601.2 537.0,601.2 542.0,601.2 547.0,601.2 552.0,601.2 557.0,601.2 562.0,601.2 567.0,601.2 572.0,601.2 577.0,601.2 582.0,601.2 587.0,601.2 592.0,601.2 597.0,601.2 602.0,601.2 607.0,601.2 612.0,601.2 617.0,601.2 622.0,601.2 627.0,601.2 632.0,601.2 637.0,601.2 642.0,601.2 645.5,601.2" fill="none" stroke="#48d848" stroke-width="1.2" stroke-linejoin="round" clip-path="url(#clipB)"/>
<path d="M77.3,601.2 L77.3,601.0 79.3,601.0 81.3,601.0 83.3,601.0 85.3,601.0 87.3,601.0 89.3,600.9 91.3,600.9 93.3,600.9 95.3,600.9 97.3,600.9 99.3,600.9 101.3,600.9 103.3,600.9 105.3,600.8 107.3,600.8 109.3,600.8 111.3,600.8 113.3,600.8 115.3,600.7 117.3,600.7 119.3,600.7 121.3,600.7 123.3,600.6 125.3,600.6 127.3,600.6 129.3,600.5 131.3,600.5 133.3,600.4 135.3,600.4 136.1,600.4 136.8,600.3 137.6,600.3 138.3,600.3 139.1,600.3 139.8,600.3 140.6,600.2 141.3,600.2 142.1,600.2 142.8,600.1 143.6,600.1 144.3,600.1 145.1,600.0 145.8,600.0 146.6,600.0 147.3,599.9 148.1,599.9 148.8,599.8 149.6,599.8 150.3,599.8 151.1,599.7 151.8,599.6 152.6,599.6 153.3,599.5 154.1,599.5 154.8,599.4 155.6,599.3 156.3,599.3 157.1,599.2 157.8,599.1 158.6,599.0 159.3,598.9 160.1,598.8 160.8,598.7 161.6,598.6 162.3,598.4 163.1,598.3 163.8,598.1 164.6,598.0 165.3,597.8 166.1,597.6 166.8,597.4 167.6,597.2 168.3,597.0 169.1,596.7 169.8,596.5 170.6,596.2 171.3,595.9 172.1,595.6 172.8,595.2 173.6,594.9 174.3,594.5 175.1,594.1 175.8,593.7 176.6,593.3 177.3,592.8 178.1,592.3 178.8,591.8 179.6,591.3 180.3,590.7 181.1,590.2 181.8,589.6 182.6,589.1 183.3,588.5 184.1,587.9 184.8,587.4 185.6,586.8 186.3,586.4 187.1,585.9 187.8,585.5 188.6,585.1 189.3,584.9 190.1,584.7 190.8,584.5 191.6,584.5 192.3,584.5 193.1,584.7 193.8,584.9 194.6,585.2 195.3,585.5 196.1,586.0 196.8,586.4 197.6,586.9 198.3,587.4 199.1,588.0 199.8,588.6 200.6,589.1 201.3,589.7 202.1,590.3 202.8,590.8 203.6,591.3 204.3,591.9 205.1,592.4 205.8,592.9 206.6,593.3 207.3,593.8 208.1,594.2 208.8,594.6 209.6,594.9 210.3,595.3 211.1,595.6 211.8,595.9 212.6,596.2 213.3,596.5 214.1,596.8 214.8,597.0 215.6,597.2 216.3,597.5 217.1,597.6 217.8,597.8 218.6,598.0 219.3,598.2 220.1,598.3 220.8,598.4 221.6,598.6 222.3,598.7 223.1,598.8 223.8,598.9 224.6,599.0 225.3,599.1 226.1,599.2 226.8,599.3 227.6,599.3 228.3,599.4 229.1,599.5 229.8,599.5 230.6,599.6 231.3,599.7 232.1,599.7 232.8,599.8 233.6,599.8 234.3,599.9 235.1,599.9 235.8,599.9 236.6,600.0 237.3,600.0 238.1,600.0 238.8,600.1 239.6,600.1 240.3,600.1 241.1,600.2 241.8,600.2 242.6,600.2 243.3,600.3 244.1,600.3 244.8,600.3 245.6,600.3 246.3,600.3 247.1,600.4 247.8,600.4 248.6,600.4 249.3,600.4 251.3,600.5 253.3,600.5 255.3,600.6 257.3,600.6 259.3,600.6 261.3,600.7 263.3,600.7 265.3,600.7 267.3,600.7 269.3,600.8 271.3,600.8 273.3,600.8 275.3,600.8 277.3,600.8 279.3,600.9 281.3,600.9 283.3,600.9 285.3,600.9 287.3,600.9 289.3,600.9 291.3,600.9 293.3,600.9 295.3,601.0 297.3,601.0 299.3,601.0 301.3,601.0 303.3,601.0 305.3,601.0 307.3,601.0 309.3,601.0 311.3,601.0 313.3,601.0 315.3,601.0 317.3,601.0 319.3,601.0 321.3,601.0 323.3,601.0 325.3,601.0 327.3,601.1 329.3,601.1 331.3,601.1 333.3,601.1 335.3,601.1 337.3,601.1 339.3,601.1 341.3,601.1 343.3,601.1 345.3,601.1 347.3,601.1 349.3,601.1 351.3,601.1 353.3,601.1 355.3,601.1 357.3,601.1 359.3,601.1 361.3,601.1 363.3,601.1 368.3,601.1 373.3,601.1 378.3,601.1 383.3,601.1 388.3,601.1 393.3,601.1 398.3,601.1 403.3,601.1 408.3,601.1 413.3,601.1 418.3,601.1 423.3,601.1 428.3,601.2 433.3,601.2 438.3,601.2 443.3,601.2 448.3,601.2 453.3,601.2 458.3,601.2 463.3,601.2 468.3,601.2 473.3,601.2 478.3,601.2 483.3,601.2 488.3,601.2 493.3,601.2 498.3,601.2 503.3,601.2 508.3,601.2 513.3,601.2 518.3,601.2 523.3,601.2 528.3,601.2 533.3,601.2 538.3,601.2 543.3,601.2 548.3,601.2 553.3,601.2 558.3,601.2 563.3,601.2 568.3,601.2 573.3,601.2 578.3,601.2 583.3,601.2 588.3,601.2 593.3,601.2 598.3,601.2 603.3,601.2 608.3,601.2 613.3,601.2 618.3,601.2 623.3,601.2 628.3,601.2 633.3,601.2 638.3,601.2 643.3,601.2 645.5,601.2 L645.5,601.2 Z" fill="rgba(88,240,92,0.58)"/>
<polyline points="77.3,601.0 79.3,601.0 81.3,601.0 83.3,601.0 85.3,601.0 87.3,601.0 89.3,600.9 91.3,600.9 93.3,600.9 95.3,600.9 97.3,600.9 99.3,600.9 101.3,600.9 103.3,600.9 105.3,600.8 107.3,600.8 109.3,600.8 111.3,600.8 113.3,600.8 115.3,600.7 117.3,600.7 119.3,600.7 121.3,600.7 123.3,600.6 125.3,600.6 127.3,600.6 129.3,600.5 131.3,600.5 133.3,600.4 135.3,600.4 136.1,600.4 136.8,600.3 137.6,600.3 138.3,600.3 139.1,600.3 139.8,600.3 140.6,600.2 141.3,600.2 142.1,600.2 142.8,600.1 143.6,600.1 144.3,600.1 145.1,600.0 145.8,600.0 146.6,600.0 147.3,599.9 148.1,599.9 148.8,599.8 149.6,599.8 150.3,599.8 151.1,599.7 151.8,599.6 152.6,599.6 153.3,599.5 154.1,599.5 154.8,599.4 155.6,599.3 156.3,599.3 157.1,599.2 157.8,599.1 158.6,599.0 159.3,598.9 160.1,598.8 160.8,598.7 161.6,598.6 162.3,598.4 163.1,598.3 163.8,598.1 164.6,598.0 165.3,597.8 166.1,597.6 166.8,597.4 167.6,597.2 168.3,597.0 169.1,596.7 169.8,596.5 170.6,596.2 171.3,595.9 172.1,595.6 172.8,595.2 173.6,594.9 174.3,594.5 175.1,594.1 175.8,593.7 176.6,593.3 177.3,592.8 178.1,592.3 178.8,591.8 179.6,591.3 180.3,590.7 181.1,590.2 181.8,589.6 182.6,589.1 183.3,588.5 184.1,587.9 184.8,587.4 185.6,586.8 186.3,586.4 187.1,585.9 187.8,585.5 188.6,585.1 189.3,584.9 190.1,584.7 190.8,584.5 191.6,584.5 192.3,584.5 193.1,584.7 193.8,584.9 194.6,585.2 195.3,585.5 196.1,586.0 196.8,586.4 197.6,586.9 198.3,587.4 199.1,588.0 199.8,588.6 200.6,589.1 201.3,589.7 202.1,590.3 202.8,590.8 203.6,591.3 204.3,591.9 205.1,592.4 205.8,592.9 206.6,593.3 207.3,593.8 208.1,594.2 208.8,594.6 209.6,594.9 210.3,595.3 211.1,595.6 211.8,595.9 212.6,596.2 213.3,596.5 214.1,596.8 214.8,597.0 215.6,597.2 216.3,597.5 217.1,597.6 217.8,597.8 218.6,598.0 219.3,598.2 220.1,598.3 220.8,598.4 221.6,598.6 222.3,598.7 223.1,598.8 223.8,598.9 224.6,599.0 225.3,599.1 226.1,599.2 226.8,599.3 227.6,599.3 228.3,599.4 229.1,599.5 229.8,599.5 230.6,599.6 231.3,599.7 232.1,599.7 232.8,599.8 233.6,599.8 234.3,599.9 235.1,599.9 235.8,599.9 236.6,600.0 237.3,600.0 238.1,600.0 238.8,600.1 239.6,600.1 240.3,600.1 241.1,600.2 241.8,600.2 242.6,600.2 243.3,600.3 244.1,600.3 244.8,600.3 245.6,600.3 246.3,600.3 247.1,600.4 247.8,600.4 248.6,600.4 249.3,600.4 251.3,600.5 253.3,600.5 255.3,600.6 257.3,600.6 259.3,600.6 261.3,600.7 263.3,600.7 265.3,600.7 267.3,600.7 269.3,600.8 271.3,600.8 273.3,600.8 275.3,600.8 277.3,600.8 279.3,600.9 281.3,600.9 283.3,600.9 285.3,600.9 287.3,600.9 289.3,600.9 291.3,600.9 293.3,600.9 295.3,601.0 297.3,601.0 299.3,601.0 301.3,601.0 303.3,601.0 305.3,601.0 307.3,601.0 309.3,601.0 311.3,601.0 313.3,601.0 315.3,601.0 317.3,601.0 319.3,601.0 321.3,601.0 323.3,601.0 325.3,601.0 327.3,601.1 329.3,601.1 331.3,601.1 333.3,601.1 335.3,601.1 337.3,601.1 339.3,601.1 341.3,601.1 343.3,601.1 345.3,601.1 347.3,601.1 349.3,601.1 351.3,601.1 353.3,601.1 355.3,601.1 357.3,601.1 359.3,601.1 361.3,601.1 363.3,601.1 368.3,601.1 373.3,601.1 378.3,601.1 383.3,601.1 388.3,601.1 393.3,601.1 398.3,601.1 403.3,601.1 408.3,601.1 413.3,601.1 418.3,601.1 423.3,601.1 428.3,601.2 433.3,601.2 438.3,601.2 443.3,601.2 448.3,601.2 453.3,601.2 458.3,601.2 463.3,601.2 468.3,601.2 473.3,601.2 478.3,601.2 483.3,601.2 488.3,601.2 493.3,601.2 498.3,601.2 503.3,601.2 508.3,601.2 513.3,601.2 518.3,601.2 523.3,601.2 528.3,601.2 533.3,601.2 538.3,601.2 543.3,601.2 548.3,601.2 553.3,601.2 558.3,601.2 563.3,601.2 568.3,601.2 573.3,601.2 578.3,601.2 583.3,601.2 588.3,601.2 593.3,601.2 598.3,601.2 603.3,601.2 608.3,601.2 613.3,601.2 618.3,601.2 623.3,601.2 628.3,601.2 633.3,601.2 638.3,601.2 643.3,601.2 645.5,601.2" fill="none" stroke="#48d848" stroke-width="1.2" stroke-linejoin="round" clip-path="url(#clipB)"/>
<path d="M77.3,601.2 L77.3,600.1 79.3,600.1 81.3,600.1 83.3,600.0 85.3,600.0 87.3,600.0 89.3,599.9 91.3,599.9 93.3,599.8 95.3,599.8 97.3,599.7 99.3,599.7 101.3,599.6 103.3,599.6 105.3,599.5 107.3,599.5 109.3,599.4 111.3,599.3 113.3,599.2 115.3,599.2 117.3,599.1 119.3,599.0 121.3,598.9 123.3,598.8 125.3,598.7 127.3,598.6 129.3,598.5 131.3,598.3 133.3,598.2 135.3,598.0 137.3,597.9 139.3,597.7 141.3,597.5 143.3,597.3 145.3,597.1 147.3,596.9 149.3,596.6 151.3,596.3 153.3,596.0 155.3,595.7 157.3,595.3 158.1,595.1 158.8,595.0 159.6,594.8 160.3,594.6 161.1,594.5 161.8,594.3 162.6,594.1 163.3,593.9 164.1,593.7 164.8,593.5 165.6,593.3 166.3,593.0 167.1,592.8 167.8,592.5 168.6,592.3 169.3,592.0 170.1,591.7 170.8,591.4 171.6,591.1 172.3,590.7 173.1,590.4 173.8,590.0 174.6,589.6 175.3,589.2 176.1,588.8 176.8,588.3 177.6,587.8 178.3,587.3 179.1,586.7 179.8,586.1 180.6,585.5 181.3,584.8 182.1,584.1 182.8,583.4 183.6,582.5 184.3,581.7 185.1,580.7 185.8,579.7 186.6,578.7 187.3,577.6 188.1,576.3 188.8,575.0 189.6,573.7 190.3,572.2 191.1,570.6 191.8,568.9 192.6,567.1 193.3,565.2 194.1,563.2 194.8,561.0 195.6,558.7 196.3,556.3 197.1,553.7 197.8,551.0 198.6,548.1 199.3,545.1 200.1,542.0 200.8,538.7 201.6,535.3 202.3,531.8 203.1,528.1 203.8,524.4 204.6,520.7 205.3,516.9 206.1,513.1 206.8,509.4 207.6,505.8 208.3,502.3 209.1,499.1 209.8,496.2 210.6,493.7 211.3,491.6 212.1,489.9 212.8,488.8 213.6,488.3 214.3,488.3 215.1,488.9 215.8,490.0 216.6,491.7 217.3,493.8 218.1,496.4 218.8,499.3 219.6,502.6 220.3,506.0 221.1,509.6 221.8,513.3 222.6,517.1 223.3,520.9 224.1,524.7 224.8,528.4 225.6,532.0 226.3,535.5 227.1,538.9 227.8,542.2 228.6,545.3 229.3,548.3 230.1,551.2 230.8,553.9 231.6,556.4 232.3,558.9 233.1,561.1 233.8,563.3 234.6,565.3 235.3,567.2 236.1,569.0 236.8,570.7 237.6,572.3 238.3,573.8 239.1,575.1 239.8,576.4 240.6,577.6 241.3,578.8 242.1,579.8 242.8,580.8 243.6,581.7 244.3,582.6 245.1,583.4 245.8,584.2 246.6,584.9 247.3,585.5 248.1,586.2 248.8,586.8 249.6,587.3 250.3,587.8 251.1,588.3 251.8,588.8 252.6,589.2 253.3,589.6 254.1,590.0 254.8,590.4 255.6,590.8 256.3,591.1 257.1,591.4 257.8,591.7 258.6,592.0 259.3,592.3 260.1,592.6 260.8,592.8 261.6,593.1 262.3,593.3 263.1,593.5 263.8,593.7 264.6,593.9 265.3,594.1 266.1,594.3 266.8,594.5 267.6,594.7 268.3,594.8 269.1,595.0 269.8,595.1 270.6,595.3 271.3,595.4 272.1,595.6 274.1,595.9 276.1,596.2 278.1,596.5 280.1,596.8 282.1,597.0 284.1,597.3 286.1,597.5 288.1,597.7 290.1,597.8 292.1,598.0 294.1,598.2 296.1,598.3 298.1,598.4 300.1,598.6 302.1,598.7 304.1,598.8 306.1,598.9 308.1,599.0 310.1,599.1 312.1,599.1 314.1,599.2 316.1,599.3 318.1,599.4 320.1,599.4 322.1,599.5 324.1,599.6 326.1,599.6 328.1,599.7 330.1,599.7 332.1,599.8 334.1,599.8 336.1,599.9 338.1,599.9 340.1,599.9 342.1,600.0 344.1,600.0 346.1,600.1 348.1,600.1 350.1,600.1 352.1,600.2 354.1,600.2 356.1,600.2 358.1,600.2 360.1,600.3 362.1,600.3 364.1,600.3 366.1,600.3 368.1,600.4 370.1,600.4 372.1,600.4 374.1,600.4 376.1,600.4 378.1,600.5 380.1,600.5 382.1,600.5 384.1,600.5 386.1,600.5 388.1,600.5 393.1,600.6 398.1,600.6 403.1,600.6 408.1,600.7 413.1,600.7 418.1,600.7 423.1,600.7 428.1,600.8 433.1,600.8 438.1,600.8 443.1,600.8 448.1,600.8 453.1,600.8 458.1,600.9 463.1,600.9 468.1,600.9 473.1,600.9 478.1,600.9 483.1,600.9 488.1,600.9 493.1,600.9 498.1,601.0 503.1,601.0 508.1,601.0 513.0,601.0 518.0,601.0 523.0,601.0 528.0,601.0 533.0,601.0 538.0,601.0 543.0,601.0 548.0,601.0 553.0,601.0 558.0,601.0 563.0,601.0 568.0,601.0 573.0,601.0 578.0,601.0 583.0,601.1 588.0,601.1 593.0,601.1 598.0,601.1 603.0,601.1 608.0,601.1 613.0,601.1 618.0,601.1 623.0,601.1 628.0,601.1 633.0,601.1 638.0,601.1 643.0,601.1 645.5,601.1 L645.5,601.2 Z" fill="rgba(88,240,92,0.58)"/>
<polyline points="77.3,600.1 79.3,600.1 81.3,600.1 83.3,600.0 85.3,600.0 87.3,600.0 89.3,599.9 91.3,599.9 93.3,599.8 95.3,599.8 97.3,599.7 99.3,599.7 101.3,599.6 103.3,599.6 105.3,599.5 107.3,599.5 109.3,599.4 111.3,599.3 113.3,599.2 115.3,599.2 117.3,599.1 119.3,599.0 121.3,598.9 123.3,598.8 125.3,598.7 127.3,598.6 129.3,598.5 131.3,598.3 133.3,598.2 135.3,598.0 137.3,597.9 139.3,597.7 141.3,597.5 143.3,597.3 145.3,597.1 147.3,596.9 149.3,596.6 151.3,596.3 153.3,596.0 155.3,595.7 157.3,595.3 158.1,595.1 158.8,595.0 159.6,594.8 160.3,594.6 161.1,594.5 161.8,594.3 162.6,594.1 163.3,593.9 164.1,593.7 164.8,593.5 165.6,593.3 166.3,593.0 167.1,592.8 167.8,592.5 168.6,592.3 169.3,592.0 170.1,591.7 170.8,591.4 171.6,591.1 172.3,590.7 173.1,590.4 173.8,590.0 174.6,589.6 175.3,589.2 176.1,588.8 176.8,588.3 177.6,587.8 178.3,587.3 179.1,586.7 179.8,586.1 180.6,585.5 181.3,584.8 182.1,584.1 182.8,583.4 183.6,582.5 184.3,581.7 185.1,580.7 185.8,579.7 186.6,578.7 187.3,577.6 188.1,576.3 188.8,575.0 189.6,573.7 190.3,572.2 191.1,570.6 191.8,568.9 192.6,567.1 193.3,565.2 194.1,563.2 194.8,561.0 195.6,558.7 196.3,556.3 197.1,553.7 197.8,551.0 198.6,548.1 199.3,545.1 200.1,542.0 200.8,538.7 201.6,535.3 202.3,531.8 203.1,528.1 203.8,524.4 204.6,520.7 205.3,516.9 206.1,513.1 206.8,509.4 207.6,505.8 208.3,502.3 209.1,499.1 209.8,496.2 210.6,493.7 211.3,491.6 212.1,489.9 212.8,488.8 213.6,488.3 214.3,488.3 215.1,488.9 215.8,490.0 216.6,491.7 217.3,493.8 218.1,496.4 218.8,499.3 219.6,502.6 220.3,506.0 221.1,509.6 221.8,513.3 222.6,517.1 223.3,520.9 224.1,524.7 224.8,528.4 225.6,532.0 226.3,535.5 227.1,538.9 227.8,542.2 228.6,545.3 229.3,548.3 230.1,551.2 230.8,553.9 231.6,556.4 232.3,558.9 233.1,561.1 233.8,563.3 234.6,565.3 235.3,567.2 236.1,569.0 236.8,570.7 237.6,572.3 238.3,573.8 239.1,575.1 239.8,576.4 240.6,577.6 241.3,578.8 242.1,579.8 242.8,580.8 243.6,581.7 244.3,582.6 245.1,583.4 245.8,584.2 246.6,584.9 247.3,585.5 248.1,586.2 248.8,586.8 249.6,587.3 250.3,587.8 251.1,588.3 251.8,588.8 252.6,589.2 253.3,589.6 254.1,590.0 254.8,590.4 255.6,590.8 256.3,591.1 257.1,591.4 257.8,591.7 258.6,592.0 259.3,592.3 260.1,592.6 260.8,592.8 261.6,593.1 262.3,593.3 263.1,593.5 263.8,593.7 264.6,593.9 265.3,594.1 266.1,594.3 266.8,594.5 267.6,594.7 268.3,594.8 269.1,595.0 269.8,595.1 270.6,595.3 271.3,595.4 272.1,595.6 274.1,595.9 276.1,596.2 278.1,596.5 280.1,596.8 282.1,597.0 284.1,597.3 286.1,597.5 288.1,597.7 290.1,597.8 292.1,598.0 294.1,598.2 296.1,598.3 298.1,598.4 300.1,598.6 302.1,598.7 304.1,598.8 306.1,598.9 308.1,599.0 310.1,599.1 312.1,599.1 314.1,599.2 316.1,599.3 318.1,599.4 320.1,599.4 322.1,599.5 324.1,599.6 326.1,599.6 328.1,599.7 330.1,599.7 332.1,599.8 334.1,599.8 336.1,599.9 338.1,599.9 340.1,599.9 342.1,600.0 344.1,600.0 346.1,600.1 348.1,600.1 350.1,600.1 352.1,600.2 354.1,600.2 356.1,600.2 358.1,600.2 360.1,600.3 362.1,600.3 364.1,600.3 366.1,600.3 368.1,600.4 370.1,600.4 372.1,600.4 374.1,600.4 376.1,600.4 378.1,600.5 380.1,600.5 382.1,600.5 384.1,600.5 386.1,600.5 388.1,600.5 393.1,600.6 398.1,600.6 403.1,600.6 408.1,600.7 413.1,600.7 418.1,600.7 423.1,600.7 428.1,600.8 433.1,600.8 438.1,600.8 443.1,600.8 448.1,600.8 453.1,600.8 458.1,600.9 463.1,600.9 468.1,600.9 473.1,600.9 478.1,600.9 483.1,600.9 488.1,600.9 493.1,600.9 498.1,601.0 503.1,601.0 508.1,601.0 513.0,601.0 518.0,601.0 523.0,601.0 528.0,601.0 533.0,601.0 538.0,601.0 543.0,601.0 548.0,601.0 553.0,601.0 558.0,601.0 563.0,601.0 568.0,601.0 573.0,601.0 578.0,601.0 583.0,601.1 588.0,601.1 593.0,601.1 598.0,601.1 603.0,601.1 608.0,601.1 613.0,601.1 618.0,601.1 623.0,601.1 628.0,601.1 633.0,601.1 638.0,601.1 643.0,601.1 645.5,601.1" fill="none" stroke="#48d848" stroke-width="1.2" stroke-linejoin="round" clip-path="url(#clipB)"/>
<path d="M77.3,601.2 L77.3,601.2 82.3,601.2 87.3,601.2 92.3,601.2 97.3,601.2 102.3,601.2 107.3,601.2 112.3,601.2 117.3,601.2 122.3,601.2 127.3,601.2 132.3,601.2 137.3,601.2 142.3,601.2 147.3,601.2 152.3,601.2 157.3,601.2 162.3,601.2 164.3,601.2 166.3,601.2 168.3,601.1 170.3,601.1 172.3,601.1 174.3,601.1 176.3,601.1 178.3,601.1 180.3,601.1 182.3,601.1 184.3,601.1 186.3,601.1 188.3,601.1 190.3,601.1 192.3,601.1 194.3,601.1 196.3,601.1 198.3,601.1 200.3,601.0 202.3,601.0 204.3,601.0 206.3,601.0 208.3,601.0 210.3,600.9 212.3,600.9 214.3,600.9 216.3,600.8 217.1,600.8 217.8,600.8 218.6,600.8 219.3,600.7 220.1,600.7 220.8,600.7 221.6,600.7 222.3,600.6 223.1,600.6 223.8,600.5 224.6,600.5 225.3,600.4 226.1,600.4 226.8,600.3 227.6,600.3 228.3,600.2 229.1,600.1 229.8,600.0 230.6,599.9 231.3,599.8 232.1,599.6 232.8,599.4 233.6,599.3 234.3,599.1 235.1,598.8 235.8,598.6 236.6,598.3 237.3,597.9 238.1,597.6 238.8,597.2 239.6,596.8 240.3,596.3 241.1,596.0 241.8,595.6 242.6,595.4 243.3,595.2 244.1,595.2 244.8,595.3 245.6,595.6 246.3,595.9 247.1,596.3 247.8,596.7 248.6,597.1 249.3,597.5 250.1,597.9 250.8,598.2 251.6,598.5 252.3,598.8 253.1,599.0 253.8,599.3 254.6,599.4 255.3,599.6 256.1,599.7 256.8,599.9 257.6,600.0 258.3,600.1 259.1,600.2 259.8,600.2 260.6,600.3 261.3,600.4 262.1,600.4 262.8,600.5 263.6,600.5 264.3,600.6 265.1,600.6 265.8,600.7 266.6,600.7 267.3,600.7 268.1,600.7 268.8,600.8 269.6,600.8 270.3,600.8 271.1,600.8 271.8,600.8 273.8,600.9 275.8,600.9 277.8,601.0 279.8,601.0 281.8,601.0 283.8,601.0 285.8,601.0 287.8,601.1 289.8,601.1 291.8,601.1 293.8,601.1 295.8,601.1 297.8,601.1 299.8,601.1 301.8,601.1 303.8,601.1 305.8,601.1 307.8,601.1 309.8,601.1 311.8,601.1 313.8,601.1 315.8,601.1 317.8,601.1 319.8,601.1 321.8,601.2 323.8,601.2 325.8,601.2 327.8,601.2 332.8,601.2 337.8,601.2 342.8,601.2 347.8,601.2 352.8,601.2 357.8,601.2 362.8,601.2 367.8,601.2 372.8,601.2 377.8,601.2 382.8,601.2 387.8,601.2 392.8,601.2 397.8,601.2 402.8,601.2 407.8,601.2 412.8,601.2 417.8,601.2 422.8,601.2 427.8,601.2 432.8,601.2 437.8,601.2 442.8,601.2 447.8,601.2 452.8,601.2 457.8,601.2 462.8,601.2 467.8,601.2 472.8,601.2 477.8,601.2 482.8,601.2 487.8,601.2 492.8,601.2 497.8,601.2 502.8,601.2 507.8,601.2 512.8,601.2 517.8,601.2 522.8,601.2 527.8,601.2 532.8,601.2 537.8,601.2 542.8,601.2 547.8,601.2 552.8,601.2 557.8,601.2 562.8,601.2 567.8,601.2 572.8,601.2 577.8,601.2 582.8,601.2 587.8,601.2 592.8,601.2 597.8,601.2 602.8,601.2 607.8,601.2 612.8,601.2 617.8,601.2 622.8,601.2 627.8,601.2 632.8,601.2 637.8,601.2 642.8,601.2 645.5,601.2 L645.5,601.2 Z" fill="rgba(88,240,92,0.58)"/>
<polyline points="77.3,601.2 82.3,601.2 87.3,601.2 92.3,601.2 97.3,601.2 102.3,601.2 107.3,601.2 112.3,601.2 117.3,601.2 122.3,601.2 127.3,601.2 132.3,601.2 137.3,601.2 142.3,601.2 147.3,601.2 152.3,601.2 157.3,601.2 162.3,601.2 164.3,601.2 166.3,601.2 168.3,601.1 170.3,601.1 172.3,601.1 174.3,601.1 176.3,601.1 178.3,601.1 180.3,601.1 182.3,601.1 184.3,601.1 186.3,601.1 188.3,601.1 190.3,601.1 192.3,601.1 194.3,601.1 196.3,601.1 198.3,601.1 200.3,601.0 202.3,601.0 204.3,601.0 206.3,601.0 208.3,601.0 210.3,600.9 212.3,600.9 214.3,600.9 216.3,600.8 217.1,600.8 217.8,600.8 218.6,600.8 219.3,600.7 220.1,600.7 220.8,600.7 221.6,600.7 222.3,600.6 223.1,600.6 223.8,600.5 224.6,600.5 225.3,600.4 226.1,600.4 226.8,600.3 227.6,600.3 228.3,600.2 229.1,600.1 229.8,600.0 230.6,599.9 231.3,599.8 232.1,599.6 232.8,599.4 233.6,599.3 234.3,599.1 235.1,598.8 235.8,598.6 236.6,598.3 237.3,597.9 238.1,597.6 238.8,597.2 239.6,596.8 240.3,596.3 241.1,596.0 241.8,595.6 242.6,595.4 243.3,595.2 244.1,595.2 244.8,595.3 245.6,595.6 246.3,595.9 247.1,596.3 247.8,596.7 248.6,597.1 249.3,597.5 250.1,597.9 250.8,598.2 251.6,598.5 252.3,598.8 253.1,599.0 253.8,599.3 254.6,599.4 255.3,599.6 256.1,599.7 256.8,599.9 257.6,600.0 258.3,600.1 259.1,600.2 259.8,600.2 260.6,600.3 261.3,600.4 262.1,600.4 262.8,600.5 263.6,600.5 264.3,600.6 265.1,600.6 265.8,600.7 266.6,600.7 267.3,600.7 268.1,600.7 268.8,600.8 269.6,600.8 270.3,600.8 271.1,600.8 271.8,600.8 273.8,600.9 275.8,600.9 277.8,601.0 279.8,601.0 281.8,601.0 283.8,601.0 285.8,601.0 287.8,601.1 289.8,601.1 291.8,601.1 293.8,601.1 295.8,601.1 297.8,601.1 299.8,601.1 301.8,601.1 303.8,601.1 305.8,601.1 307.8,601.1 309.8,601.1 311.8,601.1 313.8,601.1 315.8,601.1 317.8,601.1 319.8,601.1 321.8,601.2 323.8,601.2 325.8,601.2 327.8,601.2 332.8,601.2 337.8,601.2 342.8,601.2 347.8,601.2 352.8,601.2 357.8,601.2 362.8,601.2 367.8,601.2 372.8,601.2 377.8,601.2 382.8,601.2 387.8,601.2 392.8,601.2 397.8,601.2 402.8,601.2 407.8,601.2 412.8,601.2 417.8,601.2 422.8,601.2 427.8,601.2 432.8,601.2 437.8,601.2 442.8,601.2 447.8,601.2 452.8,601.2 457.8,601.2 462.8,601.2 467.8,601.2 472.8,601.2 477.8,601.2 482.8,601.2 487.8,601.2 492.8,601.2 497.8,601.2 502.8,601.2 507.8,601.2 512.8,601.2 517.8,601.2 522.8,601.2 527.8,601.2 532.8,601.2 537.8,601.2 542.8,601.2 547.8,601.2 552.8,601.2 557.8,601.2 562.8,601.2 567.8,601.2 572.8,601.2 577.8,601.2 582.8,601.2 587.8,601.2 592.8,601.2 597.8,601.2 602.8,601.2 607.8,601.2 612.8,601.2 617.8,601.2 622.8,601.2 627.8,601.2 632.8,601.2 637.8,601.2 642.8,601.2 645.5,601.2" fill="none" stroke="#48d848" stroke-width="1.2" stroke-linejoin="round" clip-path="url(#clipB)"/>
<path d="M77.3,601.2 L77.3,601.2 82.3,601.2 87.3,601.2 92.3,601.2 97.3,601.1 102.3,601.1 107.3,601.1 112.3,601.1 117.3,601.1 122.3,601.1 127.3,601.1 132.3,601.1 137.3,601.1 142.3,601.1 147.3,601.1 152.3,601.1 157.3,601.1 162.3,601.1 164.3,601.1 166.3,601.1 168.3,601.1 170.3,601.1 172.3,601.0 174.3,601.0 176.3,601.0 178.3,601.0 180.3,601.0 182.3,601.0 184.3,601.0 186.3,601.0 188.3,601.0 190.3,601.0 192.3,601.0 194.3,601.0 196.3,600.9 198.3,600.9 200.3,600.9 202.3,600.9 204.3,600.9 206.3,600.9 208.3,600.8 210.3,600.8 212.3,600.8 214.3,600.8 216.3,600.7 218.3,600.7 220.3,600.7 222.3,600.6 224.3,600.6 226.3,600.5 228.3,600.5 230.3,600.4 232.3,600.3 234.3,600.2 236.3,600.1 237.1,600.1 237.8,600.0 238.6,600.0 239.3,599.9 240.1,599.9 240.8,599.8 241.6,599.8 242.3,599.7 243.1,599.6 243.8,599.6 244.6,599.5 245.3,599.4 246.1,599.3 246.8,599.2 247.6,599.1 248.3,599.0 249.1,598.9 249.8,598.7 250.6,598.6 251.3,598.4 252.1,598.2 252.8,598.1 253.6,597.8 254.3,597.6 255.1,597.3 255.8,597.1 256.6,596.7 257.3,596.4 258.1,596.0 258.8,595.6 259.6,595.1 260.3,594.6 261.1,594.0 261.8,593.4 262.6,592.7 263.3,592.0 264.1,591.2 264.8,590.3 265.6,589.4 266.3,588.4 267.1,587.3 267.8,586.3 268.6,585.2 269.3,584.2 270.1,583.2 270.8,582.3 271.6,581.6 272.3,581.1 273.1,580.8 273.8,580.8 274.6,581.0 275.3,581.5 276.1,582.2 276.8,583.0 277.6,584.0 278.3,585.0 279.1,586.1 279.8,587.1 280.6,588.2 281.3,589.2 282.1,590.1 282.8,591.0 283.6,591.8 284.3,592.6 285.1,593.3 285.8,593.9 286.6,594.5 287.3,595.0 288.1,595.5 288.8,595.9 289.6,596.3 290.3,596.7 291.1,597.0 291.8,597.3 292.6,597.6 293.3,597.8 294.1,598.0 294.8,598.2 295.6,598.4 296.3,598.5 297.1,598.7 297.8,598.8 298.6,599.0 299.3,599.1 300.1,599.2 300.8,599.3 301.6,599.4 302.3,599.5 303.1,599.5 303.8,599.6 304.6,599.7 305.3,599.8 306.1,599.8 306.8,599.9 307.6,599.9 308.3,600.0 309.1,600.0 309.8,600.1 310.6,600.1 311.3,600.2 313.3,600.2 315.3,600.3 317.3,600.4 319.3,600.5 321.3,600.5 323.3,600.6 325.3,600.6 327.3,600.7 329.3,600.7 331.3,600.7 333.3,600.8 335.3,600.8 337.3,600.8 339.3,600.8 341.3,600.9 343.3,600.9 345.3,600.9 347.3,600.9 349.3,600.9 351.3,600.9 353.3,601.0 355.3,601.0 357.3,601.0 359.3,601.0 361.3,601.0 363.3,601.0 365.3,601.0 367.3,601.0 369.3,601.0 371.3,601.0 373.3,601.0 375.3,601.0 377.3,601.1 379.3,601.1 381.3,601.1 383.3,601.1 385.3,601.1 390.3,601.1 395.3,601.1 400.3,601.1 405.3,601.1 410.3,601.1 415.3,601.1 420.3,601.1 425.3,601.1 430.3,601.1 435.3,601.1 440.3,601.1 445.3,601.1 450.3,601.1 455.3,601.2 460.3,601.2 465.3,601.2 470.3,601.2 475.3,601.2 480.3,601.2 485.3,601.2 490.3,601.2 495.3,601.2 500.3,601.2 505.3,601.2 510.3,601.2 515.3,601.2 520.3,601.2 525.3,601.2 530.3,601.2 535.3,601.2 540.3,601.2 545.3,601.2 550.3,601.2 555.3,601.2 560.3,601.2 565.3,601.2 570.3,601.2 575.3,601.2 580.3,601.2 585.3,601.2 590.3,601.2 595.3,601.2 600.3,601.2 605.3,601.2 610.3,601.2 615.3,601.2 620.3,601.2 625.3,601.2 630.3,601.2 635.3,601.2 640.3,601.2 645.3,601.2 645.5,601.2 L645.5,601.2 Z" fill="rgba(88,240,92,0.58)"/>
<polyline points="77.3,601.2 82.3,601.2 87.3,601.2 92.3,601.2 97.3,601.1 102.3,601.1 107.3,601.1 112.3,601.1 117.3,601.1 122.3,601.1 127.3,601.1 132.3,601.1 137.3,601.1 142.3,601.1 147.3,601.1 152.3,601.1 157.3,601.1 162.3,601.1 164.3,601.1 166.3,601.1 168.3,601.1 170.3,601.1 172.3,601.0 174.3,601.0 176.3,601.0 178.3,601.0 180.3,601.0 182.3,601.0 184.3,601.0 186.3,601.0 188.3,601.0 190.3,601.0 192.3,601.0 194.3,601.0 196.3,600.9 198.3,600.9 200.3,600.9 202.3,600.9 204.3,600.9 206.3,600.9 208.3,600.8 210.3,600.8 212.3,600.8 214.3,600.8 216.3,600.7 218.3,600.7 220.3,600.7 222.3,600.6 224.3,600.6 226.3,600.5 228.3,600.5 230.3,600.4 232.3,600.3 234.3,600.2 236.3,600.1 237.1,600.1 237.8,600.0 238.6,600.0 239.3,599.9 240.1,599.9 240.8,599.8 241.6,599.8 242.3,599.7 243.1,599.6 243.8,599.6 244.6,599.5 245.3,599.4 246.1,599.3 246.8,599.2 247.6,599.1 248.3,599.0 249.1,598.9 249.8,598.7 250.6,598.6 251.3,598.4 252.1,598.2 252.8,598.1 253.6,597.8 254.3,597.6 255.1,597.3 255.8,597.1 256.6,596.7 257.3,596.4 258.1,596.0 258.8,595.6 259.6,595.1 260.3,594.6 261.1,594.0 261.8,593.4 262.6,592.7 263.3,592.0 264.1,591.2 264.8,590.3 265.6,589.4 266.3,588.4 267.1,587.3 267.8,586.3 268.6,585.2 269.3,584.2 270.1,583.2 270.8,582.3 271.6,581.6 272.3,581.1 273.1,580.8 273.8,580.8 274.6,581.0 275.3,581.5 276.1,582.2 276.8,583.0 277.6,584.0 278.3,585.0 279.1,586.1 279.8,587.1 280.6,588.2 281.3,589.2 282.1,590.1 282.8,591.0 283.6,591.8 284.3,592.6 285.1,593.3 285.8,593.9 286.6,594.5 287.3,595.0 288.1,595.5 288.8,595.9 289.6,596.3 290.3,596.7 291.1,597.0 291.8,597.3 292.6,597.6 293.3,597.8 294.1,598.0 294.8,598.2 295.6,598.4 296.3,598.5 297.1,598.7 297.8,598.8 298.6,599.0 299.3,599.1 300.1,599.2 300.8,599.3 301.6,599.4 302.3,599.5 303.1,599.5 303.8,599.6 304.6,599.7 305.3,599.8 306.1,599.8 306.8,599.9 307.6,599.9 308.3,600.0 309.1,600.0 309.8,600.1 310.6,600.1 311.3,600.2 313.3,600.2 315.3,600.3 317.3,600.4 319.3,600.5 321.3,600.5 323.3,600.6 325.3,600.6 327.3,600.7 329.3,600.7 331.3,600.7 333.3,600.8 335.3,600.8 337.3,600.8 339.3,600.8 341.3,600.9 343.3,600.9 345.3,600.9 347.3,600.9 349.3,600.9 351.3,600.9 353.3,601.0 355.3,601.0 357.3,601.0 359.3,601.0 361.3,601.0 363.3,601.0 365.3,601.0 367.3,601.0 369.3,601.0 371.3,601.0 373.3,601.0 375.3,601.0 377.3,601.1 379.3,601.1 381.3,601.1 383.3,601.1 385.3,601.1 390.3,601.1 395.3,601.1 400.3,601.1 405.3,601.1 410.3,601.1 415.3,601.1 420.3,601.1 425.3,601.1 430.3,601.1 435.3,601.1 440.3,601.1 445.3,601.1 450.3,601.1 455.3,601.2 460.3,601.2 465.3,601.2 470.3,601.2 475.3,601.2 480.3,601.2 485.3,601.2 490.3,601.2 495.3,601.2 500.3,601.2 505.3,601.2 510.3,601.2 515.3,601.2 520.3,601.2 525.3,601.2 530.3,601.2 535.3,601.2 540.3,601.2 545.3,601.2 550.3,601.2 555.3,601.2 560.3,601.2 565.3,601.2 570.3,601.2 575.3,601.2 580.3,601.2 585.3,601.2 590.3,601.2 595.3,601.2 600.3,601.2 605.3,601.2 610.3,601.2 615.3,601.2 620.3,601.2 625.3,601.2 630.3,601.2 635.3,601.2 640.3,601.2 645.3,601.2 645.5,601.2" fill="none" stroke="#48d848" stroke-width="1.2" stroke-linejoin="round" clip-path="url(#clipB)"/>
<path d="M77.3,601.2 L77.3,601.1 82.3,601.1 87.3,601.1 92.3,601.1 97.3,601.1 102.3,601.0 107.3,601.0 112.3,601.0 117.3,601.0 122.3,601.0 127.3,601.0 132.3,601.0 134.3,601.0 136.3,601.0 138.3,601.0 140.3,601.0 142.3,601.0 144.3,601.0 146.3,601.0 148.3,600.9 150.3,600.9 152.3,600.9 154.3,600.9 156.3,600.9 158.3,600.9 160.3,600.9 162.3,600.9 164.3,600.9 166.3,600.9 168.3,600.9 170.3,600.9 172.3,600.9 174.3,600.8 176.3,600.8 178.3,600.8 180.3,600.8 182.3,600.8 184.3,600.8 186.3,600.8 188.3,600.8 190.3,600.7 192.3,600.7 194.3,600.7 196.3,600.7 198.3,600.7 200.3,600.6 202.3,600.6 204.3,600.6 206.3,600.6 208.3,600.6 210.3,600.5 212.3,600.5 214.3,600.5 216.3,600.4 218.3,600.4 220.3,600.4 222.3,600.3 224.3,600.3 226.3,600.2 228.3,600.2 230.3,600.1 232.3,600.1 234.3,600.0 236.3,600.0 238.3,599.9 240.3,599.8 242.3,599.7 244.3,599.6 246.3,599.5 248.3,599.4 249.1,599.4 249.8,599.3 250.6,599.3 251.3,599.2 252.1,599.2 252.8,599.1 253.6,599.1 254.3,599.0 255.1,598.9 255.8,598.9 256.6,598.8 257.3,598.7 258.1,598.7 258.8,598.6 259.6,598.5 260.3,598.4 261.1,598.3 261.8,598.3 262.6,598.2 263.3,598.1 264.1,598.0 264.8,597.8 265.6,597.7 266.3,597.6 267.1,597.5 267.8,597.3 268.6,597.2 269.3,597.1 270.1,596.9 270.8,596.7 271.6,596.6 272.3,596.4 273.1,596.2 273.8,596.0 274.6,595.7 275.3,595.5 276.1,595.2 276.8,595.0 277.6,594.7 278.3,594.4 279.1,594.0 279.8,593.7 280.6,593.3 281.3,592.9 282.1,592.5 282.8,592.0 283.6,591.5 284.3,591.0 285.1,590.5 285.8,589.9 286.6,589.3 287.3,588.6 288.1,587.9 288.8,587.2 289.6,586.4 290.3,585.6 291.1,584.7 291.8,583.8 292.6,582.9 293.3,581.9 294.1,580.8 294.8,579.8 295.6,578.7 296.3,577.6 297.1,576.5 297.8,575.4 298.6,574.3 299.3,573.2 300.1,572.2 300.8,571.3 301.6,570.4 302.3,569.7 303.1,569.1 303.8,568.6 304.6,568.3 305.3,568.1 306.1,568.1 306.8,568.3 307.6,568.7 308.3,569.2 309.1,569.8 309.8,570.6 310.6,571.5 311.3,572.4 312.1,573.4 312.8,574.5 313.6,575.6 314.3,576.7 315.1,577.8 315.8,578.9 316.6,580.0 317.3,581.0 318.1,582.1 318.8,583.0 319.6,584.0 320.3,584.9 321.1,585.7 321.8,586.6 322.6,587.3 323.3,588.1 324.1,588.7 324.8,589.4 325.6,590.0 326.3,590.6 327.1,591.1 327.8,591.6 328.6,592.1 329.3,592.6 330.1,593.0 330.8,593.4 331.6,593.8 332.3,594.1 333.1,594.4 333.8,594.7 334.6,595.0 335.3,595.3 336.1,595.5 336.8,595.8 337.6,596.0 338.3,596.2 339.1,596.4 339.8,596.6 340.6,596.8 341.3,596.9 342.1,597.1 342.8,597.2 343.6,597.4 344.3,597.5 345.1,597.6 345.8,597.8 346.6,597.9 347.3,598.0 348.1,598.1 348.8,598.2 349.6,598.3 350.3,598.4 351.1,598.4 351.8,598.5 352.6,598.6 353.3,598.7 354.1,598.7 354.8,598.8 355.6,598.9 356.3,598.9 357.1,599.0 357.8,599.1 358.6,599.1 359.3,599.2 360.1,599.2 360.8,599.3 361.6,599.3 362.3,599.4 363.1,599.4 363.8,599.5 365.8,599.6 367.8,599.7 369.8,599.8 371.8,599.8 373.8,599.9 375.8,600.0 377.8,600.0 379.8,600.1 381.8,600.2 383.8,600.2 385.8,600.3 387.8,600.3 389.8,600.3 391.8,600.4 393.8,600.4 395.8,600.4 397.8,600.5 399.8,600.5 401.8,600.5 403.8,600.6 405.8,600.6 407.8,600.6 409.8,600.6 411.8,600.7 413.8,600.7 415.8,600.7 417.8,600.7 419.8,600.7 421.8,600.7 423.8,600.8 425.8,600.8 427.8,600.8 429.8,600.8 431.8,600.8 433.8,600.8 435.8,600.8 437.8,600.8 439.8,600.9 441.8,600.9 443.8,600.9 445.8,600.9 447.8,600.9 449.8,600.9 451.8,600.9 453.8,600.9 455.8,600.9 457.8,600.9 459.8,600.9 461.8,600.9 463.8,601.0 465.8,601.0 467.8,601.0 469.8,601.0 471.8,601.0 473.8,601.0 475.8,601.0 477.8,601.0 479.8,601.0 484.8,601.0 489.8,601.0 494.8,601.0 499.8,601.0 504.8,601.0 509.8,601.1 514.8,601.1 519.8,601.1 524.8,601.1 529.8,601.1 534.8,601.1 539.8,601.1 544.8,601.1 549.8,601.1 554.8,601.1 559.8,601.1 564.8,601.1 569.8,601.1 574.8,601.1 579.8,601.1 584.8,601.1 589.8,601.1 594.8,601.1 599.8,601.1 604.8,601.1 609.8,601.1 614.8,601.1 619.8,601.1 624.8,601.1 629.8,601.1 634.8,601.1 639.8,601.1 644.8,601.1 645.5,601.1 L645.5,601.2 Z" fill="rgba(88,240,92,0.58)"/>
<polyline points="77.3,601.1 82.3,601.1 87.3,601.1 92.3,601.1 97.3,601.1 102.3,601.0 107.3,601.0 112.3,601.0 117.3,601.0 122.3,601.0 127.3,601.0 132.3,601.0 134.3,601.0 136.3,601.0 138.3,601.0 140.3,601.0 142.3,601.0 144.3,601.0 146.3,601.0 148.3,600.9 150.3,600.9 152.3,600.9 154.3,600.9 156.3,600.9 158.3,600.9 160.3,600.9 162.3,600.9 164.3,600.9 166.3,600.9 168.3,600.9 170.3,600.9 172.3,600.9 174.3,600.8 176.3,600.8 178.3,600.8 180.3,600.8 182.3,600.8 184.3,600.8 186.3,600.8 188.3,600.8 190.3,600.7 192.3,600.7 194.3,600.7 196.3,600.7 198.3,600.7 200.3,600.6 202.3,600.6 204.3,600.6 206.3,600.6 208.3,600.6 210.3,600.5 212.3,600.5 214.3,600.5 216.3,600.4 218.3,600.4 220.3,600.4 222.3,600.3 224.3,600.3 226.3,600.2 228.3,600.2 230.3,600.1 232.3,600.1 234.3,600.0 236.3,600.0 238.3,599.9 240.3,599.8 242.3,599.7 244.3,599.6 246.3,599.5 248.3,599.4 249.1,599.4 249.8,599.3 250.6,599.3 251.3,599.2 252.1,599.2 252.8,599.1 253.6,599.1 254.3,599.0 255.1,598.9 255.8,598.9 256.6,598.8 257.3,598.7 258.1,598.7 258.8,598.6 259.6,598.5 260.3,598.4 261.1,598.3 261.8,598.3 262.6,598.2 263.3,598.1 264.1,598.0 264.8,597.8 265.6,597.7 266.3,597.6 267.1,597.5 267.8,597.3 268.6,597.2 269.3,597.1 270.1,596.9 270.8,596.7 271.6,596.6 272.3,596.4 273.1,596.2 273.8,596.0 274.6,595.7 275.3,595.5 276.1,595.2 276.8,595.0 277.6,594.7 278.3,594.4 279.1,594.0 279.8,593.7 280.6,593.3 281.3,592.9 282.1,592.5 282.8,592.0 283.6,591.5 284.3,591.0 285.1,590.5 285.8,589.9 286.6,589.3 287.3,588.6 288.1,587.9 288.8,587.2 289.6,586.4 290.3,585.6 291.1,584.7 291.8,583.8 292.6,582.9 293.3,581.9 294.1,580.8 294.8,579.8 295.6,578.7 296.3,577.6 297.1,576.5 297.8,575.4 298.6,574.3 299.3,573.2 300.1,572.2 300.8,571.3 301.6,570.4 302.3,569.7 303.1,569.1 303.8,568.6 304.6,568.3 305.3,568.1 306.1,568.1 306.8,568.3 307.6,568.7 308.3,569.2 309.1,569.8 309.8,570.6 310.6,571.5 311.3,572.4 312.1,573.4 312.8,574.5 313.6,575.6 314.3,576.7 315.1,577.8 315.8,578.9 316.6,580.0 317.3,581.0 318.1,582.1 318.8,583.0 319.6,584.0 320.3,584.9 321.1,585.7 321.8,586.6 322.6,587.3 323.3,588.1 324.1,588.7 324.8,589.4 325.6,590.0 326.3,590.6 327.1,591.1 327.8,591.6 328.6,592.1 329.3,592.6 330.1,593.0 330.8,593.4 331.6,593.8 332.3,594.1 333.1,594.4 333.8,594.7 334.6,595.0 335.3,595.3 336.1,595.5 336.8,595.8 337.6,596.0 338.3,596.2 339.1,596.4 339.8,596.6 340.6,596.8 341.3,596.9 342.1,597.1 342.8,597.2 343.6,597.4 344.3,597.5 345.1,597.6 345.8,597.8 346.6,597.9 347.3,598.0 348.1,598.1 348.8,598.2 349.6,598.3 350.3,598.4 351.1,598.4 351.8,598.5 352.6,598.6 353.3,598.7 354.1,598.7 354.8,598.8 355.6,598.9 356.3,598.9 357.1,599.0 357.8,599.1 358.6,599.1 359.3,599.2 360.1,599.2 360.8,599.3 361.6,599.3 362.3,599.4 363.1,599.4 363.8,599.5 365.8,599.6 367.8,599.7 369.8,599.8 371.8,599.8 373.8,599.9 375.8,600.0 377.8,600.0 379.8,600.1 381.8,600.2 383.8,600.2 385.8,600.3 387.8,600.3 389.8,600.3 391.8,600.4 393.8,600.4 395.8,600.4 397.8,600.5 399.8,600.5 401.8,600.5 403.8,600.6 405.8,600.6 407.8,600.6 409.8,600.6 411.8,600.7 413.8,600.7 415.8,600.7 417.8,600.7 419.8,600.7 421.8,600.7 423.8,600.8 425.8,600.8 427.8,600.8 429.8,600.8 431.8,600.8 433.8,600.8 435.8,600.8 437.8,600.8 439.8,600.9 441.8,600.9 443.8,600.9 445.8,600.9 447.8,600.9 449.8,600.9 451.8,600.9 453.8,600.9 455.8,600.9 457.8,600.9 459.8,600.9 461.8,600.9 463.8,601.0 465.8,601.0 467.8,601.0 469.8,601.0 471.8,601.0 473.8,601.0 475.8,601.0 477.8,601.0 479.8,601.0 484.8,601.0 489.8,601.0 494.8,601.0 499.8,601.0 504.8,601.0 509.8,601.1 514.8,601.1 519.8,601.1 524.8,601.1 529.8,601.1 534.8,601.1 539.8,601.1 544.8,601.1 549.8,601.1 554.8,601.1 559.8,601.1 564.8,601.1 569.8,601.1 574.8,601.1 579.8,601.1 584.8,601.1 589.8,601.1 594.8,601.1 599.8,601.1 604.8,601.1 609.8,601.1 614.8,601.1 619.8,601.1 624.8,601.1 629.8,601.1 634.8,601.1 639.8,601.1 644.8,601.1 645.5,601.1" fill="none" stroke="#48d848" stroke-width="1.2" stroke-linejoin="round" clip-path="url(#clipB)"/>
<path d="M77.3,601.2 L77.3,601.2 82.3,601.2 87.3,601.2 92.3,601.2 97.3,601.2 102.3,601.2 107.3,601.2 112.3,601.2 117.3,601.2 122.3,601.2 127.3,601.2 132.3,601.1 137.3,601.1 142.3,601.1 147.3,601.1 152.3,601.0 157.3,601.0 159.3,601.0 161.3,601.0 163.3,601.0 165.3,601.0 167.3,600.9 169.3,600.9 171.3,600.9 173.3,600.9 175.3,600.9 177.3,600.9 179.3,600.8 181.3,600.8 183.3,600.8 185.3,600.8 187.3,600.8 189.3,600.7 191.3,600.7 193.3,600.7 195.3,600.7 197.3,600.6 199.3,600.6 201.3,600.6 203.3,600.5 205.3,600.5 207.3,600.5 209.3,600.4 211.3,600.4 213.3,600.4 215.3,600.3 217.3,600.3 219.3,600.2 221.3,600.2 223.3,600.1 225.3,600.1 227.3,600.0 229.3,599.9 231.3,599.9 233.3,599.8 235.3,599.7 237.3,599.6 239.3,599.5 241.3,599.4 243.3,599.3 245.3,599.2 247.3,599.1 249.3,599.0 251.3,598.8 253.3,598.7 255.3,598.5 257.3,598.4 259.3,598.2 261.3,598.0 263.3,597.7 265.3,597.5 267.3,597.2 268.1,597.1 268.8,597.0 269.6,596.8 270.3,596.7 271.1,596.6 271.8,596.5 272.6,596.3 273.3,596.2 274.1,596.0 274.8,595.9 275.6,595.7 276.3,595.5 277.1,595.3 277.8,595.1 278.6,594.9 279.3,594.7 280.1,594.5 280.8,594.3 281.6,594.1 282.3,593.8 283.1,593.5 283.8,593.3 284.6,593.0 285.3,592.7 286.1,592.3 286.8,592.0 287.6,591.6 288.3,591.2 289.1,590.8 289.8,590.4 290.6,589.9 291.3,589.4 292.1,588.9 292.8,588.3 293.6,587.8 294.3,587.1 295.1,586.4 295.8,585.7 296.6,584.9 297.3,584.1 298.1,583.2 298.8,582.3 299.6,581.3 300.3,580.2 301.1,579.1 301.8,577.8 302.6,576.5 303.3,575.1 304.1,573.6 304.8,572.1 305.6,570.4 306.3,568.6 307.1,566.7 307.8,564.7 308.6,562.5 309.3,560.3 310.1,558.0 310.8,555.5 311.6,553.0 312.3,550.3 313.1,547.6 313.8,544.8 314.6,542.0 315.3,539.2 316.1,536.4 316.8,533.7 317.6,531.1 318.3,528.6 319.1,526.4 319.8,524.5 320.6,522.8 321.3,521.6 322.1,520.7 322.8,520.3 323.6,520.4 324.3,520.9 325.1,521.8 325.8,523.1 326.6,524.8 327.3,526.8 328.1,529.1 328.8,531.6 329.6,534.2 330.3,537.0 331.1,539.8 331.8,542.6 332.6,545.4 333.3,548.1 334.1,550.9 334.8,553.5 335.6,556.0 336.3,558.4 337.1,560.8 337.8,563.0 338.6,565.1 339.3,567.1 340.1,568.9 340.8,570.7 341.6,572.4 342.3,573.9 343.1,575.4 343.8,576.8 344.6,578.1 345.3,579.3 346.1,580.4 346.8,581.5 347.6,582.5 348.3,583.4 349.1,584.3 349.8,585.1 350.6,585.9 351.3,586.6 352.1,587.3 352.8,587.9 353.6,588.5 354.3,589.0 355.1,589.5 355.8,590.0 356.6,590.5 357.3,590.9 358.1,591.3 358.8,591.7 359.6,592.1 360.3,592.4 361.1,592.7 361.8,593.0 362.6,593.3 363.3,593.6 364.1,593.9 364.8,594.1 365.6,594.3 366.3,594.6 367.1,594.8 367.8,595.0 368.6,595.2 369.3,595.4 370.1,595.6 370.8,595.7 371.6,595.9 372.3,596.0 373.1,596.2 373.8,596.3 374.6,596.5 375.3,596.6 376.1,596.7 376.8,596.9 377.6,597.0 378.3,597.1 379.1,597.2 379.8,597.3 381.8,597.6 383.8,597.8 385.8,598.1 387.8,598.3 389.8,598.4 391.8,598.6 393.8,598.8 395.8,598.9 397.8,599.0 399.8,599.2 401.8,599.3 403.8,599.4 405.8,599.5 407.8,599.6 409.8,599.7 411.8,599.7 413.8,599.8 415.8,599.9 417.8,600.0 419.8,600.0 421.8,600.1 423.8,600.1 425.8,600.2 427.8,600.2 429.8,600.3 431.8,600.3 433.8,600.4 435.8,600.4 437.8,600.5 439.8,600.5 441.8,600.5 443.8,600.6 445.8,600.6 447.8,600.6 449.8,600.6 451.8,600.7 453.8,600.7 455.8,600.7 457.8,600.7 459.8,600.8 461.8,600.8 463.8,600.8 465.8,600.8 467.8,600.8 469.8,600.9 471.8,600.9 473.8,600.9 475.8,600.9 477.8,600.9 479.8,600.9 481.8,601.0 483.8,601.0 485.8,601.0 487.8,601.0 489.8,601.0 491.8,601.0 496.8,601.1 501.8,601.1 506.8,601.1 511.8,601.1 516.8,601.1 521.8,601.2 526.8,601.2 531.8,601.2 536.8,601.2 541.8,601.2 546.8,601.2 551.8,601.2 556.8,601.2 561.8,601.2 566.8,601.2 571.8,601.2 576.8,601.2 581.8,601.2 586.8,601.2 591.8,601.2 596.8,601.2 601.8,601.2 606.8,601.2 611.8,601.2 616.8,601.2 621.8,601.2 626.8,601.2 631.8,601.2 636.8,601.2 641.8,601.2 645.5,601.2 L645.5,601.2 Z" fill="rgba(115,255,238,0.58)"/>
<polyline points="77.3,601.2 82.3,601.2 87.3,601.2 92.3,601.2 97.3,601.2 102.3,601.2 107.3,601.2 112.3,601.2 117.3,601.2 122.3,601.2 127.3,601.2 132.3,601.1 137.3,601.1 142.3,601.1 147.3,601.1 152.3,601.0 157.3,601.0 159.3,601.0 161.3,601.0 163.3,601.0 165.3,601.0 167.3,600.9 169.3,600.9 171.3,600.9 173.3,600.9 175.3,600.9 177.3,600.9 179.3,600.8 181.3,600.8 183.3,600.8 185.3,600.8 187.3,600.8 189.3,600.7 191.3,600.7 193.3,600.7 195.3,600.7 197.3,600.6 199.3,600.6 201.3,600.6 203.3,600.5 205.3,600.5 207.3,600.5 209.3,600.4 211.3,600.4 213.3,600.4 215.3,600.3 217.3,600.3 219.3,600.2 221.3,600.2 223.3,600.1 225.3,600.1 227.3,600.0 229.3,599.9 231.3,599.9 233.3,599.8 235.3,599.7 237.3,599.6 239.3,599.5 241.3,599.4 243.3,599.3 245.3,599.2 247.3,599.1 249.3,599.0 251.3,598.8 253.3,598.7 255.3,598.5 257.3,598.4 259.3,598.2 261.3,598.0 263.3,597.7 265.3,597.5 267.3,597.2 268.1,597.1 268.8,597.0 269.6,596.8 270.3,596.7 271.1,596.6 271.8,596.5 272.6,596.3 273.3,596.2 274.1,596.0 274.8,595.9 275.6,595.7 276.3,595.5 277.1,595.3 277.8,595.1 278.6,594.9 279.3,594.7 280.1,594.5 280.8,594.3 281.6,594.1 282.3,593.8 283.1,593.5 283.8,593.3 284.6,593.0 285.3,592.7 286.1,592.3 286.8,592.0 287.6,591.6 288.3,591.2 289.1,590.8 289.8,590.4 290.6,589.9 291.3,589.4 292.1,588.9 292.8,588.3 293.6,587.8 294.3,587.1 295.1,586.4 295.8,585.7 296.6,584.9 297.3,584.1 298.1,583.2 298.8,582.3 299.6,581.3 300.3,580.2 301.1,579.1 301.8,577.8 302.6,576.5 303.3,575.1 304.1,573.6 304.8,572.1 305.6,570.4 306.3,568.6 307.1,566.7 307.8,564.7 308.6,562.5 309.3,560.3 310.1,558.0 310.8,555.5 311.6,553.0 312.3,550.3 313.1,547.6 313.8,544.8 314.6,542.0 315.3,539.2 316.1,536.4 316.8,533.7 317.6,531.1 318.3,528.6 319.1,526.4 319.8,524.5 320.6,522.8 321.3,521.6 322.1,520.7 322.8,520.3 323.6,520.4 324.3,520.9 325.1,521.8 325.8,523.1 326.6,524.8 327.3,526.8 328.1,529.1 328.8,531.6 329.6,534.2 330.3,537.0 331.1,539.8 331.8,542.6 332.6,545.4 333.3,548.1 334.1,550.9 334.8,553.5 335.6,556.0 336.3,558.4 337.1,560.8 337.8,563.0 338.6,565.1 339.3,567.1 340.1,568.9 340.8,570.7 341.6,572.4 342.3,573.9 343.1,575.4 343.8,576.8 344.6,578.1 345.3,579.3 346.1,580.4 346.8,581.5 347.6,582.5 348.3,583.4 349.1,584.3 349.8,585.1 350.6,585.9 351.3,586.6 352.1,587.3 352.8,587.9 353.6,588.5 354.3,589.0 355.1,589.5 355.8,590.0 356.6,590.5 357.3,590.9 358.1,591.3 358.8,591.7 359.6,592.1 360.3,592.4 361.1,592.7 361.8,593.0 362.6,593.3 363.3,593.6 364.1,593.9 364.8,594.1 365.6,594.3 366.3,594.6 367.1,594.8 367.8,595.0 368.6,595.2 369.3,595.4 370.1,595.6 370.8,595.7 371.6,595.9 372.3,596.0 373.1,596.2 373.8,596.3 374.6,596.5 375.3,596.6 376.1,596.7 376.8,596.9 377.6,597.0 378.3,597.1 379.1,597.2 379.8,597.3 381.8,597.6 383.8,597.8 385.8,598.1 387.8,598.3 389.8,598.4 391.8,598.6 393.8,598.8 395.8,598.9 397.8,599.0 399.8,599.2 401.8,599.3 403.8,599.4 405.8,599.5 407.8,599.6 409.8,599.7 411.8,599.7 413.8,599.8 415.8,599.9 417.8,600.0 419.8,600.0 421.8,600.1 423.8,600.1 425.8,600.2 427.8,600.2 429.8,600.3 431.8,600.3 433.8,600.4 435.8,600.4 437.8,600.5 439.8,600.5 441.8,600.5 443.8,600.6 445.8,600.6 447.8,600.6 449.8,600.6 451.8,600.7 453.8,600.7 455.8,600.7 457.8,600.7 459.8,600.8 461.8,600.8 463.8,600.8 465.8,600.8 467.8,600.8 469.8,600.9 471.8,600.9 473.8,600.9 475.8,600.9 477.8,600.9 479.8,600.9 481.8,601.0 483.8,601.0 485.8,601.0 487.8,601.0 489.8,601.0 491.8,601.0 496.8,601.1 501.8,601.1 506.8,601.1 511.8,601.1 516.8,601.1 521.8,601.2 526.8,601.2 531.8,601.2 536.8,601.2 541.8,601.2 546.8,601.2 551.8,601.2 556.8,601.2 561.8,601.2 566.8,601.2 571.8,601.2 576.8,601.2 581.8,601.2 586.8,601.2 591.8,601.2 596.8,601.2 601.8,601.2 606.8,601.2 611.8,601.2 616.8,601.2 621.8,601.2 626.8,601.2 631.8,601.2 636.8,601.2 641.8,601.2 645.5,601.2" fill="none" stroke="#7ff4ff" stroke-width="1.2" stroke-linejoin="round" clip-path="url(#clipB)"/>
<path d="M77.3,601.2 L77.3,601.2 82.3,601.2 87.3,601.2 92.3,601.2 97.3,601.2 102.3,601.2 107.3,601.2 112.3,601.2 117.3,601.2 122.3,601.2 127.3,601.2 132.3,601.2 137.3,601.2 142.3,601.2 147.3,601.2 152.3,601.2 157.3,601.2 162.3,601.2 167.3,601.2 172.3,601.2 177.3,601.2 182.3,601.2 187.3,601.2 192.3,601.2 197.3,601.2 202.3,601.2 207.3,601.2 212.3,601.2 217.3,601.2 222.3,601.2 227.3,601.2 232.3,601.2 237.3,601.2 242.3,601.2 247.3,601.2 252.3,601.2 257.3,601.1 262.3,601.1 267.3,601.1 272.3,601.0 274.3,601.0 276.3,601.0 278.3,600.9 280.3,600.9 282.3,600.9 284.3,600.9 286.3,600.8 288.3,600.8 290.3,600.7 292.3,600.7 294.3,600.6 296.3,600.6 298.3,600.5 300.3,600.5 302.3,600.4 304.3,600.3 306.3,600.2 308.3,600.1 310.3,600.0 312.3,599.8 314.3,599.7 316.3,599.5 318.3,599.3 320.3,599.0 322.3,598.7 324.3,598.4 326.3,597.9 327.1,597.7 327.8,597.5 328.6,597.3 329.3,597.1 330.1,596.8 330.8,596.5 331.6,596.2 332.3,595.9 333.1,595.5 333.8,595.1 334.6,594.7 335.3,594.2 336.1,593.6 336.8,593.0 337.6,592.3 338.3,591.6 339.1,590.7 339.8,589.8 340.6,588.7 341.3,587.5 342.1,586.1 342.8,584.5 343.6,582.8 344.3,580.8 345.1,578.5 345.8,575.9 346.6,573.1 347.3,569.9 348.1,566.4 348.8,562.6 349.6,558.7 350.3,554.8 351.1,551.2 351.8,548.2 352.6,546.1 353.3,545.1 354.1,545.4 354.8,547.0 355.6,549.5 356.3,552.9 357.1,556.6 357.8,560.5 358.6,564.4 359.3,568.0 360.1,571.4 360.8,574.4 361.6,577.2 362.3,579.6 363.1,581.7 363.8,583.6 364.6,585.3 365.3,586.8 366.1,588.1 366.8,589.2 367.6,590.2 368.3,591.1 369.1,591.9 369.8,592.7 370.6,593.3 371.3,593.9 372.1,594.4 372.8,594.9 373.6,595.3 374.3,595.7 375.1,596.0 375.8,596.4 376.6,596.7 377.3,596.9 378.1,597.2 378.8,597.4 379.6,597.6 380.3,597.8 381.1,598.0 381.8,598.2 383.8,598.6 385.8,598.9 387.8,599.2 389.8,599.4 391.8,599.6 393.8,599.8 395.8,599.9 397.8,600.1 399.8,600.2 401.8,600.3 403.8,600.4 405.8,600.4 407.8,600.5 409.8,600.6 411.8,600.6 413.8,600.7 415.8,600.7 417.8,600.8 419.8,600.8 421.8,600.8 423.8,600.9 425.8,600.9 427.8,600.9 429.8,601.0 431.8,601.0 433.8,601.0 435.8,601.0 437.8,601.0 442.8,601.1 447.8,601.1 452.8,601.1 457.8,601.2 462.8,601.2 467.8,601.2 472.8,601.2 477.8,601.2 482.8,601.2 487.8,601.2 492.8,601.2 497.8,601.2 502.8,601.2 507.8,601.2 512.8,601.2 517.8,601.2 522.8,601.2 527.8,601.2 532.8,601.2 537.8,601.2 542.8,601.2 547.8,601.2 552.8,601.2 557.8,601.2 562.8,601.2 567.8,601.2 572.8,601.2 577.8,601.2 582.8,601.2 587.8,601.2 592.8,601.2 597.8,601.2 602.8,601.2 607.8,601.2 612.8,601.2 617.8,601.2 622.8,601.2 627.8,601.2 632.8,601.2 637.8,601.2 642.8,601.2 645.5,601.2 L645.5,601.2 Z" fill="rgba(190,255,46,0.57)"/>
<polyline points="77.3,601.2 82.3,601.2 87.3,601.2 92.3,601.2 97.3,601.2 102.3,601.2 107.3,601.2 112.3,601.2 117.3,601.2 122.3,601.2 127.3,601.2 132.3,601.2 137.3,601.2 142.3,601.2 147.3,601.2 152.3,601.2 157.3,601.2 162.3,601.2 167.3,601.2 172.3,601.2 177.3,601.2 182.3,601.2 187.3,601.2 192.3,601.2 197.3,601.2 202.3,601.2 207.3,601.2 212.3,601.2 217.3,601.2 222.3,601.2 227.3,601.2 232.3,601.2 237.3,601.2 242.3,601.2 247.3,601.2 252.3,601.2 257.3,601.1 262.3,601.1 267.3,601.1 272.3,601.0 274.3,601.0 276.3,601.0 278.3,600.9 280.3,600.9 282.3,600.9 284.3,600.9 286.3,600.8 288.3,600.8 290.3,600.7 292.3,600.7 294.3,600.6 296.3,600.6 298.3,600.5 300.3,600.5 302.3,600.4 304.3,600.3 306.3,600.2 308.3,600.1 310.3,600.0 312.3,599.8 314.3,599.7 316.3,599.5 318.3,599.3 320.3,599.0 322.3,598.7 324.3,598.4 326.3,597.9 327.1,597.7 327.8,597.5 328.6,597.3 329.3,597.1 330.1,596.8 330.8,596.5 331.6,596.2 332.3,595.9 333.1,595.5 333.8,595.1 334.6,594.7 335.3,594.2 336.1,593.6 336.8,593.0 337.6,592.3 338.3,591.6 339.1,590.7 339.8,589.8 340.6,588.7 341.3,587.5 342.1,586.1 342.8,584.5 343.6,582.8 344.3,580.8 345.1,578.5 345.8,575.9 346.6,573.1 347.3,569.9 348.1,566.4 348.8,562.6 349.6,558.7 350.3,554.8 351.1,551.2 351.8,548.2 352.6,546.1 353.3,545.1 354.1,545.4 354.8,547.0 355.6,549.5 356.3,552.9 357.1,556.6 357.8,560.5 358.6,564.4 359.3,568.0 360.1,571.4 360.8,574.4 361.6,577.2 362.3,579.6 363.1,581.7 363.8,583.6 364.6,585.3 365.3,586.8 366.1,588.1 366.8,589.2 367.6,590.2 368.3,591.1 369.1,591.9 369.8,592.7 370.6,593.3 371.3,593.9 372.1,594.4 372.8,594.9 373.6,595.3 374.3,595.7 375.1,596.0 375.8,596.4 376.6,596.7 377.3,596.9 378.1,597.2 378.8,597.4 379.6,597.6 380.3,597.8 381.1,598.0 381.8,598.2 383.8,598.6 385.8,598.9 387.8,599.2 389.8,599.4 391.8,599.6 393.8,599.8 395.8,599.9 397.8,600.1 399.8,600.2 401.8,600.3 403.8,600.4 405.8,600.4 407.8,600.5 409.8,600.6 411.8,600.6 413.8,600.7 415.8,600.7 417.8,600.8 419.8,600.8 421.8,600.8 423.8,600.9 425.8,600.9 427.8,600.9 429.8,601.0 431.8,601.0 433.8,601.0 435.8,601.0 437.8,601.0 442.8,601.1 447.8,601.1 452.8,601.1 457.8,601.2 462.8,601.2 467.8,601.2 472.8,601.2 477.8,601.2 482.8,601.2 487.8,601.2 492.8,601.2 497.8,601.2 502.8,601.2 507.8,601.2 512.8,601.2 517.8,601.2 522.8,601.2 527.8,601.2 532.8,601.2 537.8,601.2 542.8,601.2 547.8,601.2 552.8,601.2 557.8,601.2 562.8,601.2 567.8,601.2 572.8,601.2 577.8,601.2 582.8,601.2 587.8,601.2 592.8,601.2 597.8,601.2 602.8,601.2 607.8,601.2 612.8,601.2 617.8,601.2 622.8,601.2 627.8,601.2 632.8,601.2 637.8,601.2 642.8,601.2 645.5,601.2" fill="none" stroke="#b4f83c" stroke-width="1.2" stroke-linejoin="round" clip-path="url(#clipB)"/>
<path d="M77.3,601.2 L77.3,601.2 82.3,601.2 87.3,601.2 92.3,601.2 97.3,601.2 102.3,601.2 107.3,601.2 112.3,601.2 117.3,601.2 122.3,601.2 127.3,601.2 132.3,601.2 137.3,601.2 142.3,601.2 147.3,601.2 152.3,601.2 157.3,601.2 162.3,601.2 167.3,601.2 172.3,601.2 177.3,601.2 182.3,601.1 187.3,601.1 192.3,601.1 197.3,601.0 202.3,601.0 207.3,601.0 212.3,600.9 217.3,600.9 219.3,600.8 221.3,600.8 223.3,600.8 225.3,600.8 227.3,600.7 229.3,600.7 231.3,600.7 233.3,600.7 235.3,600.6 237.3,600.6 239.3,600.6 241.3,600.5 243.3,600.5 245.3,600.5 247.3,600.4 249.3,600.4 251.3,600.3 253.3,600.3 255.3,600.3 257.3,600.2 259.3,600.2 261.3,600.1 263.3,600.0 265.3,600.0 267.3,599.9 269.3,599.9 271.3,599.8 273.3,599.7 275.3,599.6 277.3,599.6 279.3,599.5 281.3,599.4 283.3,599.3 285.3,599.2 287.3,599.1 289.3,598.9 291.3,598.8 293.3,598.7 295.3,598.5 297.3,598.4 299.3,598.2 301.3,598.1 303.3,597.9 305.3,597.7 307.3,597.4 309.3,597.2 311.3,596.9 313.3,596.7 315.3,596.4 317.3,596.0 319.3,595.7 321.3,595.3 323.3,594.8 325.3,594.3 326.1,594.1 326.8,593.9 327.6,593.7 328.3,593.5 329.1,593.3 329.8,593.0 330.6,592.8 331.3,592.5 332.1,592.3 332.8,592.0 333.6,591.7 334.3,591.4 335.1,591.1 335.8,590.7 336.6,590.4 337.3,590.0 338.1,589.6 338.8,589.2 339.6,588.8 340.3,588.3 341.1,587.9 341.8,587.4 342.6,586.8 343.3,586.3 344.1,585.7 344.8,585.1 345.6,584.4 346.3,583.7 347.1,582.9 347.8,582.2 348.6,581.3 349.3,580.4 350.1,579.5 350.8,578.4 351.6,577.4 352.3,576.2 353.1,574.9 353.8,573.6 354.6,572.2 355.3,570.7 356.1,569.0 356.8,567.3 357.6,565.4 358.3,563.4 359.1,561.3 359.8,559.0 360.6,556.6 361.3,554.0 362.1,551.2 362.8,548.3 363.6,545.2 364.3,541.9 365.1,538.4 365.8,534.7 366.6,530.8 367.3,526.7 368.1,522.4 368.8,518.0 369.6,513.4 370.3,508.7 371.1,503.9 371.8,499.1 372.6,494.2 373.3,489.5 374.1,484.9 374.8,480.6 375.6,476.6 376.3,473.0 377.1,470.0 377.8,467.5 378.6,465.8 379.3,464.8 380.1,464.5 380.8,465.1 381.6,466.4 382.3,468.4 383.1,471.1 383.8,474.4 384.6,478.1 385.3,482.3 386.1,486.7 386.8,491.4 387.6,496.2 388.3,501.0 389.1,505.8 389.8,510.6 390.6,515.2 391.3,519.8 392.1,524.1 392.8,528.3 393.6,532.3 394.3,536.2 395.1,539.8 395.8,543.2 396.6,546.4 397.3,549.5 398.1,552.4 398.8,555.1 399.6,557.6 400.3,560.0 401.1,562.2 401.8,564.2 402.6,566.2 403.3,568.0 404.1,569.7 404.8,571.3 405.6,572.8 406.3,574.2 407.1,575.4 407.8,576.7 408.6,577.8 409.3,578.9 410.1,579.9 410.8,580.8 411.6,581.7 412.3,582.5 413.1,583.3 413.8,584.0 414.6,584.7 415.3,585.3 416.1,585.9 416.8,586.5 417.6,587.0 418.3,587.6 419.1,588.0 419.8,588.5 420.6,589.0 421.3,589.4 422.1,589.8 422.8,590.1 423.6,590.5 424.3,590.9 425.1,591.2 425.8,591.5 426.6,591.8 427.3,592.1 428.1,592.4 428.8,592.6 429.6,592.9 430.3,593.1 431.1,593.4 431.8,593.6 432.6,593.8 433.3,594.0 434.1,594.2 434.8,594.4 435.6,594.6 437.6,595.1 439.6,595.5 441.6,595.9 443.6,596.2 445.6,596.5 447.6,596.8 449.6,597.1 451.6,597.3 453.6,597.6 455.6,597.8 457.6,598.0 459.6,598.1 461.6,598.3 463.6,598.5 465.6,598.6 467.6,598.8 469.6,598.9 471.6,599.0 473.6,599.1 475.6,599.2 477.6,599.3 479.6,599.4 481.6,599.5 483.6,599.6 485.6,599.7 487.6,599.8 489.6,599.8 491.6,599.9 493.6,600.0 495.6,600.0 497.6,600.1 499.6,600.1 501.6,600.2 503.6,600.2 505.6,600.3 507.6,600.3 509.6,600.4 511.6,600.4 513.5,600.4 515.5,600.5 517.5,600.5 519.5,600.6 521.5,600.6 523.5,600.6 525.5,600.6 527.5,600.7 529.5,600.7 531.5,600.7 533.5,600.8 535.5,600.8 537.5,600.8 539.5,600.8 541.5,600.9 543.5,600.9 545.5,600.9 550.5,600.9 555.5,601.0 560.5,601.0 565.5,601.1 570.5,601.1 575.5,601.1 580.5,601.2 585.5,601.2 590.5,601.2 595.5,601.2 600.5,601.2 605.5,601.2 610.5,601.2 615.5,601.2 620.5,601.2 625.5,601.2 630.5,601.2 635.5,601.2 640.5,601.2 645.5,601.2 L645.5,601.2 Z" fill="rgba(190,255,46,0.57)"/>
<polyline points="77.3,601.2 82.3,601.2 87.3,601.2 92.3,601.2 97.3,601.2 102.3,601.2 107.3,601.2 112.3,601.2 117.3,601.2 122.3,601.2 127.3,601.2 132.3,601.2 137.3,601.2 142.3,601.2 147.3,601.2 152.3,601.2 157.3,601.2 162.3,601.2 167.3,601.2 172.3,601.2 177.3,601.2 182.3,601.1 187.3,601.1 192.3,601.1 197.3,601.0 202.3,601.0 207.3,601.0 212.3,600.9 217.3,600.9 219.3,600.8 221.3,600.8 223.3,600.8 225.3,600.8 227.3,600.7 229.3,600.7 231.3,600.7 233.3,600.7 235.3,600.6 237.3,600.6 239.3,600.6 241.3,600.5 243.3,600.5 245.3,600.5 247.3,600.4 249.3,600.4 251.3,600.3 253.3,600.3 255.3,600.3 257.3,600.2 259.3,600.2 261.3,600.1 263.3,600.0 265.3,600.0 267.3,599.9 269.3,599.9 271.3,599.8 273.3,599.7 275.3,599.6 277.3,599.6 279.3,599.5 281.3,599.4 283.3,599.3 285.3,599.2 287.3,599.1 289.3,598.9 291.3,598.8 293.3,598.7 295.3,598.5 297.3,598.4 299.3,598.2 301.3,598.1 303.3,597.9 305.3,597.7 307.3,597.4 309.3,597.2 311.3,596.9 313.3,596.7 315.3,596.4 317.3,596.0 319.3,595.7 321.3,595.3 323.3,594.8 325.3,594.3 326.1,594.1 326.8,593.9 327.6,593.7 328.3,593.5 329.1,593.3 329.8,593.0 330.6,592.8 331.3,592.5 332.1,592.3 332.8,592.0 333.6,591.7 334.3,591.4 335.1,591.1 335.8,590.7 336.6,590.4 337.3,590.0 338.1,589.6 338.8,589.2 339.6,588.8 340.3,588.3 341.1,587.9 341.8,587.4 342.6,586.8 343.3,586.3 344.1,585.7 344.8,585.1 345.6,584.4 346.3,583.7 347.1,582.9 347.8,582.2 348.6,581.3 349.3,580.4 350.1,579.5 350.8,578.4 351.6,577.4 352.3,576.2 353.1,574.9 353.8,573.6 354.6,572.2 355.3,570.7 356.1,569.0 356.8,567.3 357.6,565.4 358.3,563.4 359.1,561.3 359.8,559.0 360.6,556.6 361.3,554.0 362.1,551.2 362.8,548.3 363.6,545.2 364.3,541.9 365.1,538.4 365.8,534.7 366.6,530.8 367.3,526.7 368.1,522.4 368.8,518.0 369.6,513.4 370.3,508.7 371.1,503.9 371.8,499.1 372.6,494.2 373.3,489.5 374.1,484.9 374.8,480.6 375.6,476.6 376.3,473.0 377.1,470.0 377.8,467.5 378.6,465.8 379.3,464.8 380.1,464.5 380.8,465.1 381.6,466.4 382.3,468.4 383.1,471.1 383.8,474.4 384.6,478.1 385.3,482.3 386.1,486.7 386.8,491.4 387.6,496.2 388.3,501.0 389.1,505.8 389.8,510.6 390.6,515.2 391.3,519.8 392.1,524.1 392.8,528.3 393.6,532.3 394.3,536.2 395.1,539.8 395.8,543.2 396.6,546.4 397.3,549.5 398.1,552.4 398.8,555.1 399.6,557.6 400.3,560.0 401.1,562.2 401.8,564.2 402.6,566.2 403.3,568.0 404.1,569.7 404.8,571.3 405.6,572.8 406.3,574.2 407.1,575.4 407.8,576.7 408.6,577.8 409.3,578.9 410.1,579.9 410.8,580.8 411.6,581.7 412.3,582.5 413.1,583.3 413.8,584.0 414.6,584.7 415.3,585.3 416.1,585.9 416.8,586.5 417.6,587.0 418.3,587.6 419.1,588.0 419.8,588.5 420.6,589.0 421.3,589.4 422.1,589.8 422.8,590.1 423.6,590.5 424.3,590.9 425.1,591.2 425.8,591.5 426.6,591.8 427.3,592.1 428.1,592.4 428.8,592.6 429.6,592.9 430.3,593.1 431.1,593.4 431.8,593.6 432.6,593.8 433.3,594.0 434.1,594.2 434.8,594.4 435.6,594.6 437.6,595.1 439.6,595.5 441.6,595.9 443.6,596.2 445.6,596.5 447.6,596.8 449.6,597.1 451.6,597.3 453.6,597.6 455.6,597.8 457.6,598.0 459.6,598.1 461.6,598.3 463.6,598.5 465.6,598.6 467.6,598.8 469.6,598.9 471.6,599.0 473.6,599.1 475.6,599.2 477.6,599.3 479.6,599.4 481.6,599.5 483.6,599.6 485.6,599.7 487.6,599.8 489.6,599.8 491.6,599.9 493.6,600.0 495.6,600.0 497.6,600.1 499.6,600.1 501.6,600.2 503.6,600.2 505.6,600.3 507.6,600.3 509.6,600.4 511.6,600.4 513.5,600.4 515.5,600.5 517.5,600.5 519.5,600.6 521.5,600.6 523.5,600.6 525.5,600.6 527.5,600.7 529.5,600.7 531.5,600.7 533.5,600.8 535.5,600.8 537.5,600.8 539.5,600.8 541.5,600.9 543.5,600.9 545.5,600.9 550.5,600.9 555.5,601.0 560.5,601.0 565.5,601.1 570.5,601.1 575.5,601.1 580.5,601.2 585.5,601.2 590.5,601.2 595.5,601.2 600.5,601.2 605.5,601.2 610.5,601.2 615.5,601.2 620.5,601.2 625.5,601.2 630.5,601.2 635.5,601.2 640.5,601.2 645.5,601.2" fill="none" stroke="#b4f83c" stroke-width="1.2" stroke-linejoin="round" clip-path="url(#clipB)"/>
<path d="M77.3,601.2 L77.3,601.2 82.3,601.2 87.3,601.2 92.3,601.2 97.3,601.2 102.3,601.2 107.3,601.2 112.3,601.2 117.3,601.2 122.3,601.2 127.3,601.2 132.3,601.2 137.3,601.2 142.3,601.2 147.3,601.2 152.3,601.2 157.3,601.2 162.3,601.2 167.3,601.2 172.3,601.2 177.3,601.2 182.3,601.2 187.3,601.2 192.3,601.2 197.3,601.2 202.3,601.2 207.3,601.2 212.3,601.2 217.3,601.2 222.3,601.2 227.3,601.2 232.3,601.2 237.3,601.1 242.3,601.1 247.3,601.1 252.3,601.1 257.3,601.0 262.3,601.0 267.3,601.0 269.3,601.0 271.3,601.0 273.3,600.9 275.3,600.9 277.3,600.9 279.3,600.9 281.3,600.9 283.3,600.9 285.3,600.8 287.3,600.8 289.3,600.8 291.3,600.8 293.3,600.7 295.3,600.7 297.3,600.7 299.3,600.7 301.3,600.6 303.3,600.6 305.3,600.6 307.3,600.6 309.3,600.5 311.3,600.5 313.3,600.4 315.3,600.4 317.3,600.4 319.3,600.3 321.3,600.3 323.3,600.2 325.3,600.2 327.3,600.1 329.3,600.1 331.3,600.0 333.3,599.9 335.3,599.9 337.3,599.8 339.3,599.7 341.3,599.6 343.3,599.6 345.3,599.5 347.3,599.4 349.3,599.3 351.3,599.1 353.3,599.0 355.3,598.9 357.3,598.7 359.3,598.6 361.3,598.4 363.3,598.2 365.3,598.0 367.3,597.8 369.3,597.5 371.3,597.2 373.3,596.9 374.1,596.8 374.8,596.7 375.6,596.6 376.3,596.4 377.1,596.3 377.8,596.1 378.6,596.0 379.3,595.8 380.1,595.6 380.8,595.5 381.6,595.3 382.3,595.1 383.1,594.9 383.8,594.7 384.6,594.5 385.3,594.2 386.1,594.0 386.8,593.7 387.6,593.5 388.3,593.2 389.1,592.9 389.8,592.6 390.6,592.2 391.3,591.9 392.1,591.5 392.8,591.1 393.6,590.7 394.3,590.3 395.1,589.8 395.8,589.3 396.6,588.8 397.3,588.2 398.1,587.6 398.8,587.0 399.6,586.3 400.3,585.6 401.1,584.8 401.8,584.0 402.6,583.1 403.3,582.1 404.1,581.1 404.8,580.0 405.6,578.8 406.3,577.6 407.1,576.2 407.8,574.8 408.6,573.3 409.3,571.6 410.1,569.9 410.8,568.0 411.6,566.0 412.3,564.0 413.1,561.7 413.8,559.4 414.6,556.9 415.3,554.3 416.1,551.6 416.8,548.8 417.6,545.9 418.3,542.9 419.1,539.9 419.8,536.9 420.6,533.8 421.3,530.8 422.1,527.9 422.8,525.2 423.6,522.7 424.3,520.4 425.1,518.5 425.8,517.0 426.6,516.0 427.3,515.4 428.1,515.3 428.8,515.7 429.6,516.6 430.3,518.0 431.1,519.8 431.8,521.9 432.6,524.3 433.3,527.0 434.1,529.8 434.8,532.8 435.6,535.8 436.3,538.9 437.1,541.9 437.8,544.9 438.6,547.9 439.3,550.7 440.1,553.5 440.8,556.1 441.6,558.6 442.3,561.0 443.1,563.2 443.8,565.4 444.6,567.4 445.3,569.3 446.1,571.0 446.8,572.7 447.6,574.3 448.3,575.8 449.1,577.1 449.8,578.4 450.6,579.6 451.3,580.7 452.1,581.8 452.8,582.8 453.6,583.7 454.3,584.5 455.1,585.3 455.8,586.1 456.6,586.8 457.3,587.4 458.1,588.0 458.8,588.6 459.6,589.2 460.3,589.7 461.1,590.1 461.8,590.6 462.6,591.0 463.3,591.4 464.1,591.8 464.8,592.1 465.6,592.5 466.3,592.8 467.1,593.1 467.8,593.4 468.6,593.6 469.3,593.9 470.1,594.1 470.8,594.4 471.6,594.6 472.3,594.8 473.1,595.0 473.8,595.2 474.6,595.4 475.3,595.6 476.1,595.8 476.8,595.9 477.6,596.1 478.3,596.2 479.1,596.4 479.8,596.5 480.6,596.6 481.3,596.8 482.1,596.9 482.8,597.0 484.8,597.3 486.8,597.6 488.8,597.8 490.8,598.0 492.8,598.2 494.8,598.4 496.8,598.6 498.8,598.8 500.8,598.9 502.8,599.0 504.8,599.2 506.8,599.3 508.8,599.4 510.8,599.5 512.8,599.6 514.8,599.7 516.8,599.7 518.8,599.8 520.8,599.9 522.8,600.0 524.8,600.0 526.8,600.1 528.8,600.1 530.8,600.2 532.8,600.2 534.8,600.3 536.8,600.3 538.8,600.4 540.8,600.4 542.8,600.5 544.8,600.5 546.8,600.5 548.8,600.6 550.8,600.6 552.8,600.6 554.8,600.7 556.8,600.7 558.8,600.7 560.8,600.7 562.8,600.8 564.8,600.8 566.8,600.8 568.8,600.8 570.8,600.8 572.8,600.9 574.8,600.9 576.8,600.9 578.8,600.9 580.8,600.9 582.8,600.9 584.8,601.0 586.8,601.0 588.8,601.0 590.8,601.0 592.8,601.0 597.8,601.0 602.8,601.1 607.8,601.1 612.8,601.1 617.8,601.1 622.8,601.2 627.8,601.2 632.8,601.2 637.8,601.2 642.8,601.2 645.5,601.2 L645.5,601.2 Z" fill="rgba(216,196,40,0.58)"/>
<polyline points="77.3,601.2 82.3,601.2 87.3,601.2 92.3,601.2 97.3,601.2 102.3,601.2 107.3,601.2 112.3,601.2 117.3,601.2 122.3,601.2 127.3,601.2 132.3,601.2 137.3,601.2 142.3,601.2 147.3,601.2 152.3,601.2 157.3,601.2 162.3,601.2 167.3,601.2 172.3,601.2 177.3,601.2 182.3,601.2 187.3,601.2 192.3,601.2 197.3,601.2 202.3,601.2 207.3,601.2 212.3,601.2 217.3,601.2 222.3,601.2 227.3,601.2 232.3,601.2 237.3,601.1 242.3,601.1 247.3,601.1 252.3,601.1 257.3,601.0 262.3,601.0 267.3,601.0 269.3,601.0 271.3,601.0 273.3,600.9 275.3,600.9 277.3,600.9 279.3,600.9 281.3,600.9 283.3,600.9 285.3,600.8 287.3,600.8 289.3,600.8 291.3,600.8 293.3,600.7 295.3,600.7 297.3,600.7 299.3,600.7 301.3,600.6 303.3,600.6 305.3,600.6 307.3,600.6 309.3,600.5 311.3,600.5 313.3,600.4 315.3,600.4 317.3,600.4 319.3,600.3 321.3,600.3 323.3,600.2 325.3,600.2 327.3,600.1 329.3,600.1 331.3,600.0 333.3,599.9 335.3,599.9 337.3,599.8 339.3,599.7 341.3,599.6 343.3,599.6 345.3,599.5 347.3,599.4 349.3,599.3 351.3,599.1 353.3,599.0 355.3,598.9 357.3,598.7 359.3,598.6 361.3,598.4 363.3,598.2 365.3,598.0 367.3,597.8 369.3,597.5 371.3,597.2 373.3,596.9 374.1,596.8 374.8,596.7 375.6,596.6 376.3,596.4 377.1,596.3 377.8,596.1 378.6,596.0 379.3,595.8 380.1,595.6 380.8,595.5 381.6,595.3 382.3,595.1 383.1,594.9 383.8,594.7 384.6,594.5 385.3,594.2 386.1,594.0 386.8,593.7 387.6,593.5 388.3,593.2 389.1,592.9 389.8,592.6 390.6,592.2 391.3,591.9 392.1,591.5 392.8,591.1 393.6,590.7 394.3,590.3 395.1,589.8 395.8,589.3 396.6,588.8 397.3,588.2 398.1,587.6 398.8,587.0 399.6,586.3 400.3,585.6 401.1,584.8 401.8,584.0 402.6,583.1 403.3,582.1 404.1,581.1 404.8,580.0 405.6,578.8 406.3,577.6 407.1,576.2 407.8,574.8 408.6,573.3 409.3,571.6 410.1,569.9 410.8,568.0 411.6,566.0 412.3,564.0 413.1,561.7 413.8,559.4 414.6,556.9 415.3,554.3 416.1,551.6 416.8,548.8 417.6,545.9 418.3,542.9 419.1,539.9 419.8,536.9 420.6,533.8 421.3,530.8 422.1,527.9 422.8,525.2 423.6,522.7 424.3,520.4 425.1,518.5 425.8,517.0 426.6,516.0 427.3,515.4 428.1,515.3 428.8,515.7 429.6,516.6 430.3,518.0 431.1,519.8 431.8,521.9 432.6,524.3 433.3,527.0 434.1,529.8 434.8,532.8 435.6,535.8 436.3,538.9 437.1,541.9 437.8,544.9 438.6,547.9 439.3,550.7 440.1,553.5 440.8,556.1 441.6,558.6 442.3,561.0 443.1,563.2 443.8,565.4 444.6,567.4 445.3,569.3 446.1,571.0 446.8,572.7 447.6,574.3 448.3,575.8 449.1,577.1 449.8,578.4 450.6,579.6 451.3,580.7 452.1,581.8 452.8,582.8 453.6,583.7 454.3,584.5 455.1,585.3 455.8,586.1 456.6,586.8 457.3,587.4 458.1,588.0 458.8,588.6 459.6,589.2 460.3,589.7 461.1,590.1 461.8,590.6 462.6,591.0 463.3,591.4 464.1,591.8 464.8,592.1 465.6,592.5 466.3,592.8 467.1,593.1 467.8,593.4 468.6,593.6 469.3,593.9 470.1,594.1 470.8,594.4 471.6,594.6 472.3,594.8 473.1,595.0 473.8,595.2 474.6,595.4 475.3,595.6 476.1,595.8 476.8,595.9 477.6,596.1 478.3,596.2 479.1,596.4 479.8,596.5 480.6,596.6 481.3,596.8 482.1,596.9 482.8,597.0 484.8,597.3 486.8,597.6 488.8,597.8 490.8,598.0 492.8,598.2 494.8,598.4 496.8,598.6 498.8,598.8 500.8,598.9 502.8,599.0 504.8,599.2 506.8,599.3 508.8,599.4 510.8,599.5 512.8,599.6 514.8,599.7 516.8,599.7 518.8,599.8 520.8,599.9 522.8,600.0 524.8,600.0 526.8,600.1 528.8,600.1 530.8,600.2 532.8,600.2 534.8,600.3 536.8,600.3 538.8,600.4 540.8,600.4 542.8,600.5 544.8,600.5 546.8,600.5 548.8,600.6 550.8,600.6 552.8,600.6 554.8,600.7 556.8,600.7 558.8,600.7 560.8,600.7 562.8,600.8 564.8,600.8 566.8,600.8 568.8,600.8 570.8,600.8 572.8,600.9 574.8,600.9 576.8,600.9 578.8,600.9 580.8,600.9 582.8,600.9 584.8,601.0 586.8,601.0 588.8,601.0 590.8,601.0 592.8,601.0 597.8,601.0 602.8,601.1 607.8,601.1 612.8,601.1 617.8,601.1 622.8,601.2 627.8,601.2 632.8,601.2 637.8,601.2 642.8,601.2 645.5,601.2" fill="none" stroke="#e8a820" stroke-width="1.2" stroke-linejoin="round" clip-path="url(#clipB)"/>
<path d="M77.3,601.2 L77.3,601.2 82.3,601.2 87.3,601.2 92.3,601.2 97.3,601.2 102.3,601.2 107.3,601.2 112.3,601.2 117.3,601.2 122.3,601.2 127.3,601.2 132.3,601.2 137.3,601.2 142.3,601.2 147.3,601.2 152.3,601.2 157.3,601.2 162.3,601.2 167.3,601.2 172.3,601.2 177.3,601.2 182.3,601.2 187.3,601.2 192.3,601.2 197.3,601.2 202.3,601.2 207.3,601.2 212.3,601.2 217.3,601.2 222.3,601.2 227.3,601.2 232.3,601.2 237.3,601.2 242.3,601.2 247.3,601.2 252.3,601.2 257.3,601.2 262.3,601.2 267.3,601.2 272.3,601.2 277.3,601.2 282.3,601.2 287.3,601.2 292.3,601.2 297.3,601.2 302.3,601.2 307.3,601.2 312.3,601.2 317.3,601.1 322.3,601.1 327.3,601.1 332.3,601.1 337.3,601.0 342.3,601.0 344.3,601.0 346.3,600.9 348.3,600.9 350.3,600.9 352.3,600.9 354.3,600.8 356.3,600.8 358.3,600.8 360.3,600.8 362.3,600.7 364.3,600.7 366.3,600.6 368.3,600.6 370.3,600.6 372.3,600.5 374.3,600.5 376.3,600.4 378.3,600.3 380.3,600.3 382.3,600.2 384.3,600.1 386.3,600.0 388.3,599.9 390.3,599.8 392.3,599.7 394.3,599.5 396.3,599.4 398.3,599.2 400.3,599.0 402.3,598.8 404.3,598.5 406.3,598.3 408.3,597.9 410.3,597.5 411.1,597.4 411.8,597.2 412.6,597.0 413.3,596.8 414.1,596.6 414.8,596.4 415.6,596.1 416.3,595.9 417.1,595.6 417.8,595.3 418.6,595.0 419.3,594.7 420.1,594.3 420.8,593.9 421.6,593.5 422.3,593.0 423.1,592.5 423.8,592.0 424.6,591.4 425.3,590.8 426.1,590.1 426.8,589.3 427.6,588.5 428.3,587.6 429.1,586.6 429.8,585.5 430.6,584.3 431.3,582.9 432.1,581.5 432.8,579.8 433.6,578.0 434.3,576.0 435.1,573.9 435.8,571.5 436.6,568.9 437.3,566.1 438.1,563.0 438.8,559.8 439.6,556.5 440.3,553.0 441.1,549.7 441.8,546.4 442.6,543.5 443.3,541.1 444.1,539.3 444.8,538.3 445.6,538.1 446.3,538.9 447.1,540.4 447.8,542.6 448.6,545.4 449.3,548.6 450.1,551.9 450.8,555.3 451.6,558.7 452.3,562.0 453.1,565.1 453.8,568.0 454.6,570.6 455.3,573.1 456.1,575.3 456.8,577.4 457.6,579.2 458.3,580.9 459.1,582.5 459.8,583.8 460.6,585.1 461.3,586.2 462.1,587.3 462.8,588.2 463.6,589.1 464.3,589.8 465.1,590.6 465.8,591.2 466.6,591.8 467.3,592.4 468.1,592.9 468.8,593.3 469.6,593.8 470.3,594.2 471.1,594.6 471.8,594.9 472.6,595.2 473.3,595.5 474.1,595.8 474.8,596.1 475.6,596.3 476.3,596.5 477.1,596.7 477.8,596.9 478.6,597.1 479.3,597.3 480.1,597.5 480.8,597.6 481.6,597.8 483.6,598.1 485.6,598.4 487.6,598.7 489.6,598.9 491.6,599.1 493.6,599.3 495.6,599.5 497.6,599.6 499.6,599.8 501.6,599.9 503.6,600.0 505.6,600.1 507.6,600.2 509.6,600.2 511.6,600.3 513.5,600.4 515.5,600.4 517.5,600.5 519.5,600.5 521.5,600.6 523.5,600.6 525.5,600.7 527.5,600.7 529.5,600.7 531.5,600.8 533.5,600.8 535.5,600.8 537.5,600.9 539.5,600.9 541.5,600.9 543.5,600.9 545.5,600.9 547.5,601.0 549.5,601.0 551.5,601.0 553.5,601.0 558.5,601.1 563.5,601.1 568.5,601.1 573.5,601.1 578.5,601.2 583.5,601.2 588.5,601.2 593.5,601.2 598.5,601.2 603.5,601.2 608.5,601.2 613.5,601.2 618.5,601.2 623.5,601.2 628.5,601.2 633.5,601.2 638.5,601.2 643.5,601.2 645.5,601.2 L645.5,601.2 Z" fill="rgba(216,196,40,0.58)"/>
<polyline points="77.3,601.2 82.3,601.2 87.3,601.2 92.3,601.2 97.3,601.2 102.3,601.2 107.3,601.2 112.3,601.2 117.3,601.2 122.3,601.2 127.3,601.2 132.3,601.2 137.3,601.2 142.3,601.2 147.3,601.2 152.3,601.2 157.3,601.2 162.3,601.2 167.3,601.2 172.3,601.2 177.3,601.2 182.3,601.2 187.3,601.2 192.3,601.2 197.3,601.2 202.3,601.2 207.3,601.2 212.3,601.2 217.3,601.2 222.3,601.2 227.3,601.2 232.3,601.2 237.3,601.2 242.3,601.2 247.3,601.2 252.3,601.2 257.3,601.2 262.3,601.2 267.3,601.2 272.3,601.2 277.3,601.2 282.3,601.2 287.3,601.2 292.3,601.2 297.3,601.2 302.3,601.2 307.3,601.2 312.3,601.2 317.3,601.1 322.3,601.1 327.3,601.1 332.3,601.1 337.3,601.0 342.3,601.0 344.3,601.0 346.3,600.9 348.3,600.9 350.3,600.9 352.3,600.9 354.3,600.8 356.3,600.8 358.3,600.8 360.3,600.8 362.3,600.7 364.3,600.7 366.3,600.6 368.3,600.6 370.3,600.6 372.3,600.5 374.3,600.5 376.3,600.4 378.3,600.3 380.3,600.3 382.3,600.2 384.3,600.1 386.3,600.0 388.3,599.9 390.3,599.8 392.3,599.7 394.3,599.5 396.3,599.4 398.3,599.2 400.3,599.0 402.3,598.8 404.3,598.5 406.3,598.3 408.3,597.9 410.3,597.5 411.1,597.4 411.8,597.2 412.6,597.0 413.3,596.8 414.1,596.6 414.8,596.4 415.6,596.1 416.3,595.9 417.1,595.6 417.8,595.3 418.6,595.0 419.3,594.7 420.1,594.3 420.8,593.9 421.6,593.5 422.3,593.0 423.1,592.5 423.8,592.0 424.6,591.4 425.3,590.8 426.1,590.1 426.8,589.3 427.6,588.5 428.3,587.6 429.1,586.6 429.8,585.5 430.6,584.3 431.3,582.9 432.1,581.5 432.8,579.8 433.6,578.0 434.3,576.0 435.1,573.9 435.8,571.5 436.6,568.9 437.3,566.1 438.1,563.0 438.8,559.8 439.6,556.5 440.3,553.0 441.1,549.7 441.8,546.4 442.6,543.5 443.3,541.1 444.1,539.3 444.8,538.3 445.6,538.1 446.3,538.9 447.1,540.4 447.8,542.6 448.6,545.4 449.3,548.6 450.1,551.9 450.8,555.3 451.6,558.7 452.3,562.0 453.1,565.1 453.8,568.0 454.6,570.6 455.3,573.1 456.1,575.3 456.8,577.4 457.6,579.2 458.3,580.9 459.1,582.5 459.8,583.8 460.6,585.1 461.3,586.2 462.1,587.3 462.8,588.2 463.6,589.1 464.3,589.8 465.1,590.6 465.8,591.2 466.6,591.8 467.3,592.4 468.1,592.9 468.8,593.3 469.6,593.8 470.3,594.2 471.1,594.6 471.8,594.9 472.6,595.2 473.3,595.5 474.1,595.8 474.8,596.1 475.6,596.3 476.3,596.5 477.1,596.7 477.8,596.9 478.6,597.1 479.3,597.3 480.1,597.5 480.8,597.6 481.6,597.8 483.6,598.1 485.6,598.4 487.6,598.7 489.6,598.9 491.6,599.1 493.6,599.3 495.6,599.5 497.6,599.6 499.6,599.8 501.6,599.9 503.6,600.0 505.6,600.1 507.6,600.2 509.6,600.2 511.6,600.3 513.5,600.4 515.5,600.4 517.5,600.5 519.5,600.5 521.5,600.6 523.5,600.6 525.5,600.7 527.5,600.7 529.5,600.7 531.5,600.8 533.5,600.8 535.5,600.8 537.5,600.9 539.5,600.9 541.5,600.9 543.5,600.9 545.5,600.9 547.5,601.0 549.5,601.0 551.5,601.0 553.5,601.0 558.5,601.1 563.5,601.1 568.5,601.1 573.5,601.1 578.5,601.2 583.5,601.2 588.5,601.2 593.5,601.2 598.5,601.2 603.5,601.2 608.5,601.2 613.5,601.2 618.5,601.2 623.5,601.2 628.5,601.2 633.5,601.2 638.5,601.2 643.5,601.2 645.5,601.2" fill="none" stroke="#e8a820" stroke-width="1.2" stroke-linejoin="round" clip-path="url(#clipB)"/>
<path d="M77.3,601.2 L77.3,601.2 82.3,601.2 87.3,601.2 92.3,601.2 97.3,601.2 102.3,601.2 107.3,601.2 112.3,601.2 117.3,601.2 122.3,601.2 127.3,601.2 132.3,601.2 137.3,601.2 142.3,601.2 147.3,601.2 152.3,601.2 157.3,601.2 162.3,601.2 167.3,601.2 172.3,601.2 177.3,601.2 182.3,601.2 187.3,601.2 192.3,601.2 197.3,601.2 202.3,601.2 207.3,601.2 212.3,601.2 217.3,601.2 222.3,601.2 227.3,601.2 232.3,601.2 237.3,601.2 242.3,601.2 247.3,601.2 252.3,601.2 257.3,601.2 262.3,601.2 267.3,601.2 272.3,601.2 277.3,601.2 282.3,601.2 287.3,601.2 292.3,601.2 297.3,601.2 302.3,601.2 307.3,601.2 312.3,601.2 317.3,601.2 322.3,601.2 327.3,601.2 332.3,601.2 337.3,601.2 342.3,601.2 347.3,601.2 352.3,601.2 357.3,601.1 362.3,601.1 367.3,601.1 372.3,601.1 377.3,601.0 379.3,601.0 381.3,601.0 383.3,601.0 385.3,600.9 387.3,600.9 389.3,600.9 391.3,600.9 393.3,600.9 395.3,600.8 397.3,600.8 399.3,600.8 401.3,600.7 403.3,600.7 405.3,600.7 407.3,600.6 409.3,600.6 411.3,600.5 413.3,600.5 415.3,600.4 417.3,600.4 419.3,600.3 421.3,600.3 423.3,600.2 425.3,600.1 427.3,600.0 429.3,599.9 431.3,599.8 433.3,599.7 435.3,599.6 437.3,599.4 439.3,599.2 441.3,599.0 443.3,598.8 445.3,598.6 447.3,598.3 449.3,598.0 451.3,597.6 452.1,597.5 452.8,597.3 453.6,597.1 454.3,596.9 455.1,596.7 455.8,596.5 456.6,596.3 457.3,596.0 458.1,595.8 458.8,595.5 459.6,595.2 460.3,594.9 461.1,594.6 461.8,594.2 462.6,593.8 463.3,593.4 464.1,592.9 464.8,592.4 465.6,591.9 466.3,591.3 467.1,590.6 467.8,589.9 468.6,589.2 469.3,588.3 470.1,587.4 470.8,586.4 471.6,585.3 472.3,584.1 473.1,582.8 473.8,581.3 474.6,579.7 475.3,577.9 476.1,575.9 476.8,573.8 477.6,571.4 478.3,568.9 479.1,566.2 479.8,563.2 480.6,560.1 481.3,556.9 482.1,553.6 482.8,550.4 483.6,547.4 484.3,544.7 485.1,542.5 485.8,540.8 486.6,539.9 487.3,539.9 488.1,540.6 488.8,542.1 489.6,544.2 490.3,546.8 491.1,549.8 491.8,553.0 492.6,556.2 493.3,559.5 494.1,562.6 494.8,565.6 495.6,568.4 496.3,571.0 497.1,573.3 497.8,575.5 498.6,577.5 499.3,579.3 500.1,581.0 500.8,582.5 501.6,583.8 502.3,585.1 503.1,586.2 503.8,587.2 504.6,588.2 505.3,589.0 506.1,589.8 506.8,590.5 507.6,591.2 508.3,591.8 509.1,592.3 509.8,592.8 510.6,593.3 511.3,593.7 512.0,594.1 512.8,594.5 513.5,594.8 514.3,595.2 515.0,595.5 515.8,595.7 516.5,596.0 517.3,596.2 518.0,596.5 518.8,596.7 519.5,596.9 520.3,597.1 521.0,597.3 521.8,597.4 522.5,597.6 523.3,597.7 524.0,597.9 526.0,598.2 528.0,598.5 530.0,598.8 532.0,599.0 534.0,599.2 536.0,599.4 538.0,599.5 540.0,599.6 542.0,599.8 544.0,599.9 546.0,600.0 548.0,600.1 550.0,600.2 552.0,600.2 554.0,600.3 556.0,600.4 558.0,600.4 560.0,600.5 562.0,600.5 564.0,600.6 566.0,600.6 568.0,600.7 570.0,600.7 572.0,600.7 574.0,600.8 576.0,600.8 578.0,600.8 580.0,600.8 582.0,600.9 584.0,600.9 586.0,600.9 588.0,600.9 590.0,601.0 592.0,601.0 594.0,601.0 596.0,601.0 598.0,601.0 603.0,601.1 608.0,601.1 613.0,601.1 618.0,601.1 623.0,601.2 628.0,601.2 633.0,601.2 638.0,601.2 643.0,601.2 645.5,601.2 L645.5,601.2 Z" fill="rgba(222,33,40,0.58)"/>
<polyline points="77.3,601.2 82.3,601.2 87.3,601.2 92.3,601.2 97.3,601.2 102.3,601.2 107.3,601.2 112.3,601.2 117.3,601.2 122.3,601.2 127.3,601.2 132.3,601.2 137.3,601.2 142.3,601.2 147.3,601.2 152.3,601.2 157.3,601.2 162.3,601.2 167.3,601.2 172.3,601.2 177.3,601.2 182.3,601.2 187.3,601.2 192.3,601.2 197.3,601.2 202.3,601.2 207.3,601.2 212.3,601.2 217.3,601.2 222.3,601.2 227.3,601.2 232.3,601.2 237.3,601.2 242.3,601.2 247.3,601.2 252.3,601.2 257.3,601.2 262.3,601.2 267.3,601.2 272.3,601.2 277.3,601.2 282.3,601.2 287.3,601.2 292.3,601.2 297.3,601.2 302.3,601.2 307.3,601.2 312.3,601.2 317.3,601.2 322.3,601.2 327.3,601.2 332.3,601.2 337.3,601.2 342.3,601.2 347.3,601.2 352.3,601.2 357.3,601.1 362.3,601.1 367.3,601.1 372.3,601.1 377.3,601.0 379.3,601.0 381.3,601.0 383.3,601.0 385.3,600.9 387.3,600.9 389.3,600.9 391.3,600.9 393.3,600.9 395.3,600.8 397.3,600.8 399.3,600.8 401.3,600.7 403.3,600.7 405.3,600.7 407.3,600.6 409.3,600.6 411.3,600.5 413.3,600.5 415.3,600.4 417.3,600.4 419.3,600.3 421.3,600.3 423.3,600.2 425.3,600.1 427.3,600.0 429.3,599.9 431.3,599.8 433.3,599.7 435.3,599.6 437.3,599.4 439.3,599.2 441.3,599.0 443.3,598.8 445.3,598.6 447.3,598.3 449.3,598.0 451.3,597.6 452.1,597.5 452.8,597.3 453.6,597.1 454.3,596.9 455.1,596.7 455.8,596.5 456.6,596.3 457.3,596.0 458.1,595.8 458.8,595.5 459.6,595.2 460.3,594.9 461.1,594.6 461.8,594.2 462.6,593.8 463.3,593.4 464.1,592.9 464.8,592.4 465.6,591.9 466.3,591.3 467.1,590.6 467.8,589.9 468.6,589.2 469.3,588.3 470.1,587.4 470.8,586.4 471.6,585.3 472.3,584.1 473.1,582.8 473.8,581.3 474.6,579.7 475.3,577.9 476.1,575.9 476.8,573.8 477.6,571.4 478.3,568.9 479.1,566.2 479.8,563.2 480.6,560.1 481.3,556.9 482.1,553.6 482.8,550.4 483.6,547.4 484.3,544.7 485.1,542.5 485.8,540.8 486.6,539.9 487.3,539.9 488.1,540.6 488.8,542.1 489.6,544.2 490.3,546.8 491.1,549.8 491.8,553.0 492.6,556.2 493.3,559.5 494.1,562.6 494.8,565.6 495.6,568.4 496.3,571.0 497.1,573.3 497.8,575.5 498.6,577.5 499.3,579.3 500.1,581.0 500.8,582.5 501.6,583.8 502.3,585.1 503.1,586.2 503.8,587.2 504.6,588.2 505.3,589.0 506.1,589.8 506.8,590.5 507.6,591.2 508.3,591.8 509.1,592.3 509.8,592.8 510.6,593.3 511.3,593.7 512.0,594.1 512.8,594.5 513.5,594.8 514.3,595.2 515.0,595.5 515.8,595.7 516.5,596.0 517.3,596.2 518.0,596.5 518.8,596.7 519.5,596.9 520.3,597.1 521.0,597.3 521.8,597.4 522.5,597.6 523.3,597.7 524.0,597.9 526.0,598.2 528.0,598.5 530.0,598.8 532.0,599.0 534.0,599.2 536.0,599.4 538.0,599.5 540.0,599.6 542.0,599.8 544.0,599.9 546.0,600.0 548.0,600.1 550.0,600.2 552.0,600.2 554.0,600.3 556.0,600.4 558.0,600.4 560.0,600.5 562.0,600.5 564.0,600.6 566.0,600.6 568.0,600.7 570.0,600.7 572.0,600.7 574.0,600.8 576.0,600.8 578.0,600.8 580.0,600.8 582.0,600.9 584.0,600.9 586.0,600.9 588.0,600.9 590.0,601.0 592.0,601.0 594.0,601.0 596.0,601.0 598.0,601.0 603.0,601.1 608.0,601.1 613.0,601.1 618.0,601.1 623.0,601.2 628.0,601.2 633.0,601.2 638.0,601.2 643.0,601.2 645.5,601.2" fill="none" stroke="#ff1c1c" stroke-width="1.2" stroke-linejoin="round" clip-path="url(#clipB)"/>
<path d="M77.3,601.2 L77.3,601.2 82.3,601.2 87.3,601.2 92.3,601.2 97.3,601.2 102.3,601.2 107.3,601.2 112.3,601.2 117.3,601.2 122.3,601.2 127.3,601.2 132.3,601.2 137.3,601.2 142.3,601.2 147.3,601.2 152.3,601.2 157.3,601.2 162.3,601.2 167.3,601.2 172.3,601.2 177.3,601.2 182.3,601.2 187.3,601.2 192.3,601.2 197.3,601.2 202.3,601.2 207.3,601.2 212.3,601.2 217.3,601.2 222.3,601.2 227.3,601.2 232.3,601.2 237.3,601.2 242.3,601.2 247.3,601.2 252.3,601.2 257.3,601.2 262.3,601.2 267.3,601.2 272.3,601.2 277.3,601.2 282.3,601.2 287.3,601.2 292.3,601.2 297.3,601.2 302.3,601.2 307.3,601.2 312.3,601.2 317.3,601.2 322.3,601.2 327.3,601.2 332.3,601.1 337.3,601.0 342.3,601.0 344.3,600.9 346.3,600.9 348.3,600.9 350.3,600.9 352.3,600.8 354.3,600.8 356.3,600.8 358.3,600.7 360.3,600.7 362.3,600.6 364.3,600.6 366.3,600.6 368.3,600.5 370.3,600.5 372.3,600.4 374.3,600.4 376.3,600.3 378.3,600.3 380.3,600.2 382.3,600.2 384.3,600.1 386.3,600.0 388.3,600.0 390.3,599.9 392.3,599.8 394.3,599.8 396.3,599.7 398.3,599.6 400.3,599.5 402.3,599.4 404.3,599.4 406.3,599.3 408.3,599.2 410.3,599.1 412.3,598.9 414.3,598.8 416.3,598.7 418.3,598.6 420.3,598.4 422.3,598.3 424.3,598.2 426.3,598.0 428.3,597.8 430.3,597.7 432.3,597.5 434.3,597.3 436.3,597.1 438.3,596.8 440.3,596.6 442.3,596.3 444.3,596.1 446.3,595.8 448.3,595.5 450.3,595.1 452.3,594.8 454.3,594.4 456.3,594.0 458.3,593.5 460.3,593.0 462.3,592.5 464.3,591.9 466.3,591.3 467.1,591.0 467.8,590.8 468.6,590.5 469.3,590.2 470.1,590.0 470.8,589.7 471.6,589.4 472.3,589.1 473.1,588.7 473.8,588.4 474.6,588.0 475.3,587.7 476.1,587.3 476.8,586.9 477.6,586.5 478.3,586.1 479.1,585.6 479.8,585.2 480.6,584.7 481.3,584.2 482.1,583.7 482.8,583.2 483.6,582.6 484.3,582.0 485.1,581.4 485.8,580.8 486.6,580.1 487.3,579.4 488.1,578.7 488.8,577.9 489.6,577.2 490.3,576.3 491.1,575.5 491.8,574.6 492.6,573.6 493.3,572.6 494.1,571.6 494.8,570.5 495.6,569.3 496.3,568.1 497.1,566.8 497.8,565.5 498.6,564.1 499.3,562.6 500.1,561.0 500.8,559.3 501.6,557.6 502.3,555.7 503.1,553.8 503.8,551.7 504.6,549.6 505.3,547.3 506.1,544.9 506.8,542.3 507.6,539.6 508.3,536.7 509.1,533.7 509.8,530.5 510.6,527.1 511.3,523.6 512.0,519.8 512.8,515.9 513.5,511.8 514.3,507.4 515.0,502.9 515.8,498.1 516.5,493.2 517.3,488.1 518.0,482.8 518.8,477.3 519.5,471.8 520.3,466.2 521.0,460.6 521.8,455.0 522.5,449.5 523.3,444.1 524.0,439.0 524.8,434.3 525.5,429.9 526.3,426.1 527.0,422.9 527.8,420.3 528.5,418.5 529.3,417.5 530.0,417.2 530.8,417.8 531.5,419.1 532.3,421.3 533.0,424.1 533.8,427.6 534.5,431.6 535.3,436.1 536.0,441.0 536.8,446.2 537.5,451.6 538.3,457.2 539.0,462.8 539.8,468.4 540.5,474.0 541.3,479.5 542.0,484.9 542.8,490.1 543.5,495.2 544.3,500.0 545.0,504.7 545.8,509.2 546.5,513.4 547.3,517.5 548.0,521.4 548.8,525.0 549.5,528.5 550.3,531.8 551.0,534.9 551.8,537.9 552.5,540.7 553.3,543.3 554.0,545.8 554.8,548.2 555.5,550.5 556.3,552.6 557.0,554.6 557.8,556.5 558.5,558.3 559.3,560.0 560.0,561.6 560.8,563.2 561.5,564.6 562.3,566.0 563.0,567.3 563.8,568.6 564.5,569.8 565.3,570.9 566.0,572.0 566.8,573.0 567.5,574.0 568.3,574.9 569.0,575.8 569.8,576.7 570.5,577.5 571.3,578.3 572.0,579.0 572.8,579.7 573.5,580.4 574.3,581.0 575.0,581.7 575.8,582.3 576.5,582.8 577.3,583.4 578.0,583.9 578.8,584.4 579.5,584.9 580.3,585.4 581.0,585.8 581.8,586.2 582.5,586.7 583.3,587.1 584.0,587.4 584.8,587.8 585.5,588.2 586.3,588.5 587.0,588.9 587.8,589.2 588.5,589.5 589.3,589.8 590.0,590.1 590.8,590.4 591.5,590.6 592.3,590.9 593.0,591.1 593.8,591.4 594.5,591.6 596.5,592.2 598.5,592.8 600.5,593.3 602.5,593.7 604.5,594.2 606.5,594.6 608.5,595.0 610.5,595.3 612.5,595.6 614.5,595.9 616.5,596.2 618.5,596.5 620.5,596.7 622.5,597.0 624.5,597.2 626.5,597.4 628.5,597.6 630.5,597.7 632.5,597.9 634.5,598.1 636.5,598.2 638.5,598.4 640.5,598.5 642.5,598.7 644.5,598.8 645.5,598.8 L645.5,601.2 Z" fill="rgba(177,40,133,0.58)"/>
<polyline points="77.3,601.2 82.3,601.2 87.3,601.2 92.3,601.2 97.3,601.2 102.3,601.2 107.3,601.2 112.3,601.2 117.3,601.2 122.3,601.2 127.3,601.2 132.3,601.2 137.3,601.2 142.3,601.2 147.3,601.2 152.3,601.2 157.3,601.2 162.3,601.2 167.3,601.2 172.3,601.2 177.3,601.2 182.3,601.2 187.3,601.2 192.3,601.2 197.3,601.2 202.3,601.2 207.3,601.2 212.3,601.2 217.3,601.2 222.3,601.2 227.3,601.2 232.3,601.2 237.3,601.2 242.3,601.2 247.3,601.2 252.3,601.2 257.3,601.2 262.3,601.2 267.3,601.2 272.3,601.2 277.3,601.2 282.3,601.2 287.3,601.2 292.3,601.2 297.3,601.2 302.3,601.2 307.3,601.2 312.3,601.2 317.3,601.2 322.3,601.2 327.3,601.2 332.3,601.1 337.3,601.0 342.3,601.0 344.3,600.9 346.3,600.9 348.3,600.9 350.3,600.9 352.3,600.8 354.3,600.8 356.3,600.8 358.3,600.7 360.3,600.7 362.3,600.6 364.3,600.6 366.3,600.6 368.3,600.5 370.3,600.5 372.3,600.4 374.3,600.4 376.3,600.3 378.3,600.3 380.3,600.2 382.3,600.2 384.3,600.1 386.3,600.0 388.3,600.0 390.3,599.9 392.3,599.8 394.3,599.8 396.3,599.7 398.3,599.6 400.3,599.5 402.3,599.4 404.3,599.4 406.3,599.3 408.3,599.2 410.3,599.1 412.3,598.9 414.3,598.8 416.3,598.7 418.3,598.6 420.3,598.4 422.3,598.3 424.3,598.2 426.3,598.0 428.3,597.8 430.3,597.7 432.3,597.5 434.3,597.3 436.3,597.1 438.3,596.8 440.3,596.6 442.3,596.3 444.3,596.1 446.3,595.8 448.3,595.5 450.3,595.1 452.3,594.8 454.3,594.4 456.3,594.0 458.3,593.5 460.3,593.0 462.3,592.5 464.3,591.9 466.3,591.3 467.1,591.0 467.8,590.8 468.6,590.5 469.3,590.2 470.1,590.0 470.8,589.7 471.6,589.4 472.3,589.1 473.1,588.7 473.8,588.4 474.6,588.0 475.3,587.7 476.1,587.3 476.8,586.9 477.6,586.5 478.3,586.1 479.1,585.6 479.8,585.2 480.6,584.7 481.3,584.2 482.1,583.7 482.8,583.2 483.6,582.6 484.3,582.0 485.1,581.4 485.8,580.8 486.6,580.1 487.3,579.4 488.1,578.7 488.8,577.9 489.6,577.2 490.3,576.3 491.1,575.5 491.8,574.6 492.6,573.6 493.3,572.6 494.1,571.6 494.8,570.5 495.6,569.3 496.3,568.1 497.1,566.8 497.8,565.5 498.6,564.1 499.3,562.6 500.1,561.0 500.8,559.3 501.6,557.6 502.3,555.7 503.1,553.8 503.8,551.7 504.6,549.6 505.3,547.3 506.1,544.9 506.8,542.3 507.6,539.6 508.3,536.7 509.1,533.7 509.8,530.5 510.6,527.1 511.3,523.6 512.0,519.8 512.8,515.9 513.5,511.8 514.3,507.4 515.0,502.9 515.8,498.1 516.5,493.2 517.3,488.1 518.0,482.8 518.8,477.3 519.5,471.8 520.3,466.2 521.0,460.6 521.8,455.0 522.5,449.5 523.3,444.1 524.0,439.0 524.8,434.3 525.5,429.9 526.3,426.1 527.0,422.9 527.8,420.3 528.5,418.5 529.3,417.5 530.0,417.2 530.8,417.8 531.5,419.1 532.3,421.3 533.0,424.1 533.8,427.6 534.5,431.6 535.3,436.1 536.0,441.0 536.8,446.2 537.5,451.6 538.3,457.2 539.0,462.8 539.8,468.4 540.5,474.0 541.3,479.5 542.0,484.9 542.8,490.1 543.5,495.2 544.3,500.0 545.0,504.7 545.8,509.2 546.5,513.4 547.3,517.5 548.0,521.4 548.8,525.0 549.5,528.5 550.3,531.8 551.0,534.9 551.8,537.9 552.5,540.7 553.3,543.3 554.0,545.8 554.8,548.2 555.5,550.5 556.3,552.6 557.0,554.6 557.8,556.5 558.5,558.3 559.3,560.0 560.0,561.6 560.8,563.2 561.5,564.6 562.3,566.0 563.0,567.3 563.8,568.6 564.5,569.8 565.3,570.9 566.0,572.0 566.8,573.0 567.5,574.0 568.3,574.9 569.0,575.8 569.8,576.7 570.5,577.5 571.3,578.3 572.0,579.0 572.8,579.7 573.5,580.4 574.3,581.0 575.0,581.7 575.8,582.3 576.5,582.8 577.3,583.4 578.0,583.9 578.8,584.4 579.5,584.9 580.3,585.4 581.0,585.8 581.8,586.2 582.5,586.7 583.3,587.1 584.0,587.4 584.8,587.8 585.5,588.2 586.3,588.5 587.0,588.9 587.8,589.2 588.5,589.5 589.3,589.8 590.0,590.1 590.8,590.4 591.5,590.6 592.3,590.9 593.0,591.1 593.8,591.4 594.5,591.6 596.5,592.2 598.5,592.8 600.5,593.3 602.5,593.7 604.5,594.2 606.5,594.6 608.5,595.0 610.5,595.3 612.5,595.6 614.5,595.9 616.5,596.2 618.5,596.5 620.5,596.7 622.5,597.0 624.5,597.2 626.5,597.4 628.5,597.6 630.5,597.7 632.5,597.9 634.5,598.1 636.5,598.2 638.5,598.4 640.5,598.5 642.5,598.7 644.5,598.8 645.5,598.8" fill="none" stroke="#a8105e" stroke-width="1.2" stroke-linejoin="round" clip-path="url(#clipB)"/>
<polyline points="77.5,589.9 78.2,589.4 79.0,588.9 79.8,588.4 80.5,588.0 81.2,587.6 82.0,587.2 82.8,586.8 83.5,586.6 84.2,586.3 85.0,586.1 85.8,586.0 86.5,586.0 87.2,586.1 88.0,586.2 88.8,586.4 89.5,586.6 90.2,586.9 91.0,587.2 91.8,587.6 92.5,587.9 93.2,588.3 94.0,588.7 94.8,589.1 95.5,589.4 96.2,589.8 97.0,590.1 97.8,590.5 98.5,590.8 99.2,591.1 100.0,591.3 100.8,591.6 101.5,591.8 102.2,592.1 103.0,592.3 103.8,592.5 104.5,592.7 105.2,592.8 106.0,593.0 106.8,593.1 107.5,593.2 108.2,593.3 109.0,593.4 109.8,593.4 110.5,593.5 111.2,593.5 112.0,593.6 112.8,593.6 113.5,593.6 114.2,593.6 115.0,593.6 115.8,593.6 116.5,593.6 117.2,593.6 118.0,593.5 118.8,593.5 119.5,593.4 120.2,593.4 121.0,593.3 121.8,593.2 122.5,593.1 123.2,592.9 124.0,592.8 124.8,592.6 125.5,592.4 126.2,592.2 127.0,592.0 127.8,591.7 128.5,591.4 129.2,591.1 130.0,590.8 130.8,590.4 131.5,590.1 132.2,589.7 133.0,589.3 133.8,588.9 134.5,588.4 135.2,588.0 136.0,587.5 136.8,587.0 137.5,586.5 138.2,586.0 139.0,585.5 139.8,585.0 140.5,584.5 141.2,584.0 142.0,583.4 142.8,582.9 143.5,582.4 144.2,581.9 145.0,581.4 145.8,580.9 146.5,580.5 147.2,580.1 148.0,579.7 148.8,579.4 149.5,579.2 150.2,579.0 151.0,579.0 151.8,579.0 152.5,579.1 153.2,579.3 154.0,579.6 154.8,579.9 155.5,580.2 156.2,580.5 157.0,580.7 157.8,580.9 158.5,581.0 159.2,581.1 160.0,581.1 160.8,581.1 161.5,581.1 162.2,581.1 163.0,581.0 163.8,580.9 164.5,580.8 165.2,580.6 166.0,580.4 166.8,580.2 167.5,579.9 168.2,579.7 169.0,579.3 169.8,578.9 170.5,578.5 171.2,578.0 172.0,577.5 172.8,576.9 173.5,576.3 174.2,575.6 175.0,574.9 175.8,574.2 176.5,573.4 177.2,572.6 178.0,571.7 178.8,570.9 179.5,570.0 180.2,569.1 181.0,568.1 181.8,567.1 182.5,566.1 183.2,565.1 184.0,564.0 184.8,563.0 185.5,561.9 186.2,560.7 187.0,559.6 187.8,558.4 188.5,557.2 189.2,556.0 190.0,554.8 190.8,553.6 191.5,552.3 192.2,551.0 193.0,549.7 193.8,548.3 194.5,546.9 195.2,545.5 196.0,544.1 196.8,542.6 197.5,541.1 198.2,539.5 199.0,537.7 199.8,535.8 200.5,533.7 201.2,531.3 202.0,528.6 202.8,525.6 203.5,522.3 204.2,518.7 205.0,514.9 205.8,510.9 206.5,506.6 207.2,502.3 208.0,497.9 208.8,493.6 209.5,489.5 210.2,485.7 211.0,482.3 211.8,479.4 212.5,477.1 213.2,475.4 214.0,474.5 214.8,474.4 215.5,475.2 216.2,476.6 217.0,478.8 217.8,481.6 218.5,485.0 219.2,488.8 220.0,493.0 220.8,497.2 221.5,501.6 222.2,505.7 223.0,509.7 223.8,513.4 224.5,516.8 225.2,520.1 226.0,523.1 226.8,526.1 227.5,528.9 228.2,531.5 229.0,534.1 229.8,536.6 230.5,539.0 231.2,541.2 232.0,543.3 232.8,545.3 233.5,547.2 234.2,548.9 235.0,550.4 235.8,551.9 236.5,553.2 237.2,554.4 238.0,555.5 238.8,556.5 239.5,557.5 240.2,558.4 241.0,559.3 241.8,560.1 242.5,560.9 243.2,561.8 244.0,562.6 244.8,563.3 245.5,564.1 246.2,564.8 247.0,565.4 247.8,566.0 248.5,566.6 249.2,567.0 250.0,567.4 250.8,567.7 251.5,568.0 252.2,568.2 253.0,568.3 253.8,568.3 254.5,568.2 255.2,568.1 256.0,567.9 256.8,567.6 257.5,567.3 258.2,566.8 259.0,566.3 259.8,565.8 260.5,565.2 261.2,564.5 262.0,563.8 262.8,563.1 263.5,562.3 264.2,561.5 265.0,560.6 265.8,559.8 266.5,558.9 267.2,558.1 268.0,557.3 268.8,556.6 269.5,555.8 270.2,555.2 271.0,554.6 271.8,554.1 272.5,553.6 273.2,553.3 274.0,553.0 274.8,552.8 275.5,552.7 276.2,552.7 277.0,552.7 277.8,552.8 278.5,553.0 279.2,553.2 280.0,553.4 280.8,553.5 281.5,553.7 282.2,553.8 283.0,553.9 283.8,553.9 284.5,553.8 285.2,553.6 286.0,553.3 286.8,552.9 287.5,552.4 288.2,551.7 289.0,550.9 289.8,549.9 290.5,548.8 291.2,547.5 292.0,546.0 292.8,544.5 293.5,542.8 294.2,541.1 295.0,539.4 295.8,537.6 296.5,535.8 297.2,534.0 298.0,532.2 298.8,530.4 299.5,528.7 300.2,526.9 301.0,525.2 301.8,523.4 302.5,521.7 303.2,520.0 304.0,518.3 304.8,516.5 305.5,514.8 306.2,513.1 307.0,511.3 307.8,509.5 308.5,507.8 309.2,506.0 310.0,504.2 310.8,502.4 311.5,500.5 312.2,498.7 313.0,497.0 313.8,495.2 314.5,493.6 315.2,491.9 316.0,490.4 316.8,488.9 317.5,487.5 318.2,486.2 319.0,485.1 319.8,484.1 320.5,483.3 321.2,482.7 322.0,482.2 322.8,482.0 323.5,482.0 324.2,482.3 325.0,482.8 325.8,483.5 326.5,484.4 327.2,485.6 328.0,487.0 328.8,488.6 329.5,490.4 330.2,492.5 331.0,494.6 331.8,496.9 332.5,499.1 333.2,501.2 334.0,503.2 334.8,505.0 335.5,506.6 336.2,507.9 337.0,508.9 337.8,509.5 338.5,509.8 339.2,509.7 340.0,509.2 340.8,508.3 341.5,507.0 342.2,505.5 343.0,503.8 343.8,501.9 344.5,499.8 345.2,497.8 346.0,495.7 346.8,493.6 347.5,491.6 348.2,489.7 349.0,487.9 349.8,486.3 350.5,484.8 351.2,483.5 352.0,482.5 352.8,481.7 353.5,481.1 354.2,480.6 355.0,480.4 355.8,480.4 356.5,480.6 357.2,480.9 358.0,481.3 358.8,481.7 359.5,482.1 360.2,482.4 361.0,482.7 361.8,482.7 362.5,482.5 363.2,482.1 364.0,481.4 364.8,480.4 365.5,479.1 366.2,477.5 367.0,475.5 367.8,473.1 368.5,470.3 369.2,467.3 370.0,463.9 370.8,460.3 371.5,456.4 372.2,452.4 373.0,448.4 373.8,444.4 374.5,440.8 375.2,437.6 376.0,435.0 376.8,433.0 377.5,431.6 378.2,430.8 379.0,430.6 379.8,430.9 380.5,431.7 381.2,433.0 382.0,435.0 382.8,437.5 383.5,440.6 384.2,444.2 385.0,448.2 385.8,452.3 386.5,456.6 387.2,460.8 388.0,465.1 388.8,469.3 389.5,473.5 390.2,477.6 391.0,481.6 391.8,485.4 392.5,489.1 393.2,492.6 394.0,495.8 394.8,498.9 395.5,501.7 396.2,504.2 397.0,506.4 397.8,508.4 398.5,510.1 399.2,511.7 400.0,513.0 400.8,514.1 401.5,515.1 402.2,516.0 403.0,516.7 403.8,517.3 404.5,517.6 405.2,517.7 406.0,517.7 406.8,517.3 407.5,516.8 408.2,516.0 409.0,514.9 409.8,513.6 410.5,512.1 411.2,510.3 412.0,508.2 412.8,506.0 413.5,503.7 414.2,501.3 415.0,498.9 415.8,496.4 416.5,493.9 417.2,491.5 418.0,489.2 418.8,486.9 419.5,484.6 420.2,482.5 421.0,480.5 421.8,478.6 422.5,476.9 423.2,475.2 424.0,473.8 424.8,472.5 425.5,471.4 426.2,470.5 427.0,469.8 427.8,469.3 428.5,468.9 429.2,468.6 430.0,468.5 430.8,468.3 431.5,468.2 432.2,468.1 433.0,468.0 433.8,467.9 434.5,467.8 435.2,467.8 436.0,467.8 436.8,467.8 437.5,467.9 438.2,467.9 439.0,468.0 439.8,468.1 440.5,468.2 441.2,468.5 442.0,468.9 442.8,469.5 443.5,470.2 444.2,471.2 445.0,472.4 445.8,473.9 446.5,475.7 447.2,477.8 448.0,480.2 448.8,482.9 449.5,485.7 450.2,488.6 451.0,491.7 451.8,494.7 452.5,497.8 453.2,500.8 454.0,503.8 454.8,506.8 455.5,509.7 456.2,512.5 457.0,515.3 457.8,517.9 458.5,520.5 459.2,522.9 460.0,525.2 460.8,527.4 461.5,529.4 462.2,531.3 463.0,533.0 463.8,534.5 464.5,535.9 465.2,537.0 466.0,537.9 466.8,538.6 467.5,539.0 468.2,539.2 469.0,539.1 469.8,538.8 470.5,538.3 471.2,537.5 472.0,536.5 472.8,535.3 473.5,533.9 474.2,532.3 475.0,530.6 475.8,528.7 476.5,526.7 477.2,524.6 478.0,522.5 478.8,520.2 479.5,518.0 480.2,515.8 481.0,513.6 481.8,511.5 482.5,509.5 483.2,507.6 484.0,506.0 484.8,504.6 485.5,503.5 486.2,502.8 487.0,502.5 487.8,502.7 488.5,503.3 489.2,504.3 490.0,505.7 490.8,507.3 491.5,509.1 492.2,511.0 493.0,512.9 493.8,514.8 494.5,516.7 495.2,518.4 496.0,520.0 496.8,521.5 497.5,522.8 498.2,523.9 499.0,524.8 499.8,525.5 500.5,526.0 501.2,526.2 502.0,526.1 502.8,525.8 503.5,525.2 504.2,524.4 505.0,523.5 505.8,522.4 506.5,521.2 507.2,520.0 508.0,518.8 508.8,517.5 509.5,515.8 510.2,513.7 511.0,510.9 511.8,507.6 512.5,503.8 513.2,499.6 514.0,495.1 514.8,490.3 515.5,485.3 516.2,479.9 517.0,474.2 517.8,468.0 518.5,461.2 519.2,454.1 520.0,446.9 520.8,440.0 521.5,433.7 522.2,428.3 523.0,424.0 523.8,420.6 524.5,417.9 525.2,415.9 526.0,414.4 526.8,413.4 527.5,412.8 528.2,412.5 529.0,412.4 529.8,412.6 530.5,413.1 531.2,414.0 532.0,415.4 532.8,417.3 533.5,419.9 534.2,423.0 535.0,426.7 535.8,430.9 536.5,435.5 537.2,440.5 538.0,445.9 538.8,451.6 539.5,457.6 540.2,463.8 541.0,470.0 541.8,476.2 542.5,482.1 543.2,487.6 544.0,492.6 544.8,497.0 545.5,500.9 546.2,504.5 547.0,507.8 547.8,511.0 548.5,514.1 549.2,517.1 550.0,520.2 550.8,523.2 551.5,526.1 552.2,529.1 553.0,532.0 553.8,534.9 554.5,537.7 555.2,540.5 556.0,543.2 556.8,545.8 557.5,548.3 558.2,550.6 559.0,552.9 559.8,555.0 560.5,556.9 561.2,558.8 562.0,560.5 562.8,562.1 563.5,563.6 564.2,565.1 565.0,566.4 565.8,567.7 566.5,568.8 567.2,569.9 568.0,571.0 568.8,572.0 569.5,572.9 570.2,573.8 571.0,574.6 571.8,575.4 572.5,576.2 573.2,577.0 574.0,577.7 574.8,578.4 575.5,579.1 576.2,579.7 577.0,580.3 577.8,580.9 578.5,581.4 579.2,582.0 580.0,582.5 580.8,583.0 581.5,583.4 582.2,583.9 583.0,584.3 583.8,584.7 584.5,585.1 585.2,585.5 586.0,585.8 586.8,586.2 587.5,586.5 588.2,586.8 589.0,587.1 589.8,587.4 590.5,587.7 591.2,588.0 592.0,588.2 592.8,588.5 593.5,588.7 594.2,589.0 595.0,589.2 595.8,589.4 596.5,589.7 597.2,589.9 598.0,590.1 598.8,590.3 599.5,590.5 600.2,590.7 601.0,590.9 601.8,591.0 602.5,591.2 603.2,591.4 604.0,591.6 604.8,591.7 605.5,591.9 606.2,592.0 607.0,592.2 607.8,592.3 608.5,592.5 609.2,592.6 610.0,592.7 610.8,592.9 611.5,593.0 612.2,593.1 613.0,593.2 613.8,593.4 614.5,593.5 615.2,593.6 616.0,593.7 616.8,593.8 617.5,593.9 618.2,594.0 619.0,594.1 619.8,594.2 620.5,594.3 621.2,594.4 622.0,594.5 622.8,594.6 623.5,594.7 624.2,594.8 625.0,594.9 625.8,595.0 626.5,595.1 627.2,595.2 628.0,595.3 628.8,595.3 629.5,595.4 630.2,595.5 631.0,595.6 631.8,595.7 632.5,595.8 633.2,595.9 634.0,596.0 634.8,596.1 635.5,596.1 636.2,596.2 637.0,596.3 637.8,596.4 638.5,596.5 639.2,596.6 640.0,596.7 640.8,596.7 641.5,596.8 642.2,596.9 643.0,597.0 643.8,597.1 644.5,597.2 645.2,597.3" fill="none" stroke="#111" stroke-width="1.5" stroke-linejoin="round"/>
<line x1="77.3" y1="127.8" x2="77.3" y2="327.3" stroke="#6a6a6a" stroke-width="1.1"/>
<line x1="67.3" y1="317.3" x2="645.5" y2="317.3" stroke="#6a6a6a" stroke-width="1.1"/>
<line x1="67.3" y1="317.3" x2="77.3" y2="317.3" stroke="#6a6a6a" stroke-width="1.1"/>
<line x1="67.3" y1="273.3" x2="77.3" y2="273.3" stroke="#6a6a6a" stroke-width="1.1"/>
<line x1="67.3" y1="229.3" x2="77.3" y2="229.3" stroke="#6a6a6a" stroke-width="1.1"/>
<line x1="67.3" y1="185.3" x2="77.3" y2="185.3" stroke="#6a6a6a" stroke-width="1.1"/>
<line x1="67.3" y1="141.3" x2="77.3" y2="141.3" stroke="#6a6a6a" stroke-width="1.1"/>
<line x1="72.3" y1="295.3" x2="77.3" y2="295.3" stroke="#6a6a6a" stroke-width="1.1"/>
<line x1="72.3" y1="251.3" x2="77.3" y2="251.3" stroke="#6a6a6a" stroke-width="1.1"/>
<line x1="72.3" y1="207.3" x2="77.3" y2="207.3" stroke="#6a6a6a" stroke-width="1.1"/>
<line x1="72.3" y1="163.3" x2="77.3" y2="163.3" stroke="#6a6a6a" stroke-width="1.1"/>
<line x1="77.3" y1="317.3" x2="77.3" y2="327.3" stroke="#6a6a6a" stroke-width="1.1"/>
<text x="77.3" y="349.0" text-anchor="middle" class="tk">900</text>
<line x1="140.4" y1="317.3" x2="140.4" y2="327.3" stroke="#6a6a6a" stroke-width="1.1"/>
<text x="140.4" y="349.0" text-anchor="middle" class="tk">1000</text>
<line x1="203.5" y1="317.3" x2="203.5" y2="327.3" stroke="#6a6a6a" stroke-width="1.1"/>
<text x="203.5" y="349.0" text-anchor="middle" class="tk">1100</text>
<line x1="266.7" y1="317.3" x2="266.7" y2="327.3" stroke="#6a6a6a" stroke-width="1.1"/>
<text x="266.7" y="349.0" text-anchor="middle" class="tk">1200</text>
<line x1="329.8" y1="317.3" x2="329.8" y2="327.3" stroke="#6a6a6a" stroke-width="1.1"/>
<text x="329.8" y="349.0" text-anchor="middle" class="tk">1300</text>
<line x1="392.9" y1="317.3" x2="392.9" y2="327.3" stroke="#6a6a6a" stroke-width="1.1"/>
<text x="392.9" y="349.0" text-anchor="middle" class="tk">1400</text>
<line x1="456.0" y1="317.3" x2="456.0" y2="327.3" stroke="#6a6a6a" stroke-width="1.1"/>
<text x="456.0" y="349.0" text-anchor="middle" class="tk">1500</text>
<line x1="519.1" y1="317.3" x2="519.1" y2="327.3" stroke="#6a6a6a" stroke-width="1.1"/>
<text x="519.1" y="349.0" text-anchor="middle" class="tk">1600</text>
<line x1="582.3" y1="317.3" x2="582.3" y2="327.3" stroke="#6a6a6a" stroke-width="1.1"/>
<text x="582.3" y="349.0" text-anchor="middle" class="tk">1700</text>
<line x1="645.4" y1="317.3" x2="645.4" y2="327.3" stroke="#6a6a6a" stroke-width="1.1"/>
<text x="645.4" y="349.0" text-anchor="middle" class="tk">1800</text>
<line x1="108.9" y1="317.3" x2="108.9" y2="322.3" stroke="#6a6a6a" stroke-width="1.1"/>
<line x1="172.0" y1="317.3" x2="172.0" y2="322.3" stroke="#6a6a6a" stroke-width="1.1"/>
<line x1="235.1" y1="317.3" x2="235.1" y2="322.3" stroke="#6a6a6a" stroke-width="1.1"/>
<line x1="298.2" y1="317.3" x2="298.2" y2="322.3" stroke="#6a6a6a" stroke-width="1.1"/>
<line x1="361.3" y1="317.3" x2="361.3" y2="322.3" stroke="#6a6a6a" stroke-width="1.1"/>
<line x1="424.5" y1="317.3" x2="424.5" y2="322.3" stroke="#6a6a6a" stroke-width="1.1"/>
<line x1="487.6" y1="317.3" x2="487.6" y2="322.3" stroke="#6a6a6a" stroke-width="1.1"/>
<line x1="550.7" y1="317.3" x2="550.7" y2="322.3" stroke="#6a6a6a" stroke-width="1.1"/>
<line x1="613.8" y1="317.3" x2="613.8" y2="322.3" stroke="#6a6a6a" stroke-width="1.1"/>
<text x="59.6" y="322.8" text-anchor="end" class="tk">0</text>
<text x="59.6" y="278.8" text-anchor="end" class="tk">10</text>
<text x="59.6" y="234.8" text-anchor="end" class="tk">20</text>
<text x="59.6" y="190.8" text-anchor="end" class="tk">30</text>
<text x="59.6" y="146.8" text-anchor="end" class="tk">40</text>
<line x1="77.3" y1="411.6" x2="77.3" y2="611.2" stroke="#6a6a6a" stroke-width="1.1"/>
<line x1="67.3" y1="601.2" x2="645.5" y2="601.2" stroke="#6a6a6a" stroke-width="1.1"/>
<line x1="67.3" y1="601.2" x2="77.3" y2="601.2" stroke="#6a6a6a" stroke-width="1.1"/>
<line x1="67.3" y1="563.3" x2="77.3" y2="563.3" stroke="#6a6a6a" stroke-width="1.1"/>
<line x1="67.3" y1="525.4" x2="77.3" y2="525.4" stroke="#6a6a6a" stroke-width="1.1"/>
<line x1="67.3" y1="487.4" x2="77.3" y2="487.4" stroke="#6a6a6a" stroke-width="1.1"/>
<line x1="67.3" y1="449.5" x2="77.3" y2="449.5" stroke="#6a6a6a" stroke-width="1.1"/>
<line x1="67.3" y1="411.6" x2="77.3" y2="411.6" stroke="#6a6a6a" stroke-width="1.1"/>
<line x1="72.3" y1="582.2" x2="77.3" y2="582.2" stroke="#6a6a6a" stroke-width="1.1"/>
<line x1="72.3" y1="544.3" x2="77.3" y2="544.3" stroke="#6a6a6a" stroke-width="1.1"/>
<line x1="72.3" y1="506.4" x2="77.3" y2="506.4" stroke="#6a6a6a" stroke-width="1.1"/>
<line x1="72.3" y1="468.5" x2="77.3" y2="468.5" stroke="#6a6a6a" stroke-width="1.1"/>
<line x1="72.3" y1="430.6" x2="77.3" y2="430.6" stroke="#6a6a6a" stroke-width="1.1"/>
<line x1="77.3" y1="601.2" x2="77.3" y2="611.2" stroke="#6a6a6a" stroke-width="1.1"/>
<text x="77.3" y="633.0" text-anchor="middle" class="tk">900</text>
<line x1="140.4" y1="601.2" x2="140.4" y2="611.2" stroke="#6a6a6a" stroke-width="1.1"/>
<text x="140.4" y="633.0" text-anchor="middle" class="tk">1000</text>
<line x1="203.5" y1="601.2" x2="203.5" y2="611.2" stroke="#6a6a6a" stroke-width="1.1"/>
<text x="203.5" y="633.0" text-anchor="middle" class="tk">1100</text>
<line x1="266.7" y1="601.2" x2="266.7" y2="611.2" stroke="#6a6a6a" stroke-width="1.1"/>
<text x="266.7" y="633.0" text-anchor="middle" class="tk">1200</text>
<line x1="329.8" y1="601.2" x2="329.8" y2="611.2" stroke="#6a6a6a" stroke-width="1.1"/>
<text x="329.8" y="633.0" text-anchor="middle" class="tk">1300</text>
<line x1="392.9" y1="601.2" x2="392.9" y2="611.2" stroke="#6a6a6a" stroke-width="1.1"/>
<text x="392.9" y="633.0" text-anchor="middle" class="tk">1400</text>
<line x1="456.0" y1="601.2" x2="456.0" y2="611.2" stroke="#6a6a6a" stroke-width="1.1"/>
<text x="456.0" y="633.0" text-anchor="middle" class="tk">1500</text>
<line x1="519.1" y1="601.2" x2="519.1" y2="611.2" stroke="#6a6a6a" stroke-width="1.1"/>
<text x="519.1" y="633.0" text-anchor="middle" class="tk">1600</text>
<line x1="582.3" y1="601.2" x2="582.3" y2="611.2" stroke="#6a6a6a" stroke-width="1.1"/>
<text x="582.3" y="633.0" text-anchor="middle" class="tk">1700</text>
<line x1="645.4" y1="601.2" x2="645.4" y2="611.2" stroke="#6a6a6a" stroke-width="1.1"/>
<text x="645.4" y="633.0" text-anchor="middle" class="tk">1800</text>
<line x1="108.9" y1="601.2" x2="108.9" y2="606.2" stroke="#6a6a6a" stroke-width="1.1"/>
<line x1="172.0" y1="601.2" x2="172.0" y2="606.2" stroke="#6a6a6a" stroke-width="1.1"/>
<line x1="235.1" y1="601.2" x2="235.1" y2="606.2" stroke="#6a6a6a" stroke-width="1.1"/>
<line x1="298.2" y1="601.2" x2="298.2" y2="606.2" stroke="#6a6a6a" stroke-width="1.1"/>
<line x1="361.3" y1="601.2" x2="361.3" y2="606.2" stroke="#6a6a6a" stroke-width="1.1"/>
<line x1="424.5" y1="601.2" x2="424.5" y2="606.2" stroke="#6a6a6a" stroke-width="1.1"/>
<line x1="487.6" y1="601.2" x2="487.6" y2="606.2" stroke="#6a6a6a" stroke-width="1.1"/>
<line x1="550.7" y1="601.2" x2="550.7" y2="606.2" stroke="#6a6a6a" stroke-width="1.1"/>
<line x1="613.8" y1="601.2" x2="613.8" y2="606.2" stroke="#6a6a6a" stroke-width="1.1"/>
<text x="59.6" y="606.7" text-anchor="end" class="tk">0,0</text>
<text x="59.6" y="568.8" text-anchor="end" class="tk">0,2</text>
<text x="59.6" y="530.9" text-anchor="end" class="tk">0,4</text>
<text x="59.6" y="492.9" text-anchor="end" class="tk">0,6</text>
<text x="59.6" y="455.0" text-anchor="end" class="tk">0,8</text>
<text x="59.6" y="417.1" text-anchor="end" class="tk">1,0</text>
<text transform="translate(101.1,224.3) rotate(-90)" class="pk" textLength="26.9" lengthAdjust="spacingAndGlyphs">930</text>
<text transform="translate(166.5,279.3) rotate(-90)" class="pk" textLength="34.5" lengthAdjust="spacingAndGlyphs">1032</text>
<text transform="translate(199.2,261.2) rotate(-90)" class="pk" textLength="35.0" lengthAdjust="spacingAndGlyphs">1087</text>
<text transform="translate(238.2,207.5) rotate(-90)" class="pk" textLength="34.5" lengthAdjust="spacingAndGlyphs">1142</text>
<text transform="translate(266.6,233.7) rotate(-90)" class="pk" textLength="34.8" lengthAdjust="spacingAndGlyphs">1180</text>
<text transform="translate(293.6,235.4) rotate(-90)" class="pk" textLength="34.1" lengthAdjust="spacingAndGlyphs">1238</text>
<text transform="translate(315.2,235.4) rotate(-90)" class="pk" textLength="34.2" lengthAdjust="spacingAndGlyphs">1277</text>
<text transform="translate(341.1,186.3) rotate(-90)" class="pk" textLength="35.4" lengthAdjust="spacingAndGlyphs">1306</text>
<text transform="translate(384.8,128.9) rotate(-90)" class="pk" textLength="35.0" lengthAdjust="spacingAndGlyphs">1380</text>
<text transform="translate(403.2,132.7) rotate(-90)" class="pk" textLength="34.7" lengthAdjust="spacingAndGlyphs">1412</text>
<text transform="translate(449.2,135.7) rotate(-90)" class="pk" textLength="34.7" lengthAdjust="spacingAndGlyphs">1477</text>
<text transform="translate(473.3,171.6) rotate(-90)" class="pk" textLength="35.0" lengthAdjust="spacingAndGlyphs">1501</text>
<text transform="translate(494.9,175.0) rotate(-90)" class="pk" textLength="33.2" lengthAdjust="spacingAndGlyphs">1547</text>
<text transform="translate(532.5,204.4) rotate(-90)" class="pk" textLength="35.0" lengthAdjust="spacingAndGlyphs">1611</text>
<text transform="translate(97.6,578.4) rotate(-90)" class="pk" textLength="25.5" lengthAdjust="spacingAndGlyphs">915</text>
<text transform="translate(154.6,566.7) rotate(-90)" class="pk" textLength="34.7" lengthAdjust="spacingAndGlyphs">1017</text>
<text transform="translate(186.8,539.0) rotate(-90)" class="pk" textLength="34.6" lengthAdjust="spacingAndGlyphs">1080</text>
<text transform="translate(218.7,465.5) rotate(-90)" class="pk" textLength="35.2" lengthAdjust="spacingAndGlyphs">1118</text>
<text transform="translate(250.9,544.2) rotate(-90)" class="pk" textLength="34.8" lengthAdjust="spacingAndGlyphs">1161</text>
<text transform="translate(275.8,548.2) rotate(-90)" class="pk" textLength="34.6" lengthAdjust="spacingAndGlyphs">1212</text>
<text transform="translate(301.2,506.4) rotate(-90)" class="pk" textLength="34.6" lengthAdjust="spacingAndGlyphs">1261</text>
<text transform="translate(327.3,471.6) rotate(-90)" class="pk" textLength="35.2" lengthAdjust="spacingAndGlyphs">1291</text>
<text transform="translate(356.5,466.9) rotate(-90)" class="pk" textLength="34.5" lengthAdjust="spacingAndGlyphs">1338</text>
<text transform="translate(384.8,427.4) rotate(-90)" class="pk" textLength="35.1" lengthAdjust="spacingAndGlyphs">1379</text>
<text transform="translate(428.6,461.8) rotate(-90)" class="pk" textLength="35.0" lengthAdjust="spacingAndGlyphs">1455</text>
<text transform="translate(455.9,458.2) rotate(-90)" class="pk" textLength="35.5" lengthAdjust="spacingAndGlyphs">1481</text>
<text transform="translate(492.4,499.1) rotate(-90)" class="pk" textLength="35.5" lengthAdjust="spacingAndGlyphs">1548</text>
<text transform="translate(536.0,407.0) rotate(-90)" class="pk" textLength="34.2" lengthAdjust="spacingAndGlyphs">1617</text>
<line x1="419.5" y1="165.2" x2="419.5" y2="250" stroke="#a0a0a0" stroke-width="1.1"/>
<path d="M417.2,248.4 L421.8,248.4 L419.5,255.6 Z" fill="#a0a0a0"/>
<text transform="translate(428,157.3) rotate(-90)" class="gl" textLength="127.5" lengthAdjust="spacingAndGlyphs">1443 C-H (CH<tspan font-size="11.5" dy="3">3</tspan><tspan dy="-3">CN)</tspan></text>
<text x="538.8" y="20.5" class="it" font-size="24.5" textLength="145" lengthAdjust="spacingAndGlyphs">Experimental</text>
<text x="562.3" y="378.7" class="it" font-size="25.5" textLength="115" lengthAdjust="spacingAndGlyphs">Calculated</text>
<text transform="translate(29.3,287.9) rotate(-90)" class="ax" font-size="19" textLength="73.5" lengthAdjust="spacingAndGlyphs">Intensity</text>
<text transform="translate(28.9,202.3) rotate(-90)" class="ax" font-size="21" text-anchor="middle">×</text>
<text transform="translate(29.6,190.0) rotate(-90)" class="ax" font-size="19" textLength="21.4" lengthAdjust="spacingAndGlyphs">10</text>
<text transform="translate(20.9,168.5) rotate(-90)" font-size="13.5" fill="#333" textLength="10.2" lengthAdjust="spacingAndGlyphs">-3</text>
<text transform="translate(24.4,593.3) rotate(-90)" class="ax" font-size="19" textLength="174.1" lengthAdjust="spacingAndGlyphs">Normalized intensity</text>
<text x="284.4" y="663.6" class="ax" textLength="142.6" lengthAdjust="spacingAndGlyphs">Raman shift / cm</text>
<text x="427.6" y="655.8" font-size="13" fill="#333">-1</text>
<g id="mol" stroke-linecap="round" fill="none">
<!-- left benzene -->
<g stroke="#858585" stroke-width="1.3">
<polygon points="51.6,49.5 75,49.5 86.2,69.9 74.5,90.4 51.6,90.4 39.9,69.9"/>
<line x1="54" y1="53.9" x2="72.6" y2="53.9"/>
<line x1="81.6" y1="71.3" x2="72.4" y2="86.6"/>
<line x1="44.3" y1="71.3" x2="53.6" y2="86.4"/>
<line x1="75" y1="49.5" x2="91.6" y2="31.4"/>
<line x1="91.6" y1="31.4" x2="112.3" y2="41.6"/>
<line x1="112.3" y1="41.6" x2="110.9" y2="56.3"/>
<line x1="108.4" y1="44.5" x2="107.3" y2="56.3"/>
<line x1="104.3" y1="66.4" x2="86.2" y2="69.9"/>
</g>
<g stroke="#a8f02c" stroke-width="1.3">
<line x1="91.6" y1="31.4" x2="75.1" y2="13.9"/>
<line x1="91.6" y1="31.4" x2="98.5" y2="8.8"/>
</g>
<line x1="116.6" y1="71" x2="127.8" y2="80.2" stroke="#e4a53a" stroke-width="1.3"/>
<line x1="51.3" y1="49.3" x2="43.7" y2="36.4" stroke="#b128f2" stroke-width="1.4"/>
<circle cx="49.8" cy="18.2" r="6.1" stroke="#b128f2" stroke-width="1.3"/>
<line x1="46.6" y1="18.2" x2="53" y2="18.2" stroke="#b128f2" stroke-width="1.4"/>
<line x1="49.8" y1="15" x2="49.8" y2="21.4" stroke="#b128f2" stroke-width="1.4"/>
<circle cx="41.4" cy="48.9" r="5.9" stroke="#b128f2" stroke-width="1.3"/>
<line x1="38.4" y1="48.9" x2="44.4" y2="48.9" stroke="#b128f2" stroke-width="1.4"/>
<g stroke="#44ea3c" stroke-width="1.4">
<line x1="39.9" y1="69.9" x2="21" y2="69.9"/>
<line x1="51.6" y1="90.4" x2="43.3" y2="103.4"/>
<line x1="74.5" y1="90.4" x2="82.6" y2="103.4"/>
<line x1="64" y1="40.9" x2="64" y2="100.6" stroke-dasharray="3.2,2.6" stroke-linecap="butt"/>
<path d="M85.6,123.4 Q91.8,125.4 98.2,118.2" stroke-width="1.7"/>
</g>
<path d="M80.2,121.6 L87.2,121 L84.6,126.3 Z" fill="#44ee3c" stroke="none"/>
<path d="M100.7,113.2 L95.2,117.5 L101,119.9 Z" fill="#44ee3c" stroke="none"/>
<!-- chain -->
<g stroke="#ff2a1e" stroke-width="1.4">
<polyline points="112.3,41.6 132.8,29.8 154.5,40.4 173.7,29.8 195.9,40.6 214.8,29.8 237.2,40.6 256.6,29.8 280,40.3"/>
<line x1="134.3" y1="33.4" x2="153.2" y2="43.2"/>
<line x1="175.2" y1="33.4" x2="194.6" y2="43.4"/>
<line x1="216.3" y1="33.4" x2="235.9" y2="43.4"/>
<line x1="258.1" y1="33.4" x2="277.2" y2="43.1"/>
</g>
<g stroke="#858585" stroke-width="1.3">
<line x1="132.8" y1="29.8" x2="132.8" y2="13.2"/>
<line x1="256.6" y1="29.8" x2="256.6" y2="13.2"/>
</g>
<g stroke="#72f2f2" stroke-width="1.3">
<line x1="154.5" y1="40.4" x2="154.5" y2="57.6"/>
<line x1="173.7" y1="29.8" x2="173.7" y2="13.2"/>
<line x1="195.9" y1="40.6" x2="195.9" y2="57.6"/>
<line x1="214.8" y1="29.8" x2="214.8" y2="13.2"/>
<line x1="237.2" y1="40.6" x2="237.2" y2="57.6"/>
</g>
<!-- right part -->
<g stroke="#858585" stroke-width="1.3">
<line x1="280" y1="40.3" x2="300.6" y2="31.4"/>
<line x1="280" y1="40.3" x2="280.7" y2="57.8"/>
<line x1="286" y1="66.3" x2="304.4" y2="69.5"/>
<line x1="300.6" y1="31.4" x2="316.1" y2="48.9"/>
<polygon points="316.1,48.9 340.1,48.9 351.7,69.5 340.1,89.9 316.1,89.9 304.4,69.5"/>
<line x1="318.7" y1="53" x2="309.4" y2="68.8"/>
<line x1="337.5" y1="53" x2="346.8" y2="68.8"/>
<line x1="318.6" y1="85.7" x2="337.6" y2="85.7"/>
</g>
<g stroke="#a8f02c" stroke-width="1.3">
<line x1="300.6" y1="31.4" x2="299" y2="18.6"/>
<line x1="300.6" y1="31.4" x2="315.2" y2="23"/>
</g>
<line x1="275.8" y1="70.4" x2="268" y2="77.2" stroke="#e4a53a" stroke-width="1.3"/>
<g stroke="#a3165f" stroke-width="1.4" stroke-dasharray="3.4,2.9" stroke-linecap="butt">
<line x1="328.7" y1="37.8" x2="328.7" y2="105"/>
<line x1="294.2" y1="69.5" x2="362" y2="69.5"/>
</g>
</g>

<g font-family="Liberation Sans, sans-serif"><text transform="translate(34.20,33.60) scale(1.039,1)" font-size="12.94" font-weight="bold" fill="#b128f2">H</text>
<text transform="translate(9.54,74.20) scale(1.057,1)" font-size="13.52" font-weight="bold" fill="#44ee3c">H</text>
<text transform="translate(34.19,116.60) scale(0.927,1)" font-size="14.68" font-weight="bold" fill="#44ee3c">H</text>
<text transform="translate(81.30,116.60) scale(0.925,1)" font-size="14.54" font-weight="bold" fill="#44ee3c">H</text>
<text transform="translate(49.49,74.29) scale(1.240,1)" font-size="11.44" font-weight="bold" fill="#44ee3c">S</text>
<text transform="translate(69.59,74.19) scale(1.096,1)" font-size="11.30" font-weight="bold" fill="#44ee3c">C</text>
<text transform="translate(128.66,10.50) scale(1.079,1)" font-size="13.08" font-weight="bold" fill="#858585">H</text>
<text transform="translate(252.12,10.70) scale(0.979,1)" font-size="13.37" font-weight="bold" fill="#858585">H</text>
<text transform="translate(170.10,10.50) scale(1.063,1)" font-size="12.65" font-weight="bold" fill="#72f2f2">H</text>
<text transform="translate(210.00,10.50) scale(1.063,1)" font-size="12.65" font-weight="bold" fill="#72f2f2">H</text>
<text transform="translate(149.10,70.00) scale(1.063,1)" font-size="12.65" font-weight="bold" fill="#72f2f2">H</text>
<text transform="translate(191.09,70.00) scale(1.029,1)" font-size="13.23" font-weight="bold" fill="#72f2f2">H</text>
<text transform="translate(232.40,70.00) scale(1.016,1)" font-size="13.23" font-weight="bold" fill="#72f2f2">H</text>
<text transform="translate(299.67,56.19) scale(1.181,1)" font-size="10.88" font-weight="bold" fill="#a3165f">C</text>
<text transform="translate(350.10,56.19) scale(1.289,1)" font-size="10.88" font-weight="bold" fill="#a3165f">S</text>
<text transform="translate(299.80,89.79) scale(1.273,1)" font-size="11.02" font-weight="bold" fill="#a3165f">S</text>
<text transform="translate(349.97,89.79) scale(1.166,1)" font-size="11.02" font-weight="bold" fill="#a3165f">C</text>
<text transform="translate(105.51,70.10) scale(0.961,1)" font-size="13.81" font-weight="bold" fill="#858585">N</text>
<text transform="translate(115.06,64.64) scale(1.118,1)" font-size="9.45" font-weight="bold" fill="#858585">+</text>
<text transform="translate(275.03,69.70) scale(1.081,1)" font-size="13.37" font-weight="bold" fill="#858585">N</text>
<text transform="translate(277.09,13.00) scale(0.975,1)" font-size="13.95" font-weight="bold" fill="#a8f02c">H</text>
<text transform="translate(286.59,15.99) scale(0.931,1)" font-size="9.73" font-weight="bold" fill="#a8f02c">3</text>
<text transform="translate(292.30,13.06) scale(1.029,1)" font-size="14.27" font-weight="bold" fill="#a8f02c">C</text>
<text transform="translate(315.75,25.86) scale(0.942,1)" font-size="14.12" font-weight="bold" fill="#a8f02c">C</text>
<text transform="translate(325.64,25.80) scale(1.013,1)" font-size="14.10" font-weight="bold" fill="#a8f02c">H</text>
<text transform="translate(336.07,28.98) scale(0.920,1)" font-size="10.71" font-weight="bold" fill="#a8f02c">3</text>
<text transform="translate(241.14,85.90) scale(1.003,1)" font-size="14.24" font-weight="bold" fill="#e4a53a">H</text>
<text transform="translate(252.16,89.07) scale(0.910,1)" font-size="11.28" font-weight="bold" fill="#e4a53a">3</text>
<text transform="translate(258.34,85.96) scale(0.936,1)" font-size="14.55" font-weight="bold" fill="#e4a53a">C</text></g>
<text transform="translate(-0.02,21.26) scale(0.776,1)" font-size="24.82" font-weight="normal" fill="#222">a</text><text transform="translate(14.60,20.61) scale(0.694,1)" font-size="25.55" font-weight="normal" fill="#222">)</text>
<text transform="translate(0.52,400.14) scale(0.926,1)" font-size="26.42" font-weight="normal" fill="#222">b</text><text transform="translate(15.59,399.51) scale(0.738,1)" font-size="25.55" font-weight="normal" fill="#222">)</text>
</svg></body></html>
